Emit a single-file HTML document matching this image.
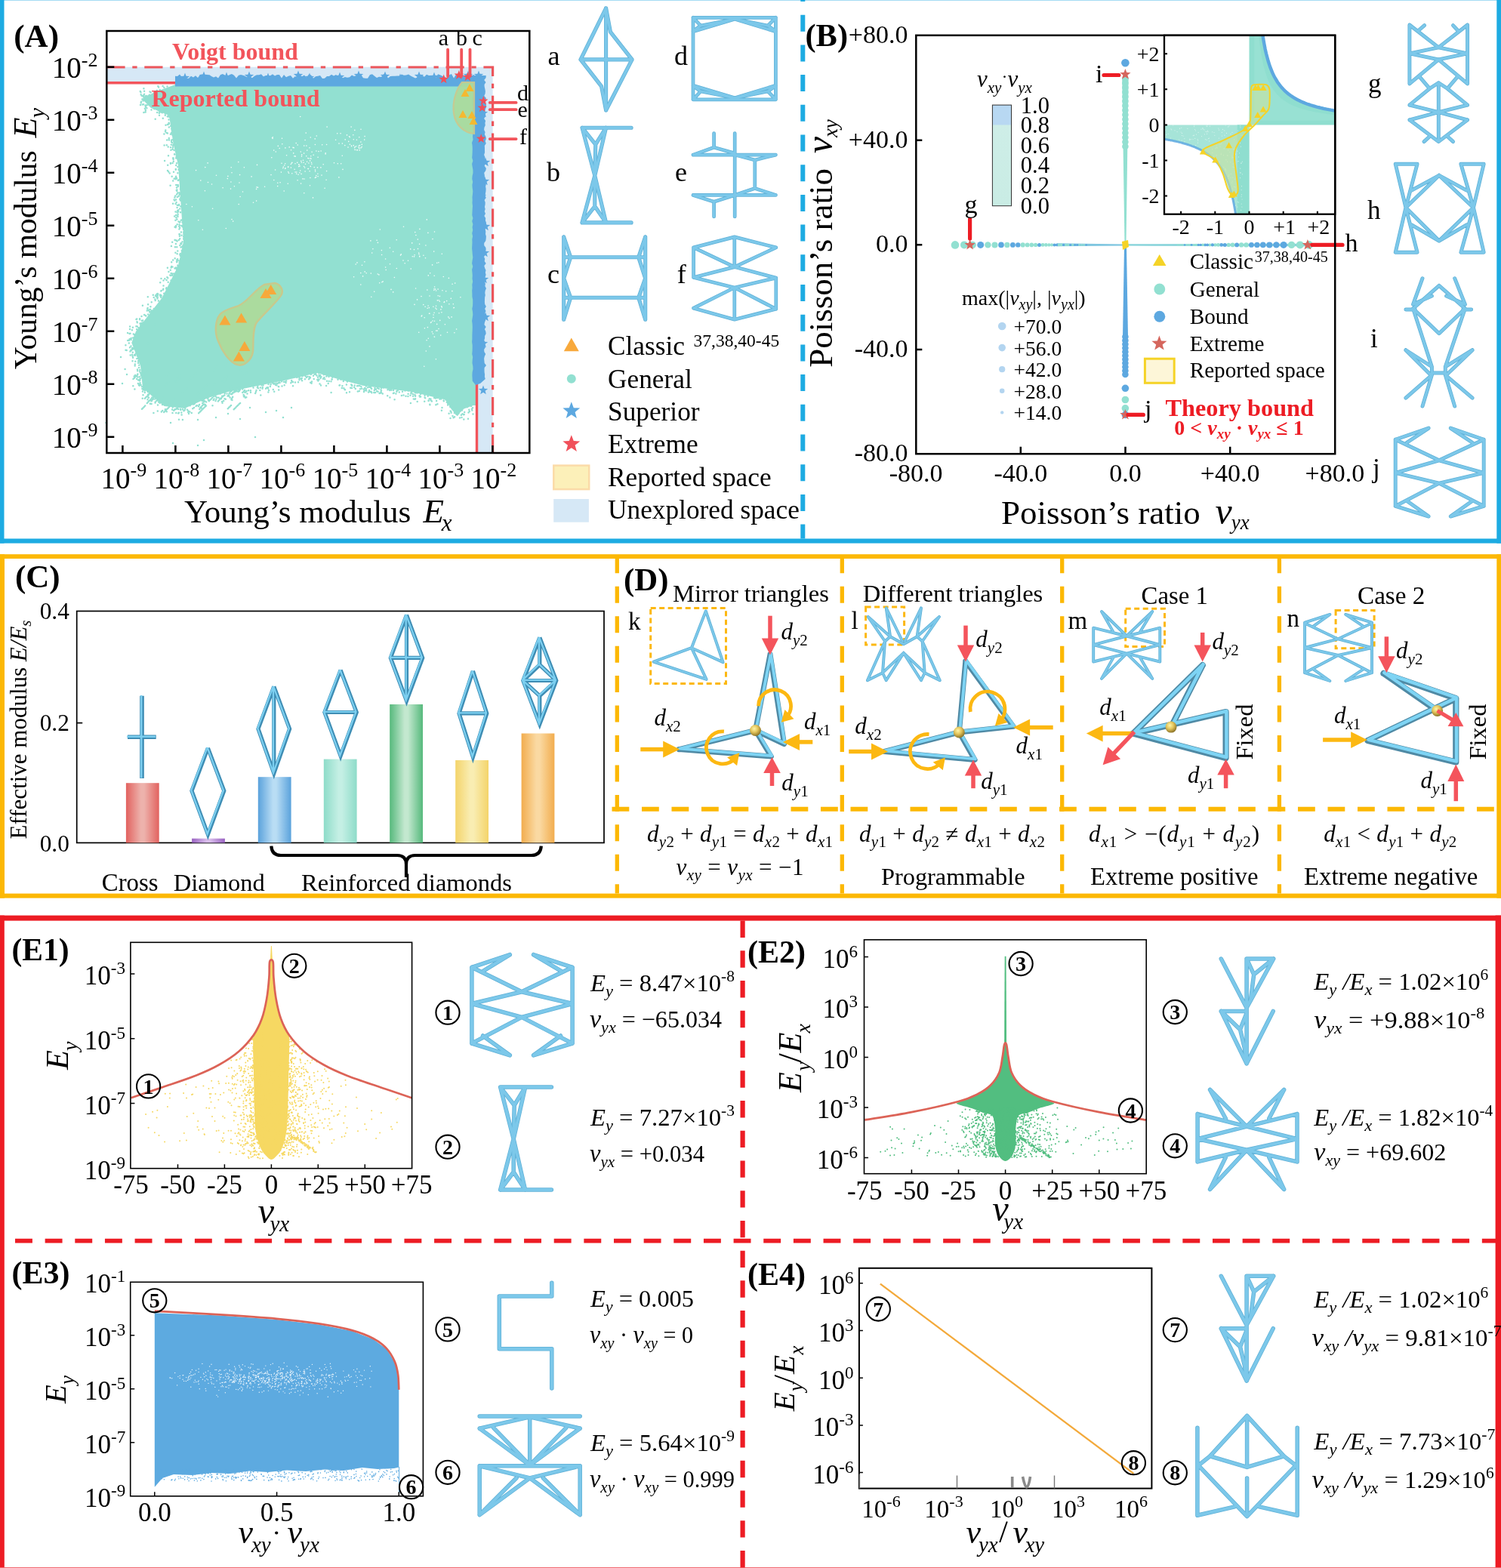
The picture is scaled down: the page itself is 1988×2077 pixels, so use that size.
<!DOCTYPE html>
<html><head><meta charset="utf-8"><title>Figure</title>
<style>html,body{margin:0;padding:0;background:#fff;} svg{display:block;} text{font-family:'Liberation Serif','DejaVu Serif',serif;}</style>
</head><body>
<svg xmlns="http://www.w3.org/2000/svg" width="1988" height="2077" viewBox="0 0 1988 2077">
<rect width="1988" height="2077" fill="#fff"/>
<rect x="0" y="0" width="1988" height="1" fill="#A5DCF3"/>
<rect x="0" y="0" width="5.5" height="719.6" fill="#1DABE2"/>
<rect x="1982.3" y="0" width="5.7" height="719.6" fill="#1DABE2"/>
<rect x="0" y="713.5" width="1988" height="6.1" fill="#1DABE2"/>
<line x1="1063.3" y1="0" x2="1063.3" y2="713.5" stroke="#1DABE2" stroke-width="6" stroke-dasharray="22 17.7" stroke-dashoffset="20"/>
<rect x="0" y="734.2" width="1988" height="5.8" fill="#FCB804"/>
<rect x="0" y="734.2" width="6" height="455.4" fill="#FCB804"/>
<rect x="1982.3" y="734.2" width="5.7" height="455.4" fill="#FCB804"/>
<rect x="0" y="1183.6" width="1988" height="6" fill="#FCB804"/>
<line x1="817.3" y1="737.3" x2="817.3" y2="1183.6" stroke="#FCB804" stroke-width="5.3" stroke-dasharray="22 17.45"/>
<line x1="1115.3" y1="737.3" x2="1115.3" y2="1183.6" stroke="#FCB804" stroke-width="5.3" stroke-dasharray="22 17.45"/>
<line x1="1406.7" y1="737.3" x2="1406.7" y2="1183.6" stroke="#FCB804" stroke-width="5.3" stroke-dasharray="22 17.45"/>
<line x1="1694.4" y1="737.3" x2="1694.4" y2="1183.6" stroke="#FCB804" stroke-width="5.3" stroke-dasharray="22 17.45"/>
<line x1="810.5" y1="1071.7" x2="1982" y2="1071.7" stroke="#FCB804" stroke-width="5.9" stroke-dasharray="22.8 16.7"/>
<rect x="0" y="1212.6" width="1988" height="7" fill="#ED1C24"/>
<rect x="0" y="1212.6" width="5.8" height="865" fill="#ED1C24"/>
<rect x="1980.6" y="1212.6" width="7.4" height="865" fill="#ED1C24"/>
<rect x="0" y="2076" width="1988" height="1" fill="#F26A70"/>
<line x1="983.6" y1="1219.6" x2="983.6" y2="2077" stroke="#ED1C24" stroke-width="6.2" stroke-dasharray="22.4 17.33"/>
<line x1="20" y1="1643.6" x2="1981" y2="1643.6" stroke="#ED1C24" stroke-width="5.8" stroke-dasharray="22.9 16.75"/>
<polygon points="141.3,88.8 652.6,88.8 652.6,600.0 631.5,600.0 631.5,109.8 141.3,109.8" fill="#D6E8F6"/>
<polygon points="232.0,112.0 630.0,112.0 630.0,537.0 627.0,537.0 613.0,542.0 605.5,551.0 597.8,542.0 590.0,529.5 543.7,518.7 481.8,511.0 451.0,503.0 420.0,494.0 378.8,503.6 334.0,512.5 304.0,518.5 274.3,527.5 244.5,541.0 217.6,538.0 189.0,514.0 186.0,484.0 174.3,454.0 180.0,439.0 214.6,394.6 236.0,352.0 243.0,320.0 236.0,219.0 229.5,190.0 224.0,153.0 200.0,143.0 188.0,131.0 205.0,122.0 229.5,113.0" fill="#92E0D1"/>
<path d="M624.9 541.7h0M621.3 542.7h0M626.1 540.2h0M626.5 548.5h0M620.1 538.1h0M624.0 538.1h0M621.8 544.9h0M625.3 543.5h0M618.7 539.2h0M612.8 541.4h0M620.5 546.5h0M614.8 539.9h0M615.2 545.9h0M618.9 538.4h0M614.7 548.9h0M614.1 549.2h0M612.0 543.6h0M609.7 544.6h0M614.3 555.5h0M609.0 553.6h0M620.0 554.8h0M607.5 547.4h0M611.5 552.9h0M605.3 549.1h0M612.5 548.3h0M610.9 549.7h0M606.8 548.0h0M596.6 544.6h0M599.5 551.1h0M606.1 549.3h0M602.1 552.2h0M601.9 547.1h0M597.6 546.7h0M602.8 547.1h0M600.6 553.2h0M594.6 547.8h0M604.3 548.6h0M596.5 554.0h0M597.2 544.9h0M595.4 534.6h0M603.1 540.3h0M591.8 532.8h0M594.5 533.9h0M598.1 539.2h0M599.1 534.5h0M593.1 536.4h0M596.3 538.9h0M593.2 534.4h0M599.7 534.8h0M596.4 538.3h0M597.4 538.9h0M605.3 531.0h0M596.4 534.3h0M598.0 538.9h0M597.1 527.6h0M577.0 527.6h0M545.2 519.6h0M590.5 529.6h0M552.3 520.5h0M570.5 530.3h0M588.8 525.9h0M567.6 530.4h0M550.1 528.3h0M549.9 520.3h0M544.3 520.4h0M557.1 525.4h0M569.4 536.3h0M568.7 528.2h0M584.9 543.7h0M567.6 531.1h0M543.9 534.0h0M562.6 523.8h0M557.1 522.0h0M579.5 527.1h0M543.5 523.7h0M569.3 535.7h0M571.9 531.4h0M562.6 526.4h0M578.1 531.1h0M587.8 531.3h0M575.1 527.1h0M566.7 524.7h0M547.1 524.7h0M576.4 526.5h0M549.4 523.1h0M585.5 540.0h0M549.7 528.7h0M579.4 535.3h0M555.9 525.4h0M550.1 524.8h0M550.0 524.0h0M587.6 530.6h0M563.2 527.3h0M578.4 526.5h0M570.4 528.4h0M566.3 521.9h0M557.6 519.8h0M578.6 526.6h0M546.9 522.1h0M584.2 528.5h0M580.2 526.8h0M547.8 528.5h0M552.7 532.0h0M562.2 531.7h0M577.3 536.3h0M555.6 524.3h0M582.3 528.6h0M504.5 516.3h0M485.3 517.4h0M497.1 520.1h0M484.2 517.0h0M525.4 518.0h0M484.9 515.2h0M525.4 518.6h0M544.5 521.2h0M506.7 512.9h0M525.4 518.8h0M501.8 512.2h0M482.4 517.6h0M506.8 521.5h0M536.5 517.4h0M483.4 514.0h0M534.5 523.4h0M520.9 521.0h0M516.2 516.9h0M499.1 518.2h0M520.6 514.2h0M489.0 517.1h0M482.0 518.9h0M481.8 515.6h0M504.6 519.1h0M515.5 515.4h0M505.0 514.0h0M495.8 517.1h0M505.0 517.5h0M495.3 519.9h0M492.2 515.1h0M488.0 519.6h0M491.6 518.8h0M496.5 514.0h0M502.5 520.9h0M518.0 515.6h0M533.0 518.8h0M491.0 513.0h0M511.5 512.5h0M492.3 520.3h0M528.8 519.4h0M522.6 529.3h0M499.8 513.9h0M521.8 520.5h0M496.4 515.9h0M516.4 526.6h0M507.8 513.5h0M498.0 515.7h0M526.9 517.0h0M518.4 516.8h0M531.9 524.0h0M540.8 517.5h0M483.0 514.2h0M501.7 515.1h0M513.4 516.3h0M513.2 524.2h0M500.6 518.8h0M540.4 524.9h0M524.4 521.6h0M489.1 512.7h0M487.0 513.3h0M521.1 517.0h0M491.5 514.2h0M540.6 521.7h0M537.5 524.8h0M489.8 518.7h0M503.5 520.7h0M484.8 511.5h0M505.0 520.3h0M469.7 510.6h0M466.2 510.9h0M456.6 516.1h0M473.8 518.5h0M479.5 509.1h0M470.3 507.0h0M476.4 510.9h0M453.4 511.3h0M479.2 514.7h0M459.9 505.5h0M452.8 514.0h0M473.0 511.3h0M450.0 510.2h0M459.0 520.3h0M455.3 514.2h0M457.0 502.8h0M477.0 515.2h0M478.4 512.2h0M469.2 513.0h0M465.8 509.7h0M474.4 511.0h0M463.0 519.2h0M455.1 503.1h0M475.8 518.1h0M460.4 503.3h0M451.2 502.4h0M465.2 509.5h0M457.0 516.2h0M458.9 509.4h0M465.9 505.3h0M464.2 513.7h0M454.8 505.1h0M471.7 506.0h0M470.8 515.0h0M466.0 514.0h0M419.5 497.5h0M438.6 520.0h0M425.5 499.2h0M424.5 501.0h0M424.2 496.9h0M449.5 510.6h0M420.6 492.4h0M432.3 498.4h0M424.0 499.1h0M439.4 502.4h0M433.3 497.5h0M423.5 508.5h0M434.7 508.0h0M420.3 503.1h0M435.5 499.0h0M438.5 505.3h0M440.3 499.8h0M422.8 497.3h0M421.8 492.8h0M435.7 505.1h0M425.0 510.4h0M447.5 502.7h0M451.9 502.6h0M428.8 496.3h0M430.3 502.2h0M422.3 494.1h0M433.0 504.8h0M439.8 502.4h0M422.5 496.8h0M429.4 499.9h0M422.5 502.8h0M422.8 498.3h0M432.1 511.1h0M421.0 499.8h0M428.0 501.8h0M395.6 498.4h0M409.7 501.3h0M412.6 507.8h0M403.9 497.6h0M379.2 504.4h0M415.0 497.7h0M410.9 499.9h0M405.9 500.0h0M400.1 504.2h0M391.0 506.5h0M399.8 501.0h0M414.4 492.2h0M396.6 499.4h0M413.0 505.4h0M418.3 494.5h0M418.3 495.9h0M394.8 498.8h0M407.4 498.8h0M421.7 502.6h0M416.7 495.7h0M411.8 496.0h0M395.3 498.9h0M409.1 502.2h0M386.4 505.5h0M403.9 502.2h0M398.9 502.2h0M395.0 506.2h0M399.9 497.9h0M409.8 499.3h0M401.0 498.1h0M396.4 503.2h0M389.7 499.4h0M415.7 502.0h0M386.2 504.0h0M385.3 507.3h0M404.8 498.2h0M393.3 500.1h0M421.4 504.4h0M398.5 501.5h0M388.0 506.1h0M396.5 501.2h0M418.1 493.5h0M413.0 494.6h0M411.2 506.7h0M388.0 511.3h0M410.5 501.1h0M338.2 521.1h0M361.8 515.9h0M358.7 508.7h0M344.3 516.9h0M375.9 505.7h0M370.6 506.9h0M338.9 518.9h0M361.1 507.3h0M365.7 507.4h0M345.0 513.5h0M346.6 510.2h0M355.4 519.4h0M362.4 508.5h0M377.8 505.8h0M369.2 516.5h0M341.6 509.2h0M347.8 513.0h0M363.2 518.8h0M348.6 510.2h0M345.3 523.5h0M355.0 514.6h0M335.0 511.3h0M356.1 517.0h0M373.0 505.2h0M358.5 509.4h0M378.6 506.9h0M354.9 513.3h0M365.2 510.0h0M370.1 504.4h0M368.9 507.1h0M342.2 514.2h0M346.7 510.3h0M366.4 510.2h0M373.5 503.8h0M368.8 511.9h0M353.3 513.4h0M376.7 510.2h0M347.6 514.8h0M355.5 509.0h0M363.5 508.6h0M341.3 511.9h0M363.3 508.1h0M357.9 511.9h0M352.1 514.8h0M340.9 513.6h0M335.6 513.6h0M369.2 512.3h0M373.5 511.4h0M339.5 517.0h0M367.7 508.0h0M322.6 523.0h0M325.4 519.5h0M310.7 519.0h0M321.7 514.2h0M317.1 517.2h0M326.6 517.9h0M331.9 517.2h0M324.9 526.7h0M318.1 516.1h0M322.9 525.2h0M304.8 519.2h0M332.0 519.7h0M321.3 515.6h0M323.8 524.8h0M324.4 519.7h0M307.3 527.6h0M315.9 516.1h0M315.8 518.8h0M308.2 525.7h0M310.2 518.2h0M306.1 517.9h0M317.0 517.7h0M307.1 517.4h0M310.1 519.0h0M307.9 520.5h0M326.3 526.2h0M315.9 515.1h0M314.3 518.3h0M316.4 515.6h0M329.1 517.2h0M312.3 518.6h0M327.5 521.5h0M306.9 527.8h0M296.2 530.9h0M294.1 524.7h0M291.7 521.5h0M285.3 524.1h0M275.5 527.8h0M301.5 524.5h0M303.2 524.5h0M297.8 521.0h0M275.9 530.0h0M282.8 525.3h0M303.6 520.9h0M293.1 528.0h0M300.5 521.6h0M294.5 533.7h0M305.9 522.1h0M294.1 532.1h0M304.6 526.5h0M281.5 537.3h0M291.5 528.1h0M289.5 526.7h0M285.5 531.0h0M297.5 528.3h0M306.4 529.3h0M286.3 528.7h0M287.2 526.6h0M283.5 528.4h0M281.8 523.2h0M282.7 530.1h0M307.4 530.0h0M285.4 525.3h0M298.8 528.7h0M290.3 530.0h0M297.4 523.5h0M303.1 523.2h0M257.0 540.1h0M272.0 537.4h0M251.6 536.1h0M260.7 537.1h0M266.6 540.6h0M255.0 534.2h0M257.6 533.5h0M257.6 534.9h0M247.8 536.2h0M270.3 535.4h0M264.3 542.0h0M275.5 527.2h0M248.6 537.3h0M274.5 527.6h0M270.1 530.8h0M269.9 532.4h0M259.6 538.1h0M267.1 527.6h0M271.9 536.1h0M251.4 545.4h0M271.4 531.6h0M263.7 536.4h0M273.2 532.6h0M253.8 547.0h0M268.2 534.1h0M267.5 530.7h0M248.1 542.8h0M262.9 538.2h0M249.5 544.6h0M251.7 537.3h0M249.2 546.0h0M264.1 536.1h0M274.7 526.5h0M255.3 541.3h0M256.0 535.4h0M228.1 542.5h0M236.2 547.4h0M220.8 545.3h0M237.0 555.7h0M236.1 542.0h0M218.9 542.2h0M236.9 546.8h0M245.3 541.3h0M238.5 538.8h0M234.0 541.2h0M244.6 543.2h0M234.0 541.1h0M231.6 542.2h0M219.3 544.0h0M230.1 543.7h0M233.0 541.9h0M239.3 543.0h0M244.0 543.5h0M240.6 549.4h0M233.3 546.9h0M241.9 555.9h0M243.5 544.2h0M241.9 542.3h0M228.5 547.1h0M230.8 543.2h0M240.3 546.5h0M234.9 541.1h0M238.9 542.1h0M228.7 539.5h0M192.4 514.6h0M196.6 526.8h0M208.0 530.3h0M191.8 517.5h0M191.8 520.1h0M195.9 522.8h0M197.0 526.8h0M201.1 530.7h0M201.6 523.2h0M197.7 519.1h0M196.3 524.1h0M205.6 533.5h0M189.5 523.3h0M205.0 525.7h0M188.9 518.5h0M190.1 514.5h0M189.7 515.9h0M205.7 532.4h0M203.0 526.3h0M195.5 529.3h0M203.4 547.0h0M197.1 522.5h0M203.1 528.5h0M197.8 521.5h0M205.3 528.5h0M213.5 533.0h0M200.6 535.0h0M209.0 536.5h0M188.7 527.7h0M198.9 534.8h0M208.8 544.6h0M211.7 533.8h0M191.6 516.2h0M188.4 515.1h0M195.8 518.9h0M215.0 536.1h0M207.4 530.9h0M205.4 525.6h0M201.3 526.5h0M200.4 531.3h0M202.4 528.9h0M186.1 494.0h0M182.4 495.6h0M185.3 508.6h0M190.5 497.7h0M184.9 504.2h0M181.2 502.0h0M182.0 489.6h0M184.8 502.7h0M184.1 486.9h0M185.2 492.2h0M185.8 501.7h0M187.7 500.3h0M186.6 494.5h0M185.3 490.0h0M189.0 492.6h0M183.9 510.1h0M176.3 511.3h0M186.6 510.1h0M184.6 510.8h0M182.9 508.0h0M187.1 497.7h0M183.2 503.6h0M184.8 499.3h0M187.3 494.5h0M190.4 511.9h0M182.2 491.3h0M185.6 507.3h0M182.4 499.4h0M185.0 502.6h0M185.3 504.0h0M188.0 512.2h0M186.7 496.4h0M178.4 515.5h0M175.6 471.7h0M167.7 463.9h0M178.2 469.9h0M175.0 461.0h0M181.8 471.3h0M179.0 470.7h0M172.0 460.3h0M183.1 480.7h0M170.8 454.6h0M172.7 470.6h0M176.1 473.7h0M184.3 483.7h0M184.3 478.0h0M183.1 478.3h0M175.1 469.8h0M181.3 475.0h0M179.3 478.7h0M179.9 468.6h0M172.4 465.6h0M173.7 464.3h0M178.1 470.5h0M183.3 475.0h0M166.4 457.3h0M166.5 463.7h0M165.6 489.0h0M175.2 462.7h0M178.8 482.6h0M178.7 484.6h0M175.5 478.2h0M176.9 462.3h0M173.3 463.8h0M175.8 466.8h0M185.8 481.3h0M177.0 461.1h0M173.5 458.6h0M171.6 449.2h0M173.7 450.0h0M178.4 446.5h0M176.2 447.5h0M178.4 443.3h0M178.2 443.7h0M171.5 442.1h0M173.7 448.0h0M176.8 442.4h0M169.2 451.1h0M177.5 447.9h0M172.0 436.1h0M171.0 450.8h0M174.9 437.2h0M169.1 441.1h0M177.5 453.4h0M172.5 441.7h0M191.1 417.1h0M207.7 393.3h0M185.1 423.3h0M198.0 412.9h0M183.6 434.3h0M206.0 391.6h0M196.1 403.3h0M189.2 424.4h0M208.9 393.4h0M206.6 392.4h0M181.2 422.6h0M203.8 408.9h0M201.8 412.5h0M190.6 427.2h0M195.3 408.9h0M205.7 398.1h0M209.1 390.8h0M195.8 393.2h0M172.1 432.4h0M187.4 427.9h0M186.4 430.6h0M196.9 411.0h0M185.5 428.5h0M185.1 422.3h0M196.2 416.5h0M186.4 428.7h0M188.9 404.7h0M186.3 431.0h0M198.5 410.0h0M181.1 436.3h0M213.3 394.1h0M189.1 427.5h0M181.5 426.3h0M175.9 433.7h0M180.5 423.0h0M186.4 433.7h0M208.5 395.4h0M190.2 428.6h0M205.4 396.5h0M192.8 418.0h0M186.9 429.1h0M193.3 418.6h0M194.8 411.5h0M181.8 432.5h0M187.8 424.7h0M202.8 390.8h0M181.8 427.2h0M198.3 418.0h0M203.7 394.0h0M199.6 413.1h0M200.7 400.3h0M199.4 406.3h0M187.5 419.1h0M195.6 408.0h0M207.5 389.8h0M202.2 412.0h0M200.9 411.4h0M180.4 432.3h0M198.9 410.0h0M209.9 398.4h0M198.3 413.5h0M227.9 362.9h0M218.3 369.3h0M213.5 392.9h0M230.3 366.7h0M225.3 364.6h0M225.8 357.7h0M222.3 368.2h0M212.1 390.6h0M231.2 365.6h0M216.0 383.8h0M208.2 390.7h0M237.8 352.7h0M226.5 371.6h0M234.4 357.0h0M213.5 368.9h0M226.6 361.9h0M232.9 354.5h0M230.1 362.6h0M220.6 370.9h0M236.1 352.0h0M226.7 354.4h0M212.2 374.3h0M212.2 391.8h0M228.5 353.4h0M212.6 392.1h0M217.2 388.8h0M226.2 365.1h0M208.7 389.1h0M213.3 385.6h0M234.6 355.1h0M216.5 378.6h0M228.0 362.5h0M235.5 353.5h0M221.4 367.2h0M231.1 363.9h0M216.3 382.7h0M223.4 360.0h0M231.5 355.5h0M217.1 394.1h0M213.7 385.1h0M233.6 356.0h0M209.2 389.6h0M222.7 373.7h0M216.8 392.3h0M220.5 381.3h0M220.1 382.4h0M228.4 364.8h0M212.8 392.6h0M227.1 353.0h0M216.5 371.6h0M221.9 354.7h0M213.6 391.3h0M232.4 334.7h0M231.8 317.9h0M234.3 327.2h0M227.2 347.3h0M243.2 327.1h0M226.9 326.1h0M231.9 327.3h0M238.8 335.9h0M234.6 319.6h0M234.7 336.3h0M238.3 337.3h0M239.6 327.6h0M235.2 343.2h0M240.8 331.9h0M241.3 326.9h0M242.0 325.8h0M239.1 338.2h0M228.2 320.7h0M229.2 344.6h0M240.3 322.3h0M238.3 325.0h0M232.9 323.0h0M241.6 334.1h0M239.3 322.5h0M231.6 317.9h0M234.0 346.4h0M235.3 332.4h0M238.9 338.8h0M234.3 344.2h0M235.8 345.2h0M231.7 342.3h0M234.2 347.2h0M235.4 351.6h0M238.2 345.4h0M240.2 323.2h0M237.7 348.1h0M237.8 298.4h0M234.3 253.0h0M239.8 291.7h0M235.9 245.2h0M224.7 229.6h0M233.7 318.6h0M235.4 229.2h0M233.8 252.0h0M223.2 227.6h0M235.9 238.9h0M225.6 245.8h0M237.9 312.8h0M235.3 285.7h0M236.6 260.1h0M231.2 265.5h0M237.3 255.4h0M236.5 271.9h0M236.2 280.1h0M237.3 300.0h0M243.1 316.5h0M234.4 290.6h0M242.4 288.9h0M237.1 270.9h0M237.8 237.9h0M232.8 224.1h0M241.8 300.2h0M233.3 288.3h0M236.2 278.2h0M241.5 320.2h0M238.3 276.4h0M242.2 277.0h0M234.9 245.3h0M232.4 291.7h0M232.5 280.4h0M240.2 273.8h0M235.5 287.0h0M237.4 310.2h0M238.2 257.2h0M236.9 272.0h0M239.7 251.3h0M237.9 310.2h0M238.9 250.6h0M241.6 294.6h0M234.7 281.2h0M244.7 311.7h0M240.5 311.7h0M234.0 248.6h0M238.2 316.2h0M230.7 236.8h0M239.1 281.2h0M238.2 263.7h0M232.7 301.2h0M238.4 294.1h0M235.3 255.6h0M238.2 233.0h0M241.3 298.9h0M232.2 259.5h0M234.2 257.5h0M230.0 227.8h0M235.2 279.1h0M233.1 233.7h0M239.4 261.3h0M232.9 299.3h0M233.1 284.9h0M232.9 237.3h0M235.7 283.7h0M236.2 280.4h0M233.2 245.0h0M240.0 307.5h0M237.5 258.3h0M234.4 251.5h0M231.1 286.4h0M232.8 224.7h0M234.8 271.7h0M230.6 264.4h0M234.1 235.9h0M235.9 247.1h0M235.7 238.4h0M233.1 300.0h0M237.4 303.4h0M234.7 297.3h0M222.0 226.0h0M239.6 262.3h0M238.9 265.4h0M234.8 261.0h0M233.1 264.5h0M234.6 275.0h0M237.8 255.6h0M227.7 233.8h0M239.3 273.3h0M236.5 293.4h0M240.8 291.6h0M237.5 297.5h0M243.2 313.5h0M240.3 299.1h0M242.7 285.1h0M237.7 224.2h0M233.6 267.9h0M231.4 261.5h0M232.6 269.9h0M241.4 299.6h0M232.7 235.2h0M237.9 294.6h0M229.1 269.7h0M236.8 318.1h0M236.6 224.8h0M240.9 248.7h0M229.2 239.5h0M231.6 300.7h0M235.4 221.0h0M238.2 301.8h0M226.0 216.7h0M229.3 191.8h0M230.1 191.1h0M233.6 207.8h0M229.6 211.0h0M226.4 198.7h0M228.6 197.7h0M226.8 191.7h0M222.2 218.8h0M234.0 202.0h0M235.4 201.4h0M233.2 209.4h0M231.1 204.3h0M231.1 204.5h0M233.2 219.1h0M225.9 216.1h0M218.1 213.0h0M226.0 195.3h0M228.6 216.0h0M229.2 193.2h0M237.4 218.6h0M233.1 195.0h0M230.7 199.0h0M229.6 209.6h0M233.6 205.3h0M223.0 206.2h0M220.8 192.3h0M222.7 194.4h0M229.8 213.7h0M234.0 216.3h0M229.1 209.6h0M228.9 195.4h0M222.5 165.0h0M229.2 184.9h0M205.7 157.7h0M226.4 166.5h0M226.9 176.3h0M223.6 158.5h0M225.9 177.7h0M222.0 165.1h0M224.0 163.7h0M226.2 167.1h0M222.3 154.6h0M227.8 173.2h0M215.8 156.7h0M227.3 185.5h0M220.6 176.1h0M223.8 183.1h0M230.0 176.1h0M224.0 185.4h0M219.3 172.5h0M228.0 188.9h0M228.3 178.4h0M223.9 168.6h0M219.5 165.7h0M221.8 154.3h0M228.6 177.3h0M223.8 164.1h0M229.8 169.5h0M223.8 184.9h0M219.0 174.2h0M227.2 188.2h0M223.6 162.7h0M211.0 152.8h0M221.9 176.5h0M217.6 192.6h0M224.6 155.0h0M221.2 185.5h0M217.4 177.6h0M227.1 176.1h0M227.1 187.1h0M227.3 170.7h0M225.5 155.4h0M208.6 141.4h0M219.8 147.7h0M205.8 136.4h0M211.8 148.4h0M213.8 142.3h0M210.8 142.0h0M218.8 152.8h0M204.3 144.2h0M223.2 153.4h0M214.0 148.7h0M218.9 150.5h0M216.7 145.9h0M209.9 146.0h0M210.9 149.8h0M218.2 148.4h0M215.5 146.6h0M225.6 136.3h0M215.0 149.3h0M214.4 149.1h0M225.9 140.1h0M208.2 148.9h0M207.3 139.4h0M222.0 148.8h0M215.8 144.8h0M213.6 144.1h0M225.1 149.8h0M211.3 147.8h0M222.8 153.3h0M187.0 134.8h0M192.9 139.5h0M190.4 149.0h0M191.9 143.7h0M192.8 145.7h0M192.5 140.0h0M197.2 138.6h0M200.5 145.5h0M192.7 148.4h0M194.4 143.2h0M186.7 136.2h0M190.1 138.2h0M193.0 141.6h0M189.6 133.5h0M188.7 138.4h0M192.8 146.5h0M194.7 139.2h0M186.0 139.1h0M187.6 126.8h0M186.5 122.2h0M203.7 123.5h0M198.5 121.5h0M192.1 129.1h0M197.0 126.8h0M199.7 122.4h0M188.4 131.6h0M194.4 127.0h0M197.9 125.7h0M204.9 122.4h0M190.1 126.2h0M190.4 117.2h0M186.7 125.2h0M185.8 121.0h0M188.5 127.0h0M191.1 124.8h0M192.5 127.2h0M205.5 123.2h0M191.1 120.8h0M190.1 128.4h0M211.8 120.3h0M204.6 123.4h0M209.3 114.2h0M210.1 115.6h0M221.5 114.6h0M211.7 119.1h0M215.6 114.0h0M217.4 116.0h0M207.8 119.7h0M287.4 486.0h0M286.0 487.4h0M284.6 488.8h0M283.2 490.2h0M324.1 517.1h0M322.7 518.5h0M321.3 519.9h0M302.3 481.1h0M300.9 482.5h0M299.5 483.9h0M298.1 485.3h0M196.5 506.7h0M195.1 508.1h0M193.7 509.5h0M192.3 510.9h0M190.9 512.3h0M317.0 512.2h0M315.6 513.6h0M314.2 515.0h0M312.8 516.4h0M311.4 517.8h0M310.0 519.2h0M308.6 520.6h0M307.2 522.0h0M323.5 482.9h0M322.1 484.3h0M320.7 485.7h0M300.6 499.1h0M299.2 500.5h0M297.8 501.9h0M296.4 503.3h0M295.0 504.7h0M276.5 507.8h0M275.1 509.2h0M273.7 510.6h0M272.3 512.0h0M270.9 513.4h0M269.5 514.8h0M268.1 516.2h0M266.7 517.6h0M179.1 497.1h0M177.7 498.5h0M215.2 544.1h0M213.8 545.5h0M259.3 494.2h0M257.9 495.6h0M256.5 497.0h0M255.1 498.4h0M253.7 499.8h0M252.3 501.2h0M250.9 502.6h0M200.4 528.3h0M199.0 529.7h0M197.6 531.1h0M196.2 532.5h0M194.8 533.9h0M324.2 485.2h0M322.8 486.6h0M321.4 488.0h0M320.0 489.4h0M318.6 490.8h0M316.1 513.9h0M314.7 515.3h0M313.3 516.7h0M311.9 518.1h0M310.5 519.5h0M318.1 533.9h0M316.7 535.3h0M315.3 536.7h0M313.9 538.1h0M312.5 539.5h0M311.1 540.9h0M309.7 542.3h0M238.0 501.3h0M236.6 502.7h0M235.2 504.1h0M233.8 505.5h0M325.9 485.0h0M324.5 486.4h0M323.1 487.8h0M273.0 537.4h0M271.6 538.8h0M270.2 540.2h0M268.8 541.6h0M267.4 543.0h0M266.0 544.4h0M264.6 545.8h0M263.2 547.2h0M269.4 535.9h0M268.0 537.3h0M266.6 538.7h0M265.2 540.1h0M254.9 530.0h0M253.5 531.4h0M252.1 532.8h0M283.9 507.6h0M282.5 509.0h0M230.2 528.2h0M228.8 529.6h0M227.4 531.0h0M226.0 532.4h0M224.6 533.8h0M223.2 535.2h0M221.8 536.6h0M281.1 527.0h0M279.7 528.4h0M278.3 529.8h0M276.9 531.2h0M223.1 505.9h0M221.7 507.3h0M220.3 508.7h0M218.9 510.1h0M217.5 511.5h0M225.6 537.6h0M224.2 539.0h0M222.8 540.4h0M221.4 541.8h0M220.0 543.2h0M218.6 544.6h0M217.2 546.0h0M198.5 488.6h0M197.1 490.0h0M195.7 491.4h0M194.3 492.8h0M192.9 494.2h0M273.7 525.1h0M272.3 526.5h0M270.9 527.9h0M269.5 529.3h0M268.1 530.7h0M264.5 519.3h0M263.1 520.7h0M261.7 522.1h0M260.3 523.5h0M299.8 502.4h0M298.4 503.8h0M297.0 505.2h0M197.5 522.1h0M196.1 523.5h0M194.7 524.9h0M193.3 526.3h0M191.9 527.7h0M306.0 537.0h0M304.6 538.4h0M303.2 539.8h0M301.8 541.2h0M295.9 524.4h0M294.5 525.8h0M293.1 527.2h0M291.7 528.6h0M290.3 530.0h0M288.9 531.4h0M329.3 491.0h0M327.9 492.4h0M326.5 493.8h0M325.1 495.2h0M323.7 496.6h0M238.5 497.5h0M237.1 498.9h0M235.7 500.3h0M234.3 501.7h0M232.9 503.1h0M231.5 504.5h0M307.6 511.2h0M306.2 512.6h0M304.8 514.0h0M215.7 526.8h0M214.3 528.2h0M212.9 529.6h0M211.5 531.0h0M210.1 532.4h0M182.1 496.5h0M180.7 497.9h0M179.3 499.3h0M177.9 500.7h0M176.5 502.1h0M224.9 493.4h0M223.5 494.8h0M222.1 496.2h0M220.7 497.6h0M192.2 537.6h0M190.8 539.0h0M189.4 540.4h0M188.0 541.8h0M247.7 513.9h0M246.3 515.3h0M244.9 516.7h0M243.5 518.1h0M242.1 519.5h0M168.0 496.0h0M162.0 508.0h0M196.0 455.0h0M205.0 430.0h0M197.0 481.0h0M226.0 560.0h0M250.0 548.0h0M262.0 556.0h0M286.0 553.0h0M302.0 548.0h0M318.0 555.0h0M331.0 540.0h0M352.0 546.0h0M366.0 544.0h0M375.0 553.0h0M386.0 540.0h0M270.0 583.0h0M229.0 587.0h0M262.0 590.0h0M140.5 560.0h0M141.0 490.0h0M160.0 473.0h0M338.0 579.0h0" stroke="#92E0D1" stroke-width="2.5" stroke-linecap="round" fill="none"/>
<path d="M411.5 209.5h0M386.9 215.4h0M432.6 226.6h0M381.3 243.3h0M393.8 215.4h0M404.6 217.3h0M379.6 205.7h0M395.1 231.3h0M359.0 231.6h0M432.6 191.5h0M399.7 204.9h0M371.1 241.8h0M410.5 245.8h0M432.1 238.2h0M399.1 230.4h0M410.6 212.9h0M415.2 205.2h0M397.7 226.0h0M420.5 221.9h0M381.7 220.9h0M447.3 216.8h0M417.4 191.5h0M408.4 223.6h0M386.2 216.1h0M396.9 228.8h0M404.1 185.5h0M414.5 261.9h0M368.3 193.4h0M388.1 195.4h0M376.7 219.0h0M448.9 234.9h0M395.7 220.6h0M417.6 227.0h0M394.2 192.0h0M376.2 253.0h0M416.2 221.6h0M418.9 200.0h0M391.0 216.8h0M370.2 196.5h0M405.8 206.7h0M362.7 199.1h0M407.8 209.5h0M430.1 249.3h0M382.5 229.2h0M398.3 201.0h0M417.4 235.4h0M361.1 183.5h0M426.0 232.1h0M421.1 233.6h0M385.5 198.7h0M381.7 227.7h0M419.3 180.0h0M364.6 225.0h0M377.7 223.5h0M377.9 195.9h0M375.3 221.1h0M413.1 201.3h0M391.3 207.1h0M406.6 214.2h0M402.6 203.1h0M398.8 213.4h0M397.0 220.1h0M372.4 228.1h0M428.2 217.7h0M362.8 238.5h0M395.8 217.9h0M402.8 255.7h0M377.7 216.7h0M392.7 230.2h0M418.6 234.8h0M407.9 223.5h0M410.1 226.7h0M411.8 206.8h0M454.0 224.4h0M340.5 218.4h0M405.9 193.1h0M399.4 215.3h0M385.4 222.1h0M367.8 242.2h0M360.6 182.5h0M405.2 176.1h0M420.9 230.2h0M417.2 183.9h0M410.0 195.8h0M418.8 232.6h0M365.3 201.0h0M367.7 246.6h0M426.7 191.8h0M397.7 154.5h0M417.5 225.1h0M378.0 222.5h0M389.2 195.8h0M396.2 218.3h0M424.9 221.9h0M392.8 228.0h0M408.9 216.0h0M410.9 235.5h0M403.0 237.0h0M399.5 207.1h0M373.8 190.7h0M459.5 178.9h0M402.6 220.5h0M383.2 194.9h0M425.1 200.0h0M401.5 212.3h0M385.3 217.5h0M403.6 222.0h0M421.1 208.3h0M411.3 182.0h0M406.8 199.1h0M402.8 193.1h0M431.2 202.9h0M444.6 185.3h0M386.8 229.7h0M442.5 215.7h0M390.0 206.9h0M361.3 181.7h0M461.7 187.4h0M391.1 228.0h0M412.5 215.2h0M398.6 243.1h0M451.7 216.8h0M373.5 183.3h0M394.1 238.8h0M409.3 210.0h0M411.3 220.4h0M404.1 227.0h0M412.9 217.3h0M381.6 221.5h0M374.9 222.8h0M392.2 189.6h0M453.3 206.2h0M422.0 200.6h0M401.0 236.9h0M373.0 216.3h0M431.1 204.0h0M411.8 210.5h0M388.7 202.9h0M402.1 215.2h0M390.1 224.3h0M468.3 192.6h0M479.3 191.4h0M467.8 178.7h0M465.1 168.1h0M453.4 190.1h0M473.6 198.8h0M469.8 172.4h0M475.1 195.2h0M456.8 192.6h0M451.1 176.8h0M470.1 194.5h0M479.2 194.6h0M465.6 193.7h0M475.8 181.8h0M470.0 198.2h0M483.1 180.6h0M472.4 185.2h0M476.3 198.9h0M463.4 191.2h0M471.7 193.8h0M476.5 192.6h0M470.4 198.5h0M433.1 168.1h0M457.2 184.9h0M465.5 193.1h0M462.6 180.7h0M463.2 181.6h0M472.6 198.8h0M475.8 196.4h0M477.9 188.1h0M446.7 176.8h0M461.0 195.1h0M475.2 193.3h0M482.7 185.1h0M468.3 192.7h0M468.3 184.8h0M449.0 190.1h0M478.0 171.3h0M469.7 195.8h0M478.0 195.9h0M575.5 425.3h0M589.4 429.7h0M574.1 417.0h0M582.3 399.3h0M570.6 427.5h0M566.4 433.6h0M563.1 406.2h0M579.4 397.9h0M594.9 402.8h0M580.2 391.7h0M558.8 418.0h0M573.4 442.0h0M590.7 385.8h0M560.8 403.6h0M588.6 399.9h0M600.3 402.8h0M574.0 420.5h0M579.2 438.1h0M576.6 383.1h0M584.9 413.8h0M584.7 405.8h0M602.7 375.1h0M565.9 384.1h0M594.4 368.4h0M575.2 365.2h0M588.2 400.4h0M562.4 434.7h0M574.9 384.5h0M583.9 409.9h0M582.7 424.4h0M564.3 465.0h0M601.4 407.5h0M554.7 440.3h0M572.3 439.6h0M577.6 385.0h0M572.6 350.9h0M567.3 448.3h0M604.6 436.0h0M568.5 415.2h0M585.3 406.9h0M549.0 403.4h0M573.0 425.0h0M562.2 420.7h0M577.4 475.8h0M598.9 385.6h0M567.1 405.0h0M581.0 435.5h0M569.0 415.3h0M578.1 409.5h0M587.3 366.5h0M581.3 397.8h0M578.7 429.4h0M550.6 382.0h0M565.1 450.7h0M598.1 419.9h0M571.1 426.5h0M567.3 364.9h0M591.7 398.6h0M566.2 408.3h0M595.1 421.5h0M578.7 348.3h0M583.7 444.1h0M582.4 392.4h0M577.7 438.1h0M569.7 361.7h0M575.5 446.2h0M609.9 393.8h0M585.9 384.7h0M575.6 380.0h0M568.3 407.6h0M600.8 407.8h0M577.0 408.1h0M569.0 458.9h0M601.9 440.8h0M575.1 414.2h0M558.2 418.9h0M593.9 419.9h0M575.0 382.7h0M575.3 446.1h0M573.9 406.2h0M599.1 376.3h0M552.6 396.9h0M577.6 405.2h0M597.3 395.4h0M581.5 414.7h0M580.1 383.1h0M592.5 440.3h0M558.0 392.6h0M569.0 392.0h0M561.8 485.2h0M310.4 246.7h0M350.6 247.3h0M299.3 302.5h0M275.1 215.9h0M317.6 231.6h0M315.8 214.6h0M242.2 305.7h0M335.5 268.3h0M305.9 241.0h0M323.4 221.7h0M275.5 241.5h0M301.9 233.4h0M271.4 252.7h0M280.5 244.0h0M295.1 248.7h0M271.8 221.6h0M316.2 270.6h0M246.9 270.5h0M340.1 247.9h0M306.2 221.8h0M359.8 208.7h0M341.6 248.2h0M318.1 260.5h0M307.0 290.6h0M281.6 276.2h0M301.3 236.6h0M321.5 254.0h0M286.5 232.3h0M333.1 233.9h0M265.8 239.1h0M339.6 266.1h0M259.6 225.6h0M268.4 304.3h0M254.4 273.7h0M339.6 250.4h0M317.0 242.0h0M305.5 250.1h0M262.8 291.7h0M308.7 293.1h0M307.0 228.7h0M520.7 333.3h0M483.2 359.9h0M518.0 383.4h0M505.6 337.5h0M510.6 354.0h0M485.2 361.8h0M531.3 336.9h0M520.7 386.9h0M549.1 337.7h0M471.2 350.0h0M510.6 343.0h0M516.5 349.7h0M491.3 362.1h0M490.9 318.9h0M501.9 363.9h0M536.2 348.8h0M495.7 386.3h0M493.9 329.7h0M530.5 338.1h0M491.8 393.3h0M477.8 377.0h0M479.5 351.3h0M507.1 372.9h0M482.9 346.8h0M502.7 374.8h0M477.8 361.6h0M503.3 304.0h0M473.0 347.9h0M511.2 357.5h0M480.6 365.9h0M505.9 373.7h0M499.1 318.3h0M516.4 328.3h0M500.4 321.4h0M522.4 367.5h0M492.7 335.0h0M505.4 331.6h0M525.2 317.7h0M468.6 366.8h0M500.3 363.0h0M563.9 325.0h0M549.8 307.6h0M548.5 330.6h0M574.7 333.1h0M546.3 339.7h0M563.5 341.8h0M560.9 338.3h0M544.2 356.1h0M573.0 316.6h0M550.9 311.5h0M545.7 321.9h0M553.3 317.1h0M555.8 339.9h0M540.5 345.3h0M585.3 336.2h0M566.9 308.4h0M555.6 323.2h0M555.0 336.7h0M543.7 329.9h0M525.3 355.5h0M534.0 345.0h0M555.7 339.3h0M548.5 339.9h0M553.5 329.6h0M534.5 300.2h0M580.9 347.8h0M554.7 335.0h0M565.3 290.9h0M555.9 303.4h0M575.5 307.0h0" stroke="#fff" stroke-width="1.6" stroke-linecap="round" fill="none" opacity="0.9"/>
<polyline points="141.3,109.8 631.5,109.8 631.5,600.0" fill="none" stroke="#F2545B" stroke-width="3.4"/>
<polyline points="141.4,89.0 652.6,89.0 652.6,600.0" fill="none" stroke="#EC555B" stroke-width="3.2" stroke-dasharray="24.2 9.7 6.3 9.7"/>
<polygon points="232.0,114.5 232.0,100.8 235.0,100.9 238.0,98.5 241.0,102.5 244.0,103.4 247.0,103.7 250.0,103.7 253.0,100.8 256.0,102.5 259.0,100.3 262.0,103.1 265.0,99.1 268.0,98.4 271.0,99.2 274.0,99.7 277.0,99.1 280.0,101.0 283.0,102.5 286.0,101.2 289.0,103.5 292.0,98.9 295.0,98.1 298.0,99.8 301.0,102.2 304.0,99.1 307.0,98.1 310.0,99.7 313.0,103.4 316.0,99.7 319.0,99.0 322.0,99.8 325.0,101.1 328.0,102.8 331.0,102.0 334.0,103.2 337.0,100.7 340.0,99.3 343.0,99.2 346.0,98.3 349.0,101.6 352.0,100.0 355.0,100.1 358.0,100.3 361.0,98.3 364.0,100.4 367.0,98.9 370.0,98.9 373.0,103.4 376.0,99.1 379.0,102.2 382.0,100.8 385.0,100.1 388.0,103.8 391.0,101.1 394.0,103.5 397.0,99.3 400.0,101.3 403.0,99.4 406.0,102.8 409.0,98.4 412.0,99.4 415.0,103.7 418.0,101.2 421.0,100.8 424.0,100.0 427.0,103.9 430.0,103.8 433.0,101.0 436.0,100.9 439.0,98.8 442.0,100.6 445.0,99.1 448.0,101.4 451.0,100.3 454.0,103.2 457.0,102.0 460.0,102.8 463.0,102.2 466.0,99.5 469.0,100.9 472.0,100.0 475.0,100.7 478.0,98.5 481.0,103.2 484.0,103.8 487.0,103.7 490.0,98.9 493.0,98.3 496.0,100.8 499.0,103.1 502.0,101.7 505.0,101.9 508.0,98.3 511.0,98.2 514.0,103.6 517.0,100.9 520.0,100.8 523.0,100.8 526.0,100.6 529.0,100.4 532.0,98.6 535.0,99.7 538.0,99.4 541.0,98.6 544.0,100.6 547.0,102.0 550.0,103.4 553.0,102.5 556.0,102.8 559.0,99.8 562.0,101.8 565.0,98.8 568.0,99.9 571.0,99.9 574.0,101.5 577.0,103.9 580.0,98.2 583.0,99.2 586.0,100.8 589.0,102.3 592.0,103.0 595.0,99.3 598.0,98.0 601.0,103.6 604.0,98.7 607.0,100.6 610.0,99.5 613.0,98.8 616.0,102.2 619.0,101.0 622.0,100.2 625.0,100.1 628.0,99.0 628.0,114.5" fill="#5DA8E0"/>
<polygon points="628.0,100.0 643.7,100.0 643.6,103.0 641.2,106.0 643.5,109.0 641.5,112.0 641.7,115.0 642.4,118.0 642.9,121.0 642.6,124.0 641.3,127.0 643.9,130.0 643.3,133.0 642.8,136.0 643.9,139.0 644.0,142.0 642.8,145.0 642.3,148.0 642.9,151.0 643.2,154.0 641.1,157.0 643.1,160.0 642.4,163.0 642.8,166.0 641.4,169.0 641.1,172.0 642.6,175.0 641.9,178.0 643.4,181.0 643.9,184.0 642.7,187.0 643.8,190.0 641.8,193.0 642.0,196.0 642.0,199.0 642.1,202.0 641.1,205.0 642.3,208.0 642.5,211.0 643.9,214.0 642.1,217.0 641.8,220.0 643.9,223.0 643.3,226.0 641.2,229.0 641.8,232.0 641.9,235.0 643.3,238.0 641.9,241.0 643.8,244.0 643.1,247.0 643.6,250.0 643.5,253.0 643.0,256.0 642.6,259.0 643.7,262.0 641.6,265.0 642.7,268.0 642.6,271.0 641.9,274.0 642.7,277.0 641.7,280.0 643.0,283.0 641.4,286.0 643.2,289.0 642.9,292.0 643.9,295.0 642.9,298.0 643.1,301.0 642.8,304.0 643.3,307.0 643.0,310.0 643.9,313.0 643.7,316.0 643.3,319.0 641.2,322.0 641.2,325.0 643.4,328.0 643.7,331.0 641.6,334.0 643.5,337.0 641.0,340.0 642.3,343.0 641.7,346.0 643.7,349.0 641.3,352.0 642.1,355.0 643.5,358.0 642.8,361.0 643.6,364.0 642.6,367.0 641.3,370.0 642.0,373.0 642.9,376.0 642.4,379.0 644.0,382.0 642.7,385.0 642.3,388.0 642.8,391.0 642.1,394.0 642.0,397.0 641.9,400.0 642.2,403.0 643.9,406.0 642.1,409.0 643.5,412.0 642.2,415.0 642.3,418.0 643.8,421.0 643.1,424.0 642.0,427.0 641.4,430.0 643.7,433.0 641.9,436.0 643.3,439.0 643.7,442.0 642.1,445.0 642.1,448.0 641.2,451.0 643.3,454.0 641.4,457.0 642.9,460.0 641.1,463.0 641.4,466.0 643.2,469.0 641.8,472.0 641.1,475.0 641.4,478.0 641.7,481.0 644.0,484.0 641.6,487.0 641.5,490.0 641.6,493.0 642.1,496.0 641.9,499.0 642.8,502.0 636.0,508.0 630.0,510.0 626.0,505.0 625.8,505.0 625.6,501.0 625.4,497.0 625.6,493.0 626.5,489.0 626.3,485.0 625.5,481.0 625.7,477.0 626.2,473.0 625.2,469.0 625.6,465.0 625.7,461.0 625.7,457.0 625.1,453.0 625.4,449.0 625.4,445.0 625.5,441.0 625.7,437.0 625.8,433.0 625.6,429.0 625.1,425.0 625.7,421.0 626.3,417.0 626.0,413.0 625.3,409.0 626.1,405.0 626.2,401.0 626.2,397.0 625.4,393.0 625.4,389.0 625.2,385.0 625.6,381.0 625.3,377.0 626.2,373.0 625.5,369.0 625.8,365.0 625.5,361.0 625.1,357.0 626.3,353.0 625.1,349.0 625.6,345.0 626.3,341.0 625.8,337.0 625.5,333.0 625.1,329.0 625.3,325.0 625.5,321.0 625.3,317.0 626.1,313.0 625.2,309.0 626.2,305.0 625.6,301.0 626.4,297.0 625.2,293.0 626.4,289.0 625.3,285.0 625.5,281.0 625.7,277.0 626.0,273.0 625.5,269.0 625.7,265.0 625.5,261.0 626.0,257.0 626.3,253.0 625.7,249.0 625.4,245.0 626.2,241.0 625.3,237.0 625.6,233.0 626.5,229.0 626.4,225.0 625.7,221.0 625.1,217.0 626.4,213.0 625.2,209.0 625.5,205.0 625.7,201.0 625.8,197.0 625.6,193.0 625.0,189.0 626.5,185.0 626.0,181.0 626.4,177.0 626.4,173.0 626.2,169.0 625.6,165.0 625.6,161.0 626.2,157.0 625.5,153.0 625.1,149.0 625.8,145.0 626.0,141.0 625.2,137.0 625.1,133.0 625.8,129.0 626.3,125.0 625.2,121.0 625.7,117.0" fill="#5DA8E0"/>
<polygon points="245.0,96.5 246.6,100.8 251.2,101.0 247.6,103.8 248.8,108.3 245.0,105.7 241.2,108.3 242.4,103.8 238.8,101.0 243.4,100.8" fill="#5DA8E0"/>
<polygon points="270.0,94.5 271.6,98.8 276.2,99.0 272.6,101.8 273.8,106.3 270.0,103.7 266.2,106.3 267.4,101.8 263.8,99.0 268.4,98.8" fill="#5DA8E0"/>
<polygon points="300.0,95.5 301.6,99.8 306.2,100.0 302.6,102.8 303.8,107.3 300.0,104.7 296.2,107.3 297.4,102.8 293.8,100.0 298.4,99.8" fill="#5DA8E0"/>
<polygon points="330.0,94.5 331.6,98.8 336.2,99.0 332.6,101.8 333.8,106.3 330.0,103.7 326.2,106.3 327.4,101.8 323.8,99.0 328.4,98.8" fill="#5DA8E0"/>
<polygon points="355.0,96.5 356.6,100.8 361.2,101.0 357.6,103.8 358.8,108.3 355.0,105.7 351.2,108.3 352.4,103.8 348.8,101.0 353.4,100.8" fill="#5DA8E0"/>
<polygon points="395.0,93.5 396.6,97.8 401.2,98.0 397.6,100.8 398.8,105.3 395.0,102.7 391.2,105.3 392.4,100.8 388.8,98.0 393.4,97.8" fill="#5DA8E0"/>
<polygon points="410.0,96.5 411.6,100.8 416.2,101.0 412.6,103.8 413.8,108.3 410.0,105.7 406.2,108.3 407.4,103.8 403.8,101.0 408.4,100.8" fill="#5DA8E0"/>
<polygon points="450.0,95.5 451.6,99.8 456.2,100.0 452.6,102.8 453.8,107.3 450.0,104.7 446.2,107.3 447.4,102.8 443.8,100.0 448.4,99.8" fill="#5DA8E0"/>
<polygon points="475.0,93.5 476.6,97.8 481.2,98.0 477.6,100.8 478.8,105.3 475.0,102.7 471.2,105.3 472.4,100.8 468.8,98.0 473.4,97.8" fill="#5DA8E0"/>
<polygon points="510.0,94.5 511.6,98.8 516.2,99.0 512.6,101.8 513.8,106.3 510.0,103.7 506.2,106.3 507.4,101.8 503.8,99.0 508.4,98.8" fill="#5DA8E0"/>
<polygon points="530.0,97.5 531.6,101.8 536.2,102.0 532.6,104.8 533.8,109.3 530.0,106.7 526.2,109.3 527.4,104.8 523.8,102.0 528.4,101.8" fill="#5DA8E0"/>
<polygon points="555.0,94.5 556.6,98.8 561.2,99.0 557.6,101.8 558.8,106.3 555.0,103.7 551.2,106.3 552.4,101.8 548.8,99.0 553.4,98.8" fill="#5DA8E0"/>
<polygon points="575.0,95.5 576.6,99.8 581.2,100.0 577.6,102.8 578.8,107.3 575.0,104.7 571.2,107.3 572.4,102.8 568.8,100.0 573.4,99.8" fill="#5DA8E0"/>
<polygon points="620.0,93.5 621.6,97.8 626.2,98.0 622.6,100.8 623.8,105.3 620.0,102.7 616.2,105.3 617.4,100.8 613.8,98.0 618.4,97.8" fill="#5DA8E0"/>
<polygon points="640.0,143.5 641.6,147.8 646.2,148.0 642.6,150.8 643.8,155.3 640.0,152.7 636.2,155.3 637.4,150.8 633.8,148.0 638.4,147.8" fill="#5DA8E0"/>
<polygon points="643.0,208.5 644.6,212.8 649.2,213.0 645.6,215.8 646.8,220.3 643.0,217.7 639.2,220.3 640.4,215.8 636.8,213.0 641.4,212.8" fill="#5DA8E0"/>
<polygon points="638.0,253.5 639.6,257.8 644.2,258.0 640.6,260.8 641.8,265.3 638.0,262.7 634.2,265.3 635.4,260.8 631.8,258.0 636.4,257.8" fill="#5DA8E0"/>
<polygon points="643.0,293.5 644.6,297.8 649.2,298.0 645.6,300.8 646.8,305.3 643.0,302.7 639.2,305.3 640.4,300.8 636.8,298.0 641.4,297.8" fill="#5DA8E0"/>
<polygon points="642.0,328.5 643.6,332.8 648.2,333.0 644.6,335.8 645.8,340.3 642.0,337.7 638.2,340.3 639.4,335.8 635.8,333.0 640.4,332.8" fill="#5DA8E0"/>
<polygon points="641.0,363.5 642.6,367.8 647.2,368.0 643.6,370.8 644.8,375.3 641.0,372.7 637.2,375.3 638.4,370.8 634.8,368.0 639.4,367.8" fill="#5DA8E0"/>
<polygon points="643.0,413.5 644.6,417.8 649.2,418.0 645.6,420.8 646.8,425.3 643.0,422.7 639.2,425.3 640.4,420.8 636.8,418.0 641.4,417.8" fill="#5DA8E0"/>
<polygon points="640.0,448.5 641.6,452.8 646.2,453.0 642.6,455.8 643.8,460.3 640.0,457.7 636.2,460.3 637.4,455.8 633.8,453.0 638.4,452.8" fill="#5DA8E0"/>
<polygon points="640.0,510.5 641.6,514.8 646.2,515.0 642.6,517.8 643.8,522.3 640.0,519.7 636.2,522.3 637.4,517.8 633.8,515.0 638.4,514.8" fill="#5DA8E0"/>
<polygon points="642.0,233.5 643.6,237.8 648.2,238.0 644.6,240.8 645.8,245.3 642.0,242.7 638.2,245.3 639.4,240.8 635.8,238.0 640.4,237.8" fill="#5DA8E0"/>
<polygon points="634.0,93.5 635.6,97.8 640.2,98.0 636.6,100.8 637.8,105.3 634.0,102.7 630.2,105.3 631.4,100.8 627.8,98.0 632.4,97.8" fill="#5DA8E0"/>
<path d="M628,109 L612,109 C604,118 599,135 601,150 C603,165 614,176 628,177 Z" fill="#ABDB9E" stroke="#C9C98F" stroke-width="2.2" opacity="0.95"/>
<polygon points="616.5,121.0 627.5,121.0 622.0,111.0" fill="#F4B931"/>
<polygon points="610.5,128.0 621.5,128.0 616.0,118.0" fill="#F4B931"/>
<polygon points="607.5,156.0 618.5,156.0 613.0,146.0" fill="#F4B931"/>
<polygon points="619.5,157.0 630.5,157.0 625.0,147.0" fill="#F4B931"/>
<polygon points="621.5,165.0 632.5,165.0 627.0,155.0" fill="#F4B931"/>
<path d="M364,375 C370,376 376,383 373,390 C368,399 350,415 340,427 C334,436 336,455 335,466 C333,478 322,486 314,483 C304,480 294,465 289,452 C284,441 285,425 291,417 C296,410 308,408 316,405 C330,398 338,383 350,377 Z" fill="#ABDB9E" stroke="#C8C98D" stroke-width="2.4"/>
<polygon points="290.4,430.5 305.4,430.5 297.9,417.5" fill="#F6A93B"/>
<polygon points="312.1,427.5 327.1,427.5 319.6,414.5" fill="#F6A93B"/>
<polygon points="316.4,465.0 331.4,465.0 323.9,452.0" fill="#F6A93B"/>
<polygon points="308.9,478.5 323.9,478.5 316.4,465.5" fill="#F6A93B"/>
<polygon points="344.5,395.0 359.5,395.0 352.0,382.0" fill="#F6A93B"/>
<polygon points="351.2,390.0 366.2,390.0 358.7,377.0" fill="#F6A93B"/>
<polygon points="587.7,98.5 589.3,102.8 593.9,103.0 590.3,105.8 591.5,110.3 587.7,107.7 583.9,110.3 585.1,105.8 581.5,103.0 586.1,102.8" fill="#F0505A"/>
<polygon points="607.8,93.1 609.4,97.4 614.0,97.6 610.4,100.4 611.6,104.9 607.8,102.3 604.0,104.9 605.2,100.4 601.6,97.6 606.2,97.4" fill="#F0505A"/>
<polygon points="619.4,95.4 621.0,99.7 625.6,99.9 622.0,102.7 623.2,107.2 619.4,104.6 615.6,107.2 616.8,102.7 613.2,99.9 617.8,99.7" fill="#F0505A"/>
<polygon points="640.3,127.1 641.9,131.4 646.5,131.6 642.9,134.4 644.1,138.9 640.3,136.3 636.5,138.9 637.7,134.4 634.1,131.6 638.7,131.4" fill="#F0505A"/>
<polygon points="638.7,136.3 640.3,140.6 644.9,140.8 641.3,143.6 642.5,148.1 638.7,145.5 634.9,148.1 636.1,143.6 632.5,140.8 637.1,140.6" fill="#F0505A"/>
<polygon points="637.2,177.3 638.8,181.6 643.4,181.8 639.8,184.6 641.0,189.1 637.2,186.5 633.4,189.1 634.6,184.6 631.0,181.8 635.6,181.6" fill="#F0505A"/>
<line x1="593.1" y1="65.6" x2="593.1" y2="101" stroke="#F2545B" stroke-width="3.8" stroke-linecap="round"/>
<line x1="611.2" y1="65.6" x2="611.2" y2="101" stroke="#F2545B" stroke-width="3.8" stroke-linecap="round"/>
<line x1="622.5" y1="65.6" x2="622.5" y2="101" stroke="#F2545B" stroke-width="3.8" stroke-linecap="round"/>
<line x1="648.8" y1="135.9" x2="683.6" y2="135.9" stroke="#F2545B" stroke-width="3.8" stroke-linecap="round"/>
<line x1="648.8" y1="145.2" x2="683.6" y2="145.2" stroke="#F2545B" stroke-width="3.8" stroke-linecap="round"/>
<line x1="648.8" y1="184.1" x2="683.6" y2="184.1" stroke="#F2545B" stroke-width="3.8" stroke-linecap="round"/>
<text x="580.8" y="60.1" font-size="30">a</text>
<text x="604" y="60.1" font-size="30">b</text>
<text x="625.6" y="60.1" font-size="30">c</text>
<text x="685" y="132.8" font-size="30">d</text>
<text x="685.5" y="155.2" font-size="30">e</text>
<text x="688" y="190.8" font-size="30">f</text>
<rect x="141.3" y="41" width="560.0" height="559" fill="none" stroke="#000" stroke-width="2.5"/>
<path d="M162.4,600 v-10 M232.4,600 v-10 M302.4,600 v-10 M372.4,600 v-10 M442.4,600 v-10 M512.4,600 v-10 M582.4,600 v-10 M652.4,600 v-10 M141.3,578.8 h10 M141.3,508.8 h10 M141.3,438.8 h10 M141.3,368.8 h10 M141.3,298.8 h10 M141.3,228.8 h10 M141.3,158.8 h10 M141.3,88.8 h10" stroke="#000" stroke-width="2.5" fill="none"/>
<text x="163.9" y="646.8" font-size="39" text-anchor="middle" fill="#000">10<tspan font-size="26" dy="-15.5">-9</tspan></text>
<text x="233.9" y="646.8" font-size="39" text-anchor="middle" fill="#000">10<tspan font-size="26" dy="-15.5">-8</tspan></text>
<text x="303.9" y="646.8" font-size="39" text-anchor="middle" fill="#000">10<tspan font-size="26" dy="-15.5">-7</tspan></text>
<text x="373.9" y="646.8" font-size="39" text-anchor="middle" fill="#000">10<tspan font-size="26" dy="-15.5">-6</tspan></text>
<text x="443.9" y="646.8" font-size="39" text-anchor="middle" fill="#000">10<tspan font-size="26" dy="-15.5">-5</tspan></text>
<text x="513.9" y="646.8" font-size="39" text-anchor="middle" fill="#000">10<tspan font-size="26" dy="-15.5">-4</tspan></text>
<text x="583.9" y="646.8" font-size="39" text-anchor="middle" fill="#000">10<tspan font-size="26" dy="-15.5">-3</tspan></text>
<text x="653.9" y="646.8" font-size="39" text-anchor="middle" fill="#000">10<tspan font-size="26" dy="-15.5">-2</tspan></text>
<text x="129.5" y="593.4" font-size="39" text-anchor="end" fill="#000">10<tspan font-size="26" dy="-15.5">-9</tspan></text>
<text x="129.5" y="523.4" font-size="39" text-anchor="end" fill="#000">10<tspan font-size="26" dy="-15.5">-8</tspan></text>
<text x="129.5" y="453.4" font-size="39" text-anchor="end" fill="#000">10<tspan font-size="26" dy="-15.5">-7</tspan></text>
<text x="129.5" y="383.4" font-size="39" text-anchor="end" fill="#000">10<tspan font-size="26" dy="-15.5">-6</tspan></text>
<text x="129.5" y="313.4" font-size="39" text-anchor="end" fill="#000">10<tspan font-size="26" dy="-15.5">-5</tspan></text>
<text x="129.5" y="243.4" font-size="39" text-anchor="end" fill="#000">10<tspan font-size="26" dy="-15.5">-4</tspan></text>
<text x="129.5" y="173.4" font-size="39" text-anchor="end" fill="#000">10<tspan font-size="26" dy="-15.5">-3</tspan></text>
<text x="129.5" y="103.4" font-size="39" text-anchor="end" fill="#000">10<tspan font-size="26" dy="-15.5">-2</tspan></text>
<text x="244" y="691.5" font-size="43">Young’s modulus<tspan x="560.5" font-style="italic" font-size="45">E</tspan><tspan x="584.7" font-style="italic" font-size="31" dy="11.6">x</tspan></text>
<text transform="translate(47.5,489.2) rotate(-90)" font-size="41.5">Young’s modulus<tspan x="306.8" font-style="italic" font-size="44">E</tspan><tspan x="333" font-style="italic" font-size="30" dy="11">y</tspan></text>
<text x="18.3" y="61.8" font-size="43" font-weight="bold">(A)</text>
<text x="228" y="79.1" font-size="32" font-weight="bold" fill="#F2545B">Voigt bound</text>
<text x="200.4" y="140.7" font-size="32" font-weight="bold" fill="#F2545B">Reported bound</text>
<g><path d="M769.0,78.9 L802.6,10.8 L808.5,42.4 L837.1,78.9 L802.6,146.0 L796.6,114.4 L769.0,78.9 L837.1,78.9 M802.6,10.8 L802.6,146.0 M802.6,10.8 L808.5,42.4 M796.6,114.4 L802.6,146.0" fill="none" stroke="#5FB0D6" stroke-width="5.1" stroke-linecap="round" stroke-linejoin="round"/><path d="M769.0,78.9 L802.6,10.8 L808.5,42.4 L837.1,78.9 L802.6,146.0 L796.6,114.4 L769.0,78.9 L837.1,78.9 M802.6,10.8 L802.6,146.0 M802.6,10.8 L808.5,42.4 M796.6,114.4 L802.6,146.0" fill="none" stroke="#7CC8EA" stroke-width="3.5999999999999996" stroke-linecap="round" stroke-linejoin="round"/></g>
<g><path d="M836.1,169.2 L771.0,169.2 L787.8,232.7 L802.6,294.9 L836.1,294.9 M771.0,294.9 L802.6,294.9 M802.6,169.2 L787.8,232.7 L771.0,294.9 M771.0,169.2 L788.8,191.3 L802.6,169.2 M788.8,191.3 L787.8,232.7 M771.0,294.9 L787.8,273.2 L802.6,294.9 M787.8,273.2 L787.8,232.7" fill="none" stroke="#5FB0D6" stroke-width="5.1" stroke-linecap="round" stroke-linejoin="round"/><path d="M836.1,169.2 L771.0,169.2 L787.8,232.7 L802.6,294.9 L836.1,294.9 M771.0,294.9 L802.6,294.9 M802.6,169.2 L787.8,232.7 L771.0,294.9 M771.0,169.2 L788.8,191.3 L802.6,169.2 M788.8,191.3 L787.8,232.7 M771.0,294.9 L787.8,273.2 L802.6,294.9 M787.8,273.2 L787.8,232.7" fill="none" stroke="#7CC8EA" stroke-width="3.5999999999999996" stroke-linecap="round" stroke-linejoin="round"/></g>
<g><path d="M746.7,313.9 L746.7,423.2 M854.7,313.9 L854.7,423.2 M746.7,313.9 L755.7,340.7 L746.7,368.6 L755.7,394.3 L746.7,423.2 M854.7,313.9 L845.7,340.7 L854.7,368.6 L845.7,394.3 L854.7,423.2 M746.7,340.7 L854.7,340.7 M746.7,394.3 L854.7,394.3" fill="none" stroke="#5FB0D6" stroke-width="5.1" stroke-linecap="round" stroke-linejoin="round"/><path d="M746.7,313.9 L746.7,423.2 M854.7,313.9 L854.7,423.2 M746.7,313.9 L755.7,340.7 L746.7,368.6 L755.7,394.3 L746.7,423.2 M854.7,313.9 L845.7,340.7 L854.7,368.6 L845.7,394.3 L854.7,423.2 M746.7,340.7 L854.7,340.7 M746.7,394.3 L854.7,394.3" fill="none" stroke="#7CC8EA" stroke-width="3.5999999999999996" stroke-linecap="round" stroke-linejoin="round"/></g>
<g><path d="M918.0,23.3 L1027.4,23.3 L1027.4,131.8 L918.0,131.8 L918.0,23.3 M918.9,41.4 L973.2,25.2 L1026.4,41.4 M918.9,113.6 L973.2,129.8 L1026.4,113.6 M918.0,23.3 L928.0,34.0 L918.0,41.4 M928.0,34.0 L973.2,25.2 M1027.4,23.3 L1017.0,34.0 L1027.4,41.4 M1017.0,34.0 L973.2,25.2 M918.0,131.8 L928.0,121.0 L918.0,113.6 M928.0,121.0 L973.2,129.8 M1027.4,131.8 L1017.0,121.0 L1027.4,113.6 M1017.0,121.0 L973.2,129.8" fill="none" stroke="#5FB0D6" stroke-width="4.7" stroke-linecap="round" stroke-linejoin="round"/><path d="M918.0,23.3 L1027.4,23.3 L1027.4,131.8 L918.0,131.8 L918.0,23.3 M918.9,41.4 L973.2,25.2 L1026.4,41.4 M918.9,113.6 L973.2,129.8 L1026.4,113.6 M918.0,23.3 L928.0,34.0 L918.0,41.4 M928.0,34.0 L973.2,25.2 M1027.4,23.3 L1017.0,34.0 L1027.4,41.4 M1017.0,34.0 L973.2,25.2 M918.0,131.8 L928.0,121.0 L918.0,113.6 M928.0,121.0 L973.2,129.8 M1027.4,131.8 L1017.0,121.0 L1027.4,113.6 M1017.0,121.0 L973.2,129.8" fill="none" stroke="#7CC8EA" stroke-width="3.1999999999999997" stroke-linecap="round" stroke-linejoin="round"/></g>
<g><path d="M973.2,176.5 L973.2,287.0 M945.6,176.5 L945.6,195.3 M945.6,267.3 L945.6,287.0 M918.0,205.1 L1027.4,205.1 M918.0,258.4 L1027.4,258.4 M999.8,212.0 L999.8,249.5 M918.0,205.1 L945.6,195.3 L973.2,203.0 M973.2,205.1 L999.8,212.0 L1027.4,205.1 M918.0,258.4 L945.6,267.3 L973.2,258.4 M973.2,258.4 L999.8,249.5 L1027.4,258.4" fill="none" stroke="#5FB0D6" stroke-width="4.7" stroke-linecap="round" stroke-linejoin="round"/><path d="M973.2,176.5 L973.2,287.0 M945.6,176.5 L945.6,195.3 M945.6,267.3 L945.6,287.0 M918.0,205.1 L1027.4,205.1 M918.0,258.4 L1027.4,258.4 M999.8,212.0 L999.8,249.5 M918.0,205.1 L945.6,195.3 L973.2,203.0 M973.2,205.1 L999.8,212.0 L1027.4,205.1 M918.0,258.4 L945.6,267.3 L973.2,258.4 M973.2,258.4 L999.8,249.5 L1027.4,258.4" fill="none" stroke="#7CC8EA" stroke-width="3.1999999999999997" stroke-linecap="round" stroke-linejoin="round"/></g>
<g><path d="M918.6,327.9 L972.8,313.9 L1027.8,327.9 M918.6,327.9 L918.6,367.5 M972.8,313.9 L972.8,353.6 M918.6,327.9 L972.8,353.6 L1027.8,368.1 M1027.8,327.9 L972.8,353.6 L918.6,367.5 M918.6,367.5 L972.8,381.0 L1027.8,368.1 M1027.8,368.1 L1027.8,409.3 M918.6,408.2 L972.8,381.0 L1027.8,409.3 M918.6,408.2 L972.8,423.2 L1027.8,409.3 M972.8,381.0 L972.8,423.2" fill="none" stroke="#5FB0D6" stroke-width="4.7" stroke-linecap="round" stroke-linejoin="round"/><path d="M918.6,327.9 L972.8,313.9 L1027.8,327.9 M918.6,327.9 L918.6,367.5 M972.8,313.9 L972.8,353.6 M918.6,327.9 L972.8,353.6 L1027.8,368.1 M1027.8,327.9 L972.8,353.6 L918.6,367.5 M918.6,367.5 L972.8,381.0 L1027.8,368.1 M1027.8,368.1 L1027.8,409.3 M918.6,408.2 L972.8,381.0 L1027.8,409.3 M918.6,408.2 L972.8,423.2 L1027.8,409.3 M972.8,381.0 L972.8,423.2" fill="none" stroke="#7CC8EA" stroke-width="3.1999999999999997" stroke-linecap="round" stroke-linejoin="round"/></g>
<text x="725.6" y="85.8" font-size="36">a</text>
<text x="724" y="239.6" font-size="36">b</text>
<text x="725" y="375" font-size="36">c</text>
<text x="893" y="85.8" font-size="36">d</text>
<text x="894" y="239.6" font-size="36">e</text>
<text x="896.7" y="375" font-size="36">f</text>
<polygon points="746.8,465.2 766.8,465.2 756.8,447.6" fill="#F8A93C"/>
<circle cx="756.8" cy="501.8" r="6" fill="#92E0D1"/>
<polygon points="756.8,532.3 759.8,540.2 768.2,540.6 761.6,545.9 763.9,554.0 756.8,549.3 749.7,554.0 752.0,545.9 745.4,540.6 753.8,540.2" fill="#5DA8E0"/>
<polygon points="756.8,576.2 759.8,584.1 768.2,584.5 761.6,589.8 763.9,597.9 756.8,593.2 749.7,597.9 752.0,589.8 745.4,584.5 753.8,584.1" fill="#F0505A"/>
<rect x="733.3" y="616.6" width="46.9" height="31.5" fill="#FCF0B9" stroke="#FBDBA8" stroke-width="2.5"/>
<rect x="733.2" y="661" width="46.7" height="30.7" fill="#D6E8F6"/>
<text x="805" y="470.3" font-size="35.3">Classic</text>
<text x="805" y="513.6" font-size="35.3">General</text>
<text x="805" y="556.5" font-size="35.3">Superior</text>
<text x="805" y="599.5" font-size="35.3">Extreme</text>
<text x="805" y="643.9" font-size="35.3">Reported space</text>
<text x="805" y="687.4" font-size="35.3">Unexplored space</text>
<text x="918.6" y="458.6" font-size="23.5">37,38,40-45</text>
<defs><clipPath id="insclip"><rect x="1542" y="46.8" width="226.2" height="236.9"/></clipPath><linearGradient id="tq1" x1="0" y1="1" x2="1" y2="0"><stop offset="0" stop-color="#8EDFD0"/><stop offset="0.55" stop-color="#A2E2D4"/><stop offset="1" stop-color="#8FDCD0"/></linearGradient></defs>
<g clip-path="url(#insclip)"><polygon points="1654.5,165.4 1654.5,42.9 1671.9,42.9 1674.1,57.0 1676.4,68.2 1678.7,77.3 1680.9,84.8 1683.2,91.2 1685.4,96.6 1687.7,101.3 1690.0,105.4 1692.2,109.0 1694.5,112.2 1696.7,115.0 1699.0,117.6 1701.3,119.9 1703.5,122.0 1705.8,123.9 1708.0,125.6 1710.3,127.3 1712.6,128.7 1714.8,130.1 1717.1,131.4 1719.3,132.6 1721.6,133.7 1723.9,134.7 1726.1,135.7 1728.4,136.6 1730.6,137.4 1732.9,138.2 1735.2,139.0 1737.4,139.7 1739.7,140.4 1741.9,141.1 1744.2,141.7 1746.5,142.3 1748.7,142.8 1751.0,143.3 1753.2,143.8 1755.5,144.3 1757.8,144.8 1760.0,145.2 1762.3,145.6 1764.5,146.1 1766.8,146.4 1769.1,146.8 1771.3,147.2 1772.0,147.3 1772.0,165.4" fill="#8FDECF"/>
<polygon points="1661.3,159.7 1661.3,42.9 1666.7,42.9 1668.9,62.1 1671.2,76.1 1673.4,86.8 1675.7,95.1 1678.0,101.9 1680.2,107.5 1682.5,112.2 1684.7,116.1 1687.0,119.6 1689.3,122.5 1691.5,125.2 1693.8,127.5 1696.0,129.5 1698.3,131.4 1700.6,133.1 1702.8,134.6 1705.1,135.9 1707.3,137.2 1709.6,138.4 1711.9,139.4 1714.1,140.4 1716.4,141.3 1718.6,142.2 1720.9,143.0 1723.2,143.7 1725.4,144.4 1727.7,145.0 1729.9,145.6 1732.2,146.2 1734.5,146.8 1736.7,147.3 1739.0,147.8 1741.2,148.2 1743.5,148.7 1745.8,149.1 1748.0,149.5 1750.3,149.8 1752.5,150.2 1754.8,150.5 1757.1,150.9 1759.3,151.2 1761.6,151.5 1763.8,151.8 1766.1,152.0 1768.4,152.3 1770.6,152.6 1772.0,159.7" fill="#9FE3D6" opacity="0.6"/>
<polygon points="1654.5,165.4 1654.5,287.9 1637.1,287.9 1634.9,273.8 1632.6,262.6 1630.3,253.5 1628.1,246.0 1625.8,239.6 1623.6,234.2 1621.3,229.5 1619.0,225.4 1616.8,221.8 1614.5,218.6 1612.3,215.8 1610.0,213.2 1607.7,210.9 1605.5,208.8 1603.2,206.9 1601.0,205.2 1598.7,203.5 1596.4,202.1 1594.2,200.7 1591.9,199.4 1589.7,198.2 1587.4,197.1 1585.1,196.1 1582.9,195.1 1580.6,194.2 1578.4,193.4 1576.1,192.6 1573.8,191.8 1571.6,191.1 1569.3,190.4 1567.1,189.7 1564.8,189.1 1562.5,188.5 1560.3,188.0 1558.0,187.5 1555.8,187.0 1553.5,186.5 1551.2,186.0 1549.0,185.6 1546.7,185.2 1544.5,184.7 1542.2,184.4 1539.9,184.0 1537.7,183.6 1537.0,183.5 1537.0,165.4" fill="#A6E4D8"/>
<rect x="1638.7" y="165.4" width="15.8" height="122.5" fill="#8FDECF"/>
<path d="M1635.9 196.5h0M1610.0 211.7h0M1623.2 166.0h0M1584.4 178.1h0M1599.2 165.6h0M1642.5 189.3h0M1624.5 176.4h0M1627.7 190.2h0M1581.5 167.6h0M1626.7 198.9h0M1596.9 174.3h0M1598.1 185.2h0M1581.5 179.2h0M1643.2 228.9h0M1605.7 174.8h0M1623.3 225.9h0M1644.1 251.6h0M1644.5 246.7h0M1615.1 213.9h0M1599.3 173.2h0M1634.2 197.7h0M1644.1 260.6h0M1567.1 180.1h0M1638.0 254.3h0M1565.3 179.5h0M1550.9 170.8h0M1633.4 264.6h0M1611.0 195.7h0M1628.1 196.0h0M1643.4 194.2h0M1639.0 200.1h0M1640.3 268.1h0M1598.9 167.3h0M1612.0 188.9h0M1565.5 176.4h0M1632.2 240.0h0M1600.2 174.6h0M1636.5 204.0h0M1583.6 173.0h0M1626.7 236.6h0M1550.6 183.1h0M1613.9 170.1h0M1616.0 191.6h0M1623.3 224.5h0M1631.8 251.5h0M1645.3 214.2h0M1581.7 165.7h0M1642.7 166.7h0M1617.3 203.0h0M1642.6 228.9h0M1608.8 179.3h0M1621.8 172.9h0M1621.2 227.5h0M1625.8 205.6h0M1627.6 182.8h0M1621.9 179.2h0M1615.0 187.1h0M1543.4 172.1h0M1623.9 211.7h0M1643.8 179.0h0M1625.6 214.1h0M1563.1 188.5h0M1564.7 169.3h0M1596.4 184.6h0M1615.9 194.3h0M1630.1 235.5h0M1617.8 190.4h0M1639.1 267.3h0M1591.5 180.6h0M1644.9 274.1h0M1634.7 247.3h0M1614.5 189.4h0M1636.5 272.2h0M1601.4 183.0h0M1631.7 209.1h0M1572.9 170.4h0M1642.6 174.6h0M1631.3 255.7h0M1632.9 208.6h0M1586.7 186.2h0M1580.2 179.7h0M1619.5 171.4h0M1625.4 194.7h0M1639.7 173.0h0M1626.6 167.9h0M1595.4 177.9h0M1562.6 170.0h0M1645.2 179.2h0M1627.6 231.8h0M1635.7 237.2h0M1583.6 192.7h0M1637.6 232.5h0M1600.6 183.6h0M1579.7 192.7h0M1577.3 184.5h0M1602.4 167.2h0M1553.7 166.0h0M1556.0 172.8h0M1618.3 175.4h0M1547.1 177.3h0M1564.1 175.0h0M1634.4 221.6h0M1618.5 180.1h0M1638.5 176.7h0M1622.6 223.4h0M1645.1 264.0h0M1586.5 189.2h0M1633.2 216.9h0M1628.0 166.9h0M1620.5 205.6h0M1607.0 207.2h0M1612.2 195.8h0M1620.9 227.2h0M1634.5 184.8h0M1562.6 170.6h0M1565.1 186.1h0M1643.5 216.2h0M1622.9 229.5h0M1644.4 257.9h0M1628.8 201.5h0M1630.3 230.4h0M1638.7 257.0h0M1611.1 205.6h0M1641.5 202.8h0M1636.1 247.9h0M1542.9 180.7h0M1608.0 175.5h0M1632.0 175.3h0M1640.3 213.5h0M1620.9 221.5h0M1601.7 186.9h0M1551.7 171.8h0M1629.9 214.8h0M1621.1 196.7h0M1614.5 172.2h0M1595.0 171.9h0M1582.6 171.6h0M1613.4 188.4h0M1642.7 223.2h0M1580.0 184.5h0M1638.9 274.1h0M1643.7 278.4h0M1569.4 190.4h0M1642.6 235.7h0M1644.2 270.1h0M1587.1 175.4h0M1590.9 171.2h0M1631.8 206.9h0M1575.7 184.2h0M1605.8 202.3h0M1582.7 183.4h0M1593.6 171.0h0M1626.8 233.7h0M1598.6 177.4h0M1625.9 206.3h0M1609.1 209.6h0M1592.9 169.7h0M1611.1 193.0h0M1631.7 242.1h0M1597.9 166.8h0M1632.8 235.2h0M1644.5 216.0h0M1630.0 177.6h0M1617.2 204.6h0M1609.9 196.8h0M1561.7 185.0h0M1645.4 230.8h0M1642.9 168.9h0M1640.4 207.9h0M1575.8 185.4h0M1605.7 197.6h0M1568.8 183.6h0M1568.9 187.6h0M1639.0 214.0h0M1611.0 190.0h0M1586.2 184.6h0M1542.7 179.8h0M1632.5 179.7h0M1592.8 170.1h0M1632.8 221.1h0M1631.8 249.4h0M1544.6 178.3h0M1613.3 188.4h0M1614.4 183.1h0M1559.1 174.6h0M1598.5 174.7h0" stroke="#fff" stroke-width="1.2" stroke-linecap="round" fill="none" opacity="0.55"/>
<polyline points="1671.7,41.5 1673.0,50.5 1674.4,58.4 1675.7,65.2 1677.1,71.2 1678.5,76.5 1679.8,81.3 1681.2,85.6 1682.5,89.4 1683.9,92.9 1685.2,96.1 1686.6,99.1 1687.9,101.8 1689.3,104.2 1690.7,106.5 1692.0,108.7 1693.4,110.6 1694.7,112.5 1696.1,114.2 1697.4,115.8 1698.8,117.3 1700.2,118.8 1701.5,120.1 1702.9,121.4 1704.2,122.6 1705.6,123.7 1706.9,124.8 1708.3,125.8 1709.6,126.8 1711.0,127.7 1712.4,128.6 1713.7,129.4 1715.1,130.3 1716.4,131.0 1717.8,131.8 1719.1,132.5 1720.5,133.1 1721.8,133.8 1723.2,134.4 1724.6,135.0 1725.9,135.6 1727.3,136.1 1728.6,136.7 1730.0,137.2 1731.3,137.7 1732.7,138.2 1734.1,138.6 1735.4,139.1 1736.8,139.5 1738.1,139.9 1739.5,140.3 1740.8,140.7 1742.2,141.1 1743.5,141.5 1744.9,141.9 1746.3,142.2 1747.6,142.5 1749.0,142.9 1750.3,143.2 1751.7,143.5 1753.0,143.8 1754.4,144.1 1755.7,144.4 1757.1,144.7 1758.5,144.9 1759.8,145.2 1761.2,145.4 1762.5,145.7 1763.9,145.9 1765.2,146.2 1766.6,146.4 1768.0,146.6 1769.3,146.9 1770.7,147.1 1772.0,147.3" fill="none" stroke="#5DA8E0" stroke-width="4.4"/>
<polyline points="1637.3,289.3 1636.0,280.3 1634.6,272.4 1633.3,265.6 1631.9,259.6 1630.5,254.3 1629.2,249.5 1627.8,245.2 1626.5,241.4 1625.1,237.9 1623.8,234.7 1622.4,231.7 1621.1,229.0 1619.7,226.6 1618.3,224.3 1617.0,222.1 1615.6,220.2 1614.3,218.3 1612.9,216.6 1611.6,215.0 1610.2,213.5 1608.8,212.0 1607.5,210.7 1606.1,209.4 1604.8,208.2 1603.4,207.1 1602.1,206.0 1600.7,205.0 1599.4,204.0 1598.0,203.1 1596.6,202.2 1595.3,201.4 1593.9,200.5 1592.6,199.8 1591.2,199.0 1589.9,198.3 1588.5,197.7 1587.2,197.0 1585.8,196.4 1584.4,195.8 1583.1,195.2 1581.7,194.7 1580.4,194.1 1579.0,193.6 1577.7,193.1 1576.3,192.6 1574.9,192.2 1573.6,191.7 1572.2,191.3 1570.9,190.9 1569.5,190.5 1568.2,190.1 1566.8,189.7 1565.5,189.3 1564.1,188.9 1562.7,188.6 1561.4,188.3 1560.0,187.9 1558.7,187.6 1557.3,187.3 1556.0,187.0 1554.6,186.7 1553.3,186.4 1551.9,186.1 1550.5,185.9 1549.2,185.6 1547.8,185.4 1546.5,185.1 1545.1,184.9 1543.8,184.6 1542.4,184.4 1541.0,184.2 1539.7,183.9 1538.3,183.7 1537.0,183.5" fill="none" stroke="#5DA8E0" stroke-width="3" opacity="0.85"/>
<path d="M1660.0,112.5 C1661.8,112.0 1665.2,111.8 1668.0,111.8 C1670.8,111.8 1674.8,111.2 1677.0,112.2 C1679.2,113.2 1680.5,114.2 1681.3,118.0 C1682.0,121.8 1681.7,130.5 1681.5,135.0 C1681.3,139.5 1681.6,141.8 1680.0,145.0 C1678.4,148.2 1675.1,150.5 1672.0,154.0 C1668.9,157.5 1665.2,161.9 1661.2,166.1 C1657.2,170.3 1652.1,173.9 1648.0,179.0 C1643.9,184.1 1638.8,191.5 1636.6,196.7 C1634.4,201.9 1634.8,203.6 1635.0,210.0 C1635.2,216.4 1637.2,227.7 1638.0,235.0 C1638.8,242.3 1640.3,249.9 1639.5,254.0 C1638.7,258.1 1635.2,260.2 1633.0,259.5 C1630.8,258.8 1628.3,255.0 1626.0,250.0 C1623.7,245.0 1622.1,236.0 1619.4,229.6 C1616.7,223.2 1614.2,216.6 1609.7,211.6 C1605.2,206.6 1590.8,203.8 1592.5,199.5 C1594.2,195.2 1611.1,190.4 1620.0,186.0 C1628.9,181.6 1640.2,176.8 1646.0,173.0 C1651.8,169.2 1653.2,166.8 1655.0,163.0 C1656.8,159.2 1656.2,156.3 1656.5,150.0 C1656.8,143.7 1656.6,130.8 1656.8,125.0 C1657.0,119.2 1657.0,117.1 1657.5,115.0 C1658.0,112.9 1658.2,113.0 1660.0,112.5 Z" fill="#C8E3A0" fill-opacity="0.6" stroke="#F5D327" stroke-width="2" stroke-linejoin="round"/>
<polygon points="1658.2,120.1 1667.2,120.1 1662.7,112.1" fill="#F5D327"/>
<polygon points="1661.9,120.1 1670.9,120.1 1666.4,112.1" fill="#F5D327"/>
<polygon points="1668.6,120.1 1677.6,120.1 1673.1,112.1" fill="#F5D327"/>
<polygon points="1668.6,148.5 1677.6,148.5 1673.1,140.5" fill="#F5D327"/>
<polygon points="1661.2,156.0 1670.2,156.0 1665.7,148.0" fill="#F5D327"/>
<polygon points="1650.0,167.9 1659.0,167.9 1654.5,159.9" fill="#F5D327"/>
<polygon points="1644.8,173.9 1653.8,173.9 1649.3,165.9" fill="#F5D327"/>
<polygon points="1623.1,196.2 1632.1,196.2 1627.6,188.2" fill="#F5D327"/>
<polygon points="1588.8,204.4 1597.8,204.4 1593.3,196.4" fill="#F5D327"/>
<polygon points="1605.2,215.6 1614.2,215.6 1609.7,207.6" fill="#F5D327"/>
<polygon points="1629.8,260.4 1638.8,260.4 1634.3,252.4" fill="#F5D327"/>
<polygon points="1626.8,261.9 1635.8,261.9 1631.3,253.9" fill="#F5D327"/>
</g>
<rect x="1542" y="46.8" width="226.20000000000005" height="236.89999999999998" fill="none" stroke="#000" stroke-width="2.3"/>
<path d="M1564.1,283.7 v-4 M1542,259.6 h4 M1609.3,283.7 v-4 M1542,212.5 h4 M1654.5,283.7 v-4 M1542,165.4 h4 M1699.7,283.7 v-4 M1542,118.3 h4 M1744.9,283.7 v-4 M1542,71.2 h4" stroke="#000" stroke-width="2" fill="none"/>
<text x="1535.5" y="80.8" font-size="28" text-anchor="end">+2</text>
<text x="1746.4" y="310" font-size="28" text-anchor="middle">+2</text>
<text x="1535.5" y="127.9" font-size="28" text-anchor="end">+1</text>
<text x="1701.2" y="310" font-size="28" text-anchor="middle">+1</text>
<text x="1535.5" y="175.0" font-size="28" text-anchor="end">0</text>
<text x="1654.5" y="310" font-size="28" text-anchor="middle">0</text>
<text x="1535.5" y="222.1" font-size="28" text-anchor="end">-1</text>
<text x="1609.3" y="310" font-size="28" text-anchor="middle">-1</text>
<text x="1535.5" y="269.2" font-size="28" text-anchor="end">-2</text>
<text x="1564.1" y="310" font-size="28" text-anchor="middle">-2</text>
<polygon points="1400.0,322.3 1490.0,323.5 1490.0,325.5 1400.0,326.3" fill="#7FC6E0"/>
<polygon points="1490.0,323.3 1740.0,322.8 1740.0,326.3 1490.0,325.6" fill="#86D3DA"/>
<polygon points="1486.2,103.0 1494.6,103.0 1491.5,322.0 1489.5,322.0" fill="#92E0D1"/>
<polygon points="1489.0,327.0 1492.0,327.0 1494.0,446.0 1487.0,446.0" fill="#5DA8E0"/>
<circle cx="1265.0" cy="324.4" r="5.3" fill="#92E0D1"/><circle cx="1277.0" cy="324.4" r="5.0" fill="#92E0D1"/><circle cx="1288.2" cy="324.4" r="4.7" fill="#92E0D1"/><circle cx="1298.7" cy="324.4" r="4.5" fill="#5DA8E0"/><circle cx="1308.4" cy="324.4" r="4.2" fill="#92E0D1"/><circle cx="1317.5" cy="324.4" r="4.0" fill="#92E0D1"/><circle cx="1326.0" cy="324.4" r="3.8" fill="#5DA8E0"/><circle cx="1333.9" cy="324.4" r="3.6" fill="#92E0D1"/><circle cx="1341.4" cy="324.4" r="3.4" fill="#5DA8E0"/><circle cx="1348.3" cy="324.4" r="3.2" fill="#5DA8E0"/><circle cx="1354.7" cy="324.4" r="3.1" fill="#92E0D1"/><circle cx="1360.7" cy="324.4" r="2.9" fill="#92E0D1"/><circle cx="1366.3" cy="324.4" r="2.8" fill="#92E0D1"/><circle cx="1371.6" cy="324.4" r="2.6" fill="#92E0D1"/><circle cx="1376.5" cy="324.4" r="2.5" fill="#5DA8E0"/><circle cx="1381.1" cy="324.4" r="2.4" fill="#92E0D1"/><circle cx="1385.3" cy="324.4" r="2.3" fill="#92E0D1"/><circle cx="1389.3" cy="324.4" r="2.2" fill="#92E0D1"/><circle cx="1393.0" cy="324.4" r="2.1" fill="#92E0D1"/><circle cx="1396.5" cy="324.4" r="2.0" fill="#5DA8E0"/><circle cx="1399.7" cy="324.4" r="1.9" fill="#5DA8E0"/><circle cx="1402.7" cy="324.4" r="1.9" fill="#92E0D1"/><circle cx="1405.7" cy="324.4" r="1.8" fill="#92E0D1"/><circle cx="1408.7" cy="324.4" r="1.7" fill="#5DA8E0"/><circle cx="1411.7" cy="324.4" r="1.6" fill="#92E0D1"/><circle cx="1414.7" cy="324.4" r="1.6" fill="#92E0D1"/><circle cx="1417.7" cy="324.4" r="1.5" fill="#5DA8E0"/><circle cx="1420.7" cy="324.4" r="1.4" fill="#92E0D1"/><circle cx="1423.7" cy="324.4" r="1.3" fill="#5DA8E0"/><circle cx="1426.7" cy="324.4" r="1.3" fill="#5DA8E0"/><circle cx="1429.7" cy="324.4" r="1.2" fill="#92E0D1"/><circle cx="1432.7" cy="324.4" r="1.2" fill="#92E0D1"/><circle cx="1435.7" cy="324.4" r="1.2" fill="#92E0D1"/><circle cx="1438.7" cy="324.4" r="1.2" fill="#5DA8E0"/><circle cx="1733.8" cy="324.4" r="5.3" fill="#92E0D1"/><circle cx="1721.8" cy="324.4" r="5.0" fill="#92E0D1"/><circle cx="1710.6" cy="324.4" r="4.7" fill="#92E0D1"/><circle cx="1700.1" cy="324.4" r="4.5" fill="#5DA8E0"/><circle cx="1690.4" cy="324.4" r="4.2" fill="#5DA8E0"/><circle cx="1681.3" cy="324.4" r="4.0" fill="#5DA8E0"/><circle cx="1672.8" cy="324.4" r="3.8" fill="#5DA8E0"/><circle cx="1664.9" cy="324.4" r="3.6" fill="#5DA8E0"/><circle cx="1657.4" cy="324.4" r="3.4" fill="#5DA8E0"/><circle cx="1650.5" cy="324.4" r="3.2" fill="#92E0D1"/><circle cx="1644.1" cy="324.4" r="3.1" fill="#92E0D1"/><circle cx="1638.1" cy="324.4" r="2.9" fill="#5DA8E0"/><circle cx="1632.5" cy="324.4" r="2.8" fill="#92E0D1"/><circle cx="1627.2" cy="324.4" r="2.6" fill="#92E0D1"/><circle cx="1622.3" cy="324.4" r="2.5" fill="#5DA8E0"/><circle cx="1617.7" cy="324.4" r="2.4" fill="#5DA8E0"/><circle cx="1613.5" cy="324.4" r="2.3" fill="#92E0D1"/><circle cx="1609.5" cy="324.4" r="2.2" fill="#92E0D1"/><circle cx="1605.8" cy="324.4" r="2.1" fill="#5DA8E0"/><circle cx="1602.3" cy="324.4" r="2.0" fill="#92E0D1"/><circle cx="1599.1" cy="324.4" r="1.9" fill="#5DA8E0"/><circle cx="1596.1" cy="324.4" r="1.9" fill="#5DA8E0"/><circle cx="1593.1" cy="324.4" r="1.8" fill="#92E0D1"/><circle cx="1590.1" cy="324.4" r="1.7" fill="#5DA8E0"/><circle cx="1587.1" cy="324.4" r="1.6" fill="#5DA8E0"/><circle cx="1584.1" cy="324.4" r="1.6" fill="#92E0D1"/><circle cx="1581.1" cy="324.4" r="1.5" fill="#92E0D1"/><circle cx="1578.1" cy="324.4" r="1.4" fill="#5DA8E0"/><circle cx="1575.1" cy="324.4" r="1.3" fill="#92E0D1"/><circle cx="1572.1" cy="324.4" r="1.3" fill="#92E0D1"/><circle cx="1569.1" cy="324.4" r="1.2" fill="#5DA8E0"/><circle cx="1566.1" cy="324.4" r="1.2" fill="#92E0D1"/><circle cx="1563.1" cy="324.4" r="1.2" fill="#92E0D1"/><circle cx="1560.1" cy="324.4" r="1.2" fill="#92E0D1"/><circle cx="1490.4" cy="104.0" r="4.3" fill="#92E0D1"/><circle cx="1490.4" cy="110.0" r="4.3" fill="#92E0D1"/><circle cx="1490.4" cy="116.0" r="4.3" fill="#92E0D1"/><circle cx="1490.4" cy="122.0" r="4.3" fill="#92E0D1"/><circle cx="1490.4" cy="128.0" r="4.3" fill="#92E0D1"/><circle cx="1490.4" cy="134.0" r="4.3" fill="#92E0D1"/><circle cx="1490.4" cy="140.0" r="4.3" fill="#92E0D1"/><circle cx="1490.4" cy="146.0" r="4.3" fill="#92E0D1"/><circle cx="1490.4" cy="152.0" r="4.3" fill="#92E0D1"/><circle cx="1490.4" cy="158.0" r="4.3" fill="#92E0D1"/><circle cx="1490.4" cy="164.0" r="4.3" fill="#92E0D1"/><circle cx="1490.4" cy="170.0" r="4.3" fill="#92E0D1"/><circle cx="1490.4" cy="176.0" r="4.3" fill="#92E0D1"/><circle cx="1490.4" cy="182.0" r="4.3" fill="#92E0D1"/><circle cx="1490.4" cy="188.0" r="4.3" fill="#92E0D1"/><circle cx="1490.4" cy="194.0" r="4.3" fill="#92E0D1"/><circle cx="1490.4" cy="83.2" r="5.3" fill="#5DA8E0"/><circle cx="1490.4" cy="446.0" r="4.3" fill="#5DA8E0"/><circle cx="1490.4" cy="451.0" r="4.3" fill="#5DA8E0"/><circle cx="1490.4" cy="456.0" r="4.3" fill="#5DA8E0"/><circle cx="1490.4" cy="461.0" r="4.3" fill="#5DA8E0"/><circle cx="1490.4" cy="466.0" r="4.3" fill="#5DA8E0"/><circle cx="1490.4" cy="471.0" r="4.3" fill="#5DA8E0"/><circle cx="1490.4" cy="476.0" r="4.3" fill="#5DA8E0"/><circle cx="1490.4" cy="481.0" r="4.3" fill="#5DA8E0"/><circle cx="1490.4" cy="486.0" r="4.3" fill="#5DA8E0"/><circle cx="1490.4" cy="491.0" r="4.3" fill="#5DA8E0"/><circle cx="1490.4" cy="496.0" r="4.3" fill="#5DA8E0"/><circle cx="1490.4" cy="514.3" r="4.8" fill="#5DA8E0"/><circle cx="1490.4" cy="529.5" r="4.8" fill="#92E0D1"/><circle cx="1490.4" cy="540.8" r="4.8" fill="#92E0D1"/><circle cx="1490.4" cy="549.4" r="4.8" fill="#5DA8E0"/>
<polygon points="1486.0,320.0 1494.0,318.0 1495.0,327.0 1487.0,331.0" fill="#F5D327"/>
<polygon points="1284.6,316.9 1286.5,321.9 1291.7,322.1 1287.6,325.4 1289.0,330.5 1284.6,327.5 1280.2,330.5 1281.6,325.4 1277.5,322.1 1282.7,321.9" fill="#D5665D"/>
<polygon points="1490.4,91.0 1492.3,96.0 1497.5,96.2 1493.4,99.5 1494.8,104.6 1490.4,101.7 1486.0,104.6 1487.4,99.5 1483.3,96.2 1488.5,96.0" fill="#D5665D"/>
<polygon points="1490.4,541.9 1492.3,546.9 1497.5,547.1 1493.4,550.4 1494.8,555.5 1490.4,552.5 1486.0,555.5 1487.4,550.4 1483.3,547.1 1488.5,546.9" fill="#D5665D"/>
<polygon points="1731.9,316.9 1733.8,321.9 1739.0,322.1 1734.9,325.4 1736.3,330.5 1731.9,327.5 1727.5,330.5 1728.9,325.4 1724.8,322.1 1730.0,321.9" fill="#D5665D"/>
<line x1="1284.6" y1="290.3" x2="1284.6" y2="315.9" stroke="#ED1C24" stroke-width="5.2" stroke-linecap="round"/>
<line x1="1462" y1="99.5" x2="1481.8" y2="99.5" stroke="#ED1C24" stroke-width="5.2" stroke-linecap="round"/>
<line x1="1494" y1="549.4" x2="1514.3" y2="549.4" stroke="#ED1C24" stroke-width="5.2" stroke-linecap="round"/>
<line x1="1738" y1="324.4" x2="1778" y2="324.4" stroke="#ED1C24" stroke-width="5.2" stroke-linecap="round"/>
<text x="1277.5" y="282" font-size="34">g</text>
<text x="1451" y="109" font-size="34">i</text>
<text x="1516" y="553.4" font-size="34">j</text>
<text x="1781.5" y="332.9" font-size="34">h</text>
<rect x="1213.3" y="46.8" width="554.9000000000001" height="554.4000000000001" fill="none" stroke="#000" stroke-width="2.5"/>
<path d="M1351.8,601.2 v-9.5 M1213.3,462.9 h8 M1490.5,601.2 v-9.5 M1213.3,324.3 h8 M1629.2,601.2 v-9.5 M1213.3,185.7 h8" stroke="#000" stroke-width="2.5" fill="none"/>
<text x="1202.5" y="56.9" font-size="34" text-anchor="end">+80.0</text>
<text x="1767.9" y="637.5" font-size="34" text-anchor="middle">+80.0</text>
<text x="1202.5" y="195.5" font-size="34" text-anchor="end">+40.0</text>
<text x="1629.2" y="637.5" font-size="34" text-anchor="middle">+40.0</text>
<text x="1202.5" y="334.1" font-size="34" text-anchor="end">0.0</text>
<text x="1490.5" y="637.5" font-size="34" text-anchor="middle">0.0</text>
<text x="1202.5" y="472.7" font-size="34" text-anchor="end">-40.0</text>
<text x="1351.8" y="637.5" font-size="34" text-anchor="middle">-40.0</text>
<text x="1202.5" y="611.3" font-size="34" text-anchor="end">-80.0</text>
<text x="1213.1" y="637.5" font-size="34" text-anchor="middle">-80.0</text>
<text x="1326" y="694.3" font-size="45">Poisson’s ratio<tspan x="1609.6" font-style="italic" font-size="50">ν</tspan><tspan x="1630.7" font-style="italic" font-size="27" dy="7">yx</tspan></text>
<text transform="translate(1101.5,486.8) rotate(-90)" font-size="45">Poisson’s ratio<tspan x="283.6" font-style="italic" font-size="50">ν</tspan><tspan x="304.7" font-style="italic" font-size="27" dy="7">xy</tspan></text>
<text x="1066.5" y="60.5" font-size="42.4" font-weight="bold">(B)</text>
<defs><linearGradient id="cbg" x1="0" y1="0" x2="0" y2="1"><stop offset="0" stop-color="#CFEEE8"/><stop offset="1" stop-color="#C9ECE4"/></linearGradient></defs>
<rect x="1314.4" y="139.1" width="25.1" height="133.6" fill="url(#cbg)"/>
<rect x="1314.4" y="139.1" width="25.1" height="26.4" fill="#B8D8F2"/>
<rect x="1314.4" y="139.1" width="25.1" height="133.6" fill="none" stroke="#333" stroke-width="1"/>
<text x="1351.8" y="149.7" font-size="30.5">1.0</text>
<text x="1351.8" y="176.3" font-size="30.5">0.8</text>
<text x="1351.8" y="202.8" font-size="30.5">0.6</text>
<text x="1351.8" y="229.4" font-size="30.5">0.4</text>
<text x="1351.8" y="255.9" font-size="30.5">0.2</text>
<text x="1351.8" y="282.5" font-size="30.5">0.0</text>
<text x="1294" y="114.5" font-size="31" font-style="italic">ν<tspan font-size="21" dy="8">xy</tspan><tspan font-size="24" dy="-14" font-style="normal">·</tspan><tspan dy="6">ν</tspan><tspan font-size="21" dy="8">yx</tspan></text>
<text x="1274" y="404" font-size="28">max(|<tspan font-style="italic">ν</tspan><tspan font-style="italic" font-size="20" dy="6">xy</tspan><tspan dy="-6">|, |</tspan><tspan font-style="italic">ν</tspan><tspan font-style="italic" font-size="20" dy="6">yx</tspan><tspan dy="-6">|)</tspan></text>
<circle cx="1327.2" cy="432.0" r="5.3" fill="#B3D5F0"/>
<text x="1342.5" y="442.0" font-size="27.5">+70.0</text>
<circle cx="1327.2" cy="460.6" r="4.8" fill="#B3D5F0"/>
<text x="1342.5" y="470.6" font-size="27.5">+56.0</text>
<circle cx="1327.2" cy="489.2" r="4.1" fill="#B3D5F0"/>
<text x="1342.5" y="499.2" font-size="27.5">+42.0</text>
<circle cx="1327.2" cy="517.8" r="3.3" fill="#B3D5F0"/>
<text x="1342.5" y="527.8" font-size="27.5">+28.0</text>
<circle cx="1327.2" cy="546.4" r="2.2" fill="#B3D5F0"/>
<text x="1342.5" y="556.4" font-size="27.5">+14.0</text>
<polygon points="1526.9,352.1 1544.5,352.1 1535.7,337.1" fill="#F5D327"/>
<circle cx="1535.8" cy="383" r="7.45" fill="#92E0D1"/>
<circle cx="1535.8" cy="419.2" r="7.45" fill="#5DA8E0"/>
<polygon points="1535.4,444.5 1538.0,451.4 1545.4,451.8 1539.6,456.4 1541.6,463.5 1535.4,459.4 1529.2,463.5 1531.2,456.4 1525.4,451.8 1532.8,451.4" fill="#D5665D"/>
<rect x="1516.4" y="475.2" width="38.8" height="32.1" fill="#FDF6D8" stroke="#F5D327" stroke-width="3"/>
<text x="1575.7" y="356.3" font-size="29.2">Classic</text>
<text x="1575.7" y="392.8" font-size="29.2">General</text>
<text x="1575.7" y="428.7" font-size="29.2">Bound</text>
<text x="1575.7" y="464.5" font-size="29.2">Extreme</text>
<text x="1575.7" y="500.3" font-size="29.2">Reported space</text>
<text x="1661.7" y="347.3" font-size="20.1">37,38,40-45</text>
<text x="1543.5" y="551.3" font-size="32.3" font-weight="bold" fill="#ED1C24">Theory bound</text>
<text x="1555.3" y="575.7" font-size="28" font-weight="bold" fill="#ED1C24">0 &lt; <tspan font-style="italic">ν</tspan><tspan font-style="italic" font-size="19" dy="5">xy</tspan><tspan dy="-5"> · </tspan><tspan font-style="italic">ν</tspan><tspan font-style="italic" font-size="19" dy="5">yx</tspan><tspan dy="-5"> ≤ 1</tspan></text>
<g><path d="M1866.9,33.0 L1866.9,110.9 M1943.6,33.0 L1943.6,110.9 M1866.9,33.0 L1905.3,62.9 L1943.6,33.0 M1878.6,40.5 L1886.6,33.6 M1930.9,40.5 L1924.5,33.6 M1866.9,70.9 L1905.3,62.9 L1943.6,70.9 L1905.3,78.9 L1866.9,70.9 M1866.9,110.9 L1905.3,78.9 L1943.6,110.9 M1880.7,102.3 L1893.5,117.3 M1929.8,102.3 L1917.0,117.3 M1866.9,139.1 L1893.5,117.3 L1905.3,109.8 L1917.0,117.3 L1943.6,139.1 M1905.3,109.8 L1905.3,187.6 M1866.9,139.1 L1905.3,148.7 L1943.6,139.1 M1866.9,158.8 L1905.3,148.7 L1943.6,158.8 M1866.9,158.8 L1905.3,187.6 L1943.6,158.8 M1893.0,181.2 L1886.0,187.6 M1917.6,181.2 L1924.6,187.6" fill="none" stroke="#5FB0D6" stroke-width="4.9" stroke-linecap="round" stroke-linejoin="round"/><path d="M1866.9,33.0 L1866.9,110.9 M1943.6,33.0 L1943.6,110.9 M1866.9,33.0 L1905.3,62.9 L1943.6,33.0 M1878.6,40.5 L1886.6,33.6 M1930.9,40.5 L1924.5,33.6 M1866.9,70.9 L1905.3,62.9 L1943.6,70.9 L1905.3,78.9 L1866.9,70.9 M1866.9,110.9 L1905.3,78.9 L1943.6,110.9 M1880.7,102.3 L1893.5,117.3 M1929.8,102.3 L1917.0,117.3 M1866.9,139.1 L1893.5,117.3 L1905.3,109.8 L1917.0,117.3 L1943.6,139.1 M1905.3,109.8 L1905.3,187.6 M1866.9,139.1 L1905.3,148.7 L1943.6,139.1 M1866.9,158.8 L1905.3,148.7 L1943.6,158.8 M1866.9,158.8 L1905.3,187.6 L1943.6,158.8 M1893.0,181.2 L1886.0,187.6 M1917.6,181.2 L1924.6,187.6" fill="none" stroke="#7CC8EA" stroke-width="3.4" stroke-linecap="round" stroke-linejoin="round"/></g>
<g><path d="M1848.2,217.2 L1877.1,217.2 L1861.9,275.0 L1848.2,217.2 M1861.9,275.0 L1848.2,334.3 L1877.1,334.3 L1861.9,275.0 M1934.9,217.2 L1965.2,217.2 L1951.5,275.0 L1934.9,217.2 M1951.5,275.0 L1934.9,334.3 L1965.2,334.3 L1951.5,275.0 M1906.0,232.3 L1861.9,275.0 L1906.0,319.1 L1951.5,275.0 L1906.0,232.3 M1906.0,232.3 L1869.6,252.2 M1906.0,232.3 L1942.4,252.2 M1906.0,319.1 L1869.6,297.9 M1906.0,319.1 L1942.4,297.9" fill="none" stroke="#5FB0D6" stroke-width="4.9" stroke-linecap="round" stroke-linejoin="round"/><path d="M1848.2,217.2 L1877.1,217.2 L1861.9,275.0 L1848.2,217.2 M1861.9,275.0 L1848.2,334.3 L1877.1,334.3 L1861.9,275.0 M1934.9,217.2 L1965.2,217.2 L1951.5,275.0 L1934.9,217.2 M1951.5,275.0 L1934.9,334.3 L1965.2,334.3 L1951.5,275.0 M1906.0,232.3 L1861.9,275.0 L1906.0,319.1 L1951.5,275.0 L1906.0,232.3 M1906.0,232.3 L1869.6,252.2 M1906.0,232.3 L1942.4,252.2 M1906.0,319.1 L1869.6,297.9 M1906.0,319.1 L1942.4,297.9" fill="none" stroke="#7CC8EA" stroke-width="3.4" stroke-linecap="round" stroke-linejoin="round"/></g>
<g><path d="M1906.0,378.3 L1871.6,408.7 L1906.0,441.7 L1940.4,408.7 L1906.0,378.3 M1861.9,410.0 L1874.3,410.0 M1937.7,410.0 L1948.7,410.0 M1884.0,368.7 L1871.6,403.1 L1896.4,392.1 M1926.7,368.7 L1940.4,403.1 L1915.6,392.1 M1871.6,408.7 L1896.4,485.8 M1940.4,408.7 L1914.3,485.8 M1896.4,494.0 L1914.3,494.0 M1861.9,463.7 L1896.4,485.8 L1896.4,496.8 L1861.9,527.1 M1950.1,463.7 L1914.3,485.8 L1914.3,496.8 L1950.1,527.1 M1861.9,463.7 L1895.0,496.8 M1950.1,463.7 L1915.6,496.8 M1896.4,496.8 L1884.0,538.1 M1914.3,496.8 L1926.7,538.1" fill="none" stroke="#5FB0D6" stroke-width="4.9" stroke-linecap="round" stroke-linejoin="round"/><path d="M1906.0,378.3 L1871.6,408.7 L1906.0,441.7 L1940.4,408.7 L1906.0,378.3 M1861.9,410.0 L1874.3,410.0 M1937.7,410.0 L1948.7,410.0 M1884.0,368.7 L1871.6,403.1 L1896.4,392.1 M1926.7,368.7 L1940.4,403.1 L1915.6,392.1 M1871.6,408.7 L1896.4,485.8 M1940.4,408.7 L1914.3,485.8 M1896.4,494.0 L1914.3,494.0 M1861.9,463.7 L1896.4,485.8 L1896.4,496.8 L1861.9,527.1 M1950.1,463.7 L1914.3,485.8 L1914.3,496.8 L1950.1,527.1 M1861.9,463.7 L1895.0,496.8 M1950.1,463.7 L1915.6,496.8 M1896.4,496.8 L1884.0,538.1 M1914.3,496.8 L1926.7,538.1" fill="none" stroke="#7CC8EA" stroke-width="3.4" stroke-linecap="round" stroke-linejoin="round"/></g>
<g><path d="M1848.2,582.2 L1848.2,670.4 M1965.2,582.2 L1965.2,670.4 M1848.2,582.2 L1906.0,609.8 L1965.2,626.3 M1965.2,582.2 L1906.0,609.8 L1848.2,626.3 M1848.2,626.3 L1906.0,640.1 L1965.2,670.4 M1965.2,626.3 L1906.0,640.1 L1848.2,670.4 M1848.2,582.2 L1892.2,567.1 L1863.3,586.3 M1965.2,582.2 L1921.2,567.1 L1950.1,586.3 M1848.2,670.4 L1892.2,684.1 L1863.3,663.5 M1965.2,670.4 L1921.2,684.1 L1950.1,663.5" fill="none" stroke="#5FB0D6" stroke-width="4.9" stroke-linecap="round" stroke-linejoin="round"/><path d="M1848.2,582.2 L1848.2,670.4 M1965.2,582.2 L1965.2,670.4 M1848.2,582.2 L1906.0,609.8 L1965.2,626.3 M1965.2,582.2 L1906.0,609.8 L1848.2,626.3 M1848.2,626.3 L1906.0,640.1 L1965.2,670.4 M1965.2,626.3 L1906.0,640.1 L1848.2,670.4 M1848.2,582.2 L1892.2,567.1 L1863.3,586.3 M1965.2,582.2 L1921.2,567.1 L1950.1,586.3 M1848.2,670.4 L1892.2,684.1 L1863.3,663.5 M1965.2,670.4 L1921.2,684.1 L1950.1,663.5" fill="none" stroke="#7CC8EA" stroke-width="3.4" stroke-linecap="round" stroke-linejoin="round"/></g>
<text x="1812" y="121.5" font-size="35">g</text>
<text x="1811" y="289.6" font-size="35">h</text>
<text x="1815" y="460.4" font-size="35">i</text>
<text x="1818" y="631.8" font-size="35">j</text>
<text x="20" y="777.9" font-size="43" font-weight="bold">(C)</text>
<rect x="101.7" y="809.5" width="698.3" height="306.9" fill="none" stroke="#000" stroke-width="1.7"/>
<path d="M101.7,957.6 h7.5" stroke="#000" stroke-width="1.7"/>
<text x="91.8" y="820.1" font-size="31.3" text-anchor="end">0.4</text>
<text x="91.8" y="968.2" font-size="31.3" text-anchor="end">0.2</text>
<text x="91.8" y="1127.7" font-size="31.3" text-anchor="end">0.0</text>
<text transform="translate(35,1111.5) rotate(-90)" font-size="31">Effective modulus <tspan font-style="italic">E</tspan><tspan font-style="italic">/</tspan><tspan font-style="italic">E</tspan><tspan font-style="italic" font-size="21" dy="6">s</tspan></text>
<defs><linearGradient id="bg0" x1="0" y1="0" x2="1" y2="0"><stop offset="0" stop-color="#E2625F"/><stop offset="0.45" stop-color="#EDB2AC"/><stop offset="0.55" stop-color="#EDB2AC"/><stop offset="1" stop-color="#E2625F"/></linearGradient><linearGradient id="bg1" x1="0" y1="0" x2="1" y2="0"><stop offset="0" stop-color="#9A63C2"/><stop offset="0.45" stop-color="#D9BDEB"/><stop offset="0.55" stop-color="#D9BDEB"/><stop offset="1" stop-color="#9A63C2"/></linearGradient><linearGradient id="bg2" x1="0" y1="0" x2="1" y2="0"><stop offset="0" stop-color="#5AA2DC"/><stop offset="0.45" stop-color="#B9DDF4"/><stop offset="0.55" stop-color="#B9DDF4"/><stop offset="1" stop-color="#5AA2DC"/></linearGradient><linearGradient id="bg3" x1="0" y1="0" x2="1" y2="0"><stop offset="0" stop-color="#8EDCC9"/><stop offset="0.45" stop-color="#C4EFE4"/><stop offset="0.55" stop-color="#C4EFE4"/><stop offset="1" stop-color="#8EDCC9"/></linearGradient><linearGradient id="bg4" x1="0" y1="0" x2="1" y2="0"><stop offset="0" stop-color="#56B97C"/><stop offset="0.45" stop-color="#C3E8CF"/><stop offset="0.55" stop-color="#C3E8CF"/><stop offset="1" stop-color="#56B97C"/></linearGradient><linearGradient id="bg5" x1="0" y1="0" x2="1" y2="0"><stop offset="0" stop-color="#F4D46A"/><stop offset="0.45" stop-color="#F9EDB2"/><stop offset="0.55" stop-color="#F9EDB2"/><stop offset="1" stop-color="#F4D46A"/></linearGradient><linearGradient id="bg6" x1="0" y1="0" x2="1" y2="0"><stop offset="0" stop-color="#F2AD4E"/><stop offset="0.45" stop-color="#FAD9A2"/><stop offset="0.55" stop-color="#FAD9A2"/><stop offset="1" stop-color="#F2AD4E"/></linearGradient></defs>
<rect x="166.9" y="1037.2" width="43.8" height="79.2" fill="url(#bg0)"/>
<rect x="254.1" y="1110.7" width="43.8" height="5.7" fill="url(#bg1)"/>
<rect x="341.8" y="1029.2" width="43.8" height="87.2" fill="url(#bg2)"/>
<rect x="428.8" y="1005.6" width="43.8" height="110.8" fill="url(#bg3)"/>
<rect x="516.2" y="933" width="43.8" height="183.4" fill="url(#bg4)"/>
<rect x="603.2" y="1007" width="43.8" height="109.4" fill="url(#bg5)"/>
<rect x="690.6" y="971.5" width="43.8" height="144.9" fill="url(#bg6)"/>
<path d="M188.0,921.7 L188.0,1031.0 M169.0,976.3 L206.7,976.3" fill="none" stroke="#3E8DB4" stroke-width="5.6" stroke-linejoin="miter" stroke-linecap="butt"/>
<path d="M188.0,921.7 L188.0,1031.0 M169.0,976.3 L206.7,976.3" fill="none" stroke="#7CCFF0" stroke-width="2.5" stroke-linejoin="miter" transform="translate(-0.8,-0.6)"/>
<path d="M275.4,990.8 L296.8,1047.6 L275.4,1105.3 L254.0,1047.6 L275.4,990.8" fill="none" stroke="#3E8DB4" stroke-width="5.2" stroke-linejoin="miter" stroke-linecap="butt"/>
<path d="M275.4,990.8 L296.8,1047.6 L275.4,1105.3 L254.0,1047.6 L275.4,990.8" fill="none" stroke="#7CCFF0" stroke-width="2.3" stroke-linejoin="miter" transform="translate(-0.8,-0.6)"/>
<path d="M362.8,909.5 L383.6,965.4 L362.8,1024.4 L342.0,965.4 L362.8,909.5 M362.8,909.5 L362.8,1024.4" fill="none" stroke="#3E8DB4" stroke-width="5.2" stroke-linejoin="miter" stroke-linecap="butt"/>
<path d="M362.8,909.5 L383.6,965.4 L362.8,1024.4 L342.0,965.4 L362.8,909.5 M362.8,909.5 L362.8,1024.4" fill="none" stroke="#7CCFF0" stroke-width="2.3" stroke-linejoin="miter" transform="translate(-0.8,-0.6)"/>
<path d="M451.1,887.6 L472.3,943.5 L451.1,1001.2 L429.9,943.5 L451.1,887.6 M429.9,943.5 L472.3,943.5" fill="none" stroke="#3E8DB4" stroke-width="5.2" stroke-linejoin="miter" stroke-linecap="butt"/>
<path d="M451.1,887.6 L472.3,943.5 L451.1,1001.2 L429.9,943.5 L451.1,887.6 M429.9,943.5 L472.3,943.5" fill="none" stroke="#7CCFF0" stroke-width="2.3" stroke-linejoin="miter" transform="translate(-0.8,-0.6)"/>
<path d="M538.5,814.6 L559.7,871.4 L538.5,928.3 L517.3,871.4 L538.5,814.6 M538.5,814.6 L538.5,928.3 M517.3,871.4 L559.7,871.4" fill="none" stroke="#3E8DB4" stroke-width="5.2" stroke-linejoin="miter" stroke-linecap="butt"/>
<path d="M538.5,814.6 L559.7,871.4 L538.5,928.3 L517.3,871.4 L538.5,814.6 M538.5,814.6 L538.5,928.3 M517.3,871.4 L559.7,871.4" fill="none" stroke="#7CCFF0" stroke-width="2.3" stroke-linejoin="miter" transform="translate(-0.8,-0.6)"/>
<path d="M626.4,888.9 L644.8,944.9 L626.4,1002.6 L608.0,944.9 L626.4,888.9 M608.0,944.9 L644.8,944.9" fill="none" stroke="#3E8DB4" stroke-width="5.2" stroke-linejoin="miter" stroke-linecap="butt"/>
<path d="M626.4,888.9 L644.8,944.9 L626.4,1002.6 L608.0,944.9 L626.4,888.9 M608.0,944.9 L644.8,944.9" fill="none" stroke="#7CCFF0" stroke-width="2.3" stroke-linejoin="miter" transform="translate(-0.8,-0.6)"/>
<path d="M714.8,844.5 L736.8,901.5 L714.8,959.3 L692.8,901.5 L714.8,844.5 M692.8,901.5 L736.8,901.5 M714.8,844.5 L714.8,880.5 M692.8,901.5 L714.8,880.5 L736.8,901.5 M692.8,901.5 L714.8,921.8 L736.8,901.5 M714.8,921.8 L714.8,959.3" fill="none" stroke="#3E8DB4" stroke-width="5.2" stroke-linejoin="miter" stroke-linecap="butt"/>
<path d="M714.8,844.5 L736.8,901.5 L714.8,959.3 L692.8,901.5 L714.8,844.5 M692.8,901.5 L736.8,901.5 M714.8,844.5 L714.8,880.5 M692.8,901.5 L714.8,880.5 L736.8,901.5 M692.8,901.5 L714.8,921.8 L736.8,901.5 M714.8,921.8 L714.8,959.3" fill="none" stroke="#7CCFF0" stroke-width="2.3" stroke-linejoin="miter" transform="translate(-0.8,-0.6)"/>
<path d="M359.3,1120.6 Q360,1133 372,1133 L526,1133 Q538,1133 538,1145 L538,1162 M716.8,1120.6 Q716,1133 704,1133 L550,1133 Q538,1133 538,1145" fill="none" stroke="#000" stroke-width="4.2"/>
<text x="134.8" y="1180.4" font-size="32.8">Cross</text>
<text x="229.8" y="1180.4" font-size="32.5">Diamond</text>
<text x="399.1" y="1180.4" font-size="32.5">Reinforced diamonds</text>
<defs><radialGradient id="gold" cx="0.4" cy="0.35" r="0.65"><stop offset="0" stop-color="#FFF6A8"/><stop offset="0.5" stop-color="#E2C35A"/><stop offset="1" stop-color="#8C7428"/></radialGradient></defs>
<text x="826" y="781.9" font-size="42.8" font-weight="bold">(D)</text>
<text x="891.1" y="796.7" font-size="32.5">Mirror triangles</text>
<text x="1142.7" y="796.7" font-size="32.5">Different triangles</text>
<text x="1511.5" y="799.8" font-size="32.8">Case 1</text>
<text x="1798" y="799.8" font-size="33.2">Case 2</text>
<text x="832" y="833.8" font-size="33">k</text>
<text x="1127.5" y="832.5" font-size="33">l</text>
<text x="1414.5" y="832.5" font-size="33">m</text>
<text x="1704.5" y="830.1" font-size="33">n</text>
<rect x="861.7" y="805.5" width="99.79999999999995" height="99.89999999999998" fill="none" stroke="#FCB812" stroke-width="3" stroke-dasharray="7 4.5"/>
<g><path d="M934.8,809.4 L915.9,858.2 L865.6,876.7 L935.6,899.9 L915.9,858.2 L957.6,877.1 L934.8,809.4" fill="none" stroke="#5FB0D6" stroke-width="3.9000000000000004" stroke-linecap="round" stroke-linejoin="round"/><path d="M934.8,809.4 L915.9,858.2 L865.6,876.7 L935.6,899.9 L915.9,858.2 L957.6,877.1 L934.8,809.4" fill="none" stroke="#7CC8EA" stroke-width="2.4" stroke-linecap="round" stroke-linejoin="round"/></g>
<path d="M1020.0,866.8 L1000.5,967.5 L1038.6,985.6 L1020.0,866.8 M899.4,992.6 L1000.5,967.5 L1021.3,1002.0 L899.4,992.6" fill="none" stroke="#4F8AA5" stroke-width="7" stroke-linejoin="round" stroke-linecap="round"/>
<path d="M1020.0,866.8 L1000.5,967.5 L1038.6,985.6 L1020.0,866.8 M899.4,992.6 L1000.5,967.5 L1021.3,1002.0 L899.4,992.6" fill="none" stroke="#7ED4F4" stroke-width="3.9" stroke-linejoin="round" stroke-linecap="round" transform="translate(0.8,-1.0)"/>
<path d="M1004.5,935.2 A21.5,21.5 0 1 1 1041.2,950.4" fill="none" stroke="#FCB812" stroke-width="4.8"/>
<polygon points="1034.8,956.8 1039.4,940.1 1051.5,952.2" fill="#FCB812"/>
<path d="M958.9,968.9 A21.5,21.5 0 1 0 973.5,1004.1" fill="none" stroke="#FCB812" stroke-width="4.8"/>
<polygon points="979.3,997.2 976.1,1014.2 963.1,1003.3" fill="#FCB812"/>
<circle cx="1000.5" cy="967.5" r="7.5" fill="url(#gold)"/>
<line x1="1020.0" y1="815.7" x2="1020.0" y2="846.6" stroke="#F4545C" stroke-width="5.5"/>
<polygon points="1020.0,867.6 1008.8,845.6 1031.2,845.6" fill="#F4545C"/>
<line x1="1022.5" y1="1041.0" x2="1022.5" y2="1022.9" stroke="#F4545C" stroke-width="5.5"/>
<polygon points="1022.5,1002.9 1033.8,1023.9 1011.2,1023.9" fill="#F4545C"/>
<line x1="848.3" y1="992.6" x2="879.2" y2="992.6" stroke="#FCB812" stroke-width="5.5"/>
<polygon points="900.2,992.6 878.2,1003.6 878.2,981.6" fill="#FCB812"/>
<line x1="1076.3" y1="982.9" x2="1058.0" y2="982.9" stroke="#FCB812" stroke-width="5.5"/>
<polygon points="1037.0,982.9 1059.0,971.9 1059.0,993.9" fill="#FCB812"/>
<text x="1034.5" y="847.2" font-size="31" font-style="italic">d<tspan font-size="21" dy="8">y</tspan><tspan font-size="21" font-style="normal">2</tspan></text>
<text x="866.5" y="961.2" font-size="31" font-style="italic">d<tspan font-size="21" dy="8">x</tspan><tspan font-size="21" font-style="normal">2</tspan></text>
<text x="1065" y="965.9" font-size="31" font-style="italic">d<tspan font-size="21" dy="8">x</tspan><tspan font-size="21" font-style="normal">1</tspan></text>
<text x="1035.3" y="1046.9" font-size="31" font-style="italic">d<tspan font-size="21" dy="8">y</tspan><tspan font-size="21" font-style="normal">1</tspan></text>
<rect x="1146.6" y="803.9" width="51.0" height="50.200000000000045" fill="none" stroke="#FCB812" stroke-width="3" stroke-dasharray="7 4.5"/>
<g><path d="M1149.7,817.0 L1172.1,849.5 L1148.9,901.3 M1149.7,817.0 L1179.1,843.3 L1196.8,853.3 M1173.7,805.4 L1179.1,843.3 M1173.7,805.4 L1195.3,849.5 M1172.1,849.5 L1179.1,843.3 M1196.8,864.9 L1169.0,891.2 L1148.9,901.3 M1196.8,864.9 L1173.7,901.3 L1169.0,891.2 M1172.1,849.5 L1169.0,891.2 M1244.0,817.0 L1221.6,849.5 L1244.8,901.3 M1244.0,817.0 L1214.6,843.3 L1196.8,853.3 M1220.0,805.4 L1214.6,843.3 M1220.0,805.4 L1198.4,849.5 M1221.6,849.5 L1214.6,843.3 M1196.8,864.9 L1224.7,891.2 L1244.8,901.3 M1196.8,864.9 L1220.0,901.3 L1224.7,891.2 M1221.6,849.5 L1224.7,891.2" fill="none" stroke="#5FB0D6" stroke-width="3.9000000000000004" stroke-linecap="round" stroke-linejoin="round"/><path d="M1149.7,817.0 L1172.1,849.5 L1148.9,901.3 M1149.7,817.0 L1179.1,843.3 L1196.8,853.3 M1173.7,805.4 L1179.1,843.3 M1173.7,805.4 L1195.3,849.5 M1172.1,849.5 L1179.1,843.3 M1196.8,864.9 L1169.0,891.2 L1148.9,901.3 M1196.8,864.9 L1173.7,901.3 L1169.0,891.2 M1172.1,849.5 L1169.0,891.2 M1244.0,817.0 L1221.6,849.5 L1244.8,901.3 M1244.0,817.0 L1214.6,843.3 L1196.8,853.3 M1220.0,805.4 L1214.6,843.3 M1220.0,805.4 L1198.4,849.5 M1221.6,849.5 L1214.6,843.3 M1196.8,864.9 L1224.7,891.2 L1244.8,901.3 M1196.8,864.9 L1220.0,901.3 L1224.7,891.2 M1221.6,849.5 L1224.7,891.2" fill="none" stroke="#7CC8EA" stroke-width="2.4" stroke-linecap="round" stroke-linejoin="round"/></g>
<path d="M1278.8,875.7 L1270.3,970.0 L1342.1,962.3 L1278.8,875.7 M1171.3,995.5 L1270.3,970.0 L1291.1,1006.4 L1171.3,995.5" fill="none" stroke="#4F8AA5" stroke-width="7" stroke-linejoin="round" stroke-linecap="round"/>
<path d="M1278.8,875.7 L1270.3,970.0 L1342.1,962.3 L1278.8,875.7 M1171.3,995.5 L1270.3,970.0 L1291.1,1006.4 L1171.3,995.5" fill="none" stroke="#7ED4F4" stroke-width="3.9" stroke-linejoin="round" stroke-linecap="round" transform="translate(0.8,-1.0)"/>
<path d="M1285.3,943.0 A23,23 0 1 1 1324.3,955.3" fill="none" stroke="#FCB812" stroke-width="4.8"/>
<polygon points="1317.9,961.6 1322.5,945.0 1334.5,957.0" fill="#FCB812"/>
<path d="M1230.5,972.6 A23,23 0 1 0 1246.1,1010.3" fill="none" stroke="#FCB812" stroke-width="4.8"/>
<polygon points="1251.9,1003.4 1248.8,1020.3 1235.8,1009.4" fill="#FCB812"/>
<circle cx="1270.3" cy="970" r="7.5" fill="url(#gold)"/>
<line x1="1279.0" y1="828.6" x2="1279.0" y2="855.5" stroke="#F4545C" stroke-width="5.5"/>
<polygon points="1279.0,876.5 1267.8,854.5 1290.2,854.5" fill="#F4545C"/>
<line x1="1289.0" y1="1044.2" x2="1289.0" y2="1026.4" stroke="#F4545C" stroke-width="5.5"/>
<polygon points="1289.0,1006.4 1300.2,1027.4 1277.8,1027.4" fill="#F4545C"/>
<line x1="1124.2" y1="995.5" x2="1155.0" y2="995.5" stroke="#FCB812" stroke-width="5.5"/>
<polygon points="1176.0,995.5 1154.0,1006.5 1154.0,984.5" fill="#FCB812"/>
<line x1="1394.7" y1="963.6" x2="1363.1" y2="963.6" stroke="#FCB812" stroke-width="5.5"/>
<polygon points="1342.1,963.6 1364.1,952.6 1364.1,974.6" fill="#FCB812"/>
<text x="1292.3" y="857.2" font-size="31" font-style="italic">d<tspan font-size="21" dy="8">y</tspan><tspan font-size="21" font-style="normal">2</tspan></text>
<text x="1132.3" y="971.6" font-size="31" font-style="italic">d<tspan font-size="21" dy="8">x</tspan><tspan font-size="21" font-style="normal">2</tspan></text>
<text x="1345.6" y="997.9" font-size="31" font-style="italic">d<tspan font-size="21" dy="8">x</tspan><tspan font-size="21" font-style="normal">1</tspan></text>
<text x="1299.2" y="1045" font-size="31" font-style="italic">d<tspan font-size="21" dy="8">y</tspan><tspan font-size="21" font-style="normal">1</tspan></text>
<rect x="1490.7" y="806.2" width="51.799999999999955" height="50.19999999999993" fill="none" stroke="#FCB812" stroke-width="3" stroke-dasharray="7 4.5"/>
<g><path d="M1448.2,831.7 L1448.2,876.5 M1536.3,831.7 L1536.3,876.5 M1448.2,831.7 L1492.2,842.5 L1536.3,831.7 M1448.2,854.1 L1492.2,842.5 L1536.3,854.1 M1448.2,854.1 L1492.2,865.7 L1536.3,854.1 M1448.2,876.5 L1492.2,865.7 L1536.3,876.5 M1492.2,842.5 L1459.0,810.0 L1474.5,837.1 M1492.2,842.5 L1526.3,810.0 L1510.0,837.1 M1492.2,865.7 L1459.0,898.9 L1474.5,871.1 M1492.2,865.7 L1526.3,898.9 L1510.0,871.1" fill="none" stroke="#5FB0D6" stroke-width="3.9000000000000004" stroke-linecap="round" stroke-linejoin="round"/><path d="M1448.2,831.7 L1448.2,876.5 M1536.3,831.7 L1536.3,876.5 M1448.2,831.7 L1492.2,842.5 L1536.3,831.7 M1448.2,854.1 L1492.2,842.5 L1536.3,854.1 M1448.2,854.1 L1492.2,865.7 L1536.3,854.1 M1448.2,876.5 L1492.2,865.7 L1536.3,876.5 M1492.2,842.5 L1459.0,810.0 L1474.5,837.1 M1492.2,842.5 L1526.3,810.0 L1510.0,837.1 M1492.2,865.7 L1459.0,898.9 L1474.5,871.1 M1492.2,865.7 L1526.3,898.9 L1510.0,871.1" fill="none" stroke="#7CC8EA" stroke-width="2.4" stroke-linecap="round" stroke-linejoin="round"/></g>
<path d="M1592.7,881.2 L1500.8,971.6 L1623.6,1004.0 L1623.6,943.0 L1500.8,971.6 M1592.7,881.2 L1551.0,963.1" fill="none" stroke="#4F8AA5" stroke-width="8.2" stroke-linejoin="round" stroke-linecap="round"/>
<path d="M1592.7,881.2 L1500.8,971.6 L1623.6,1004.0 L1623.6,943.0 L1500.8,971.6 M1592.7,881.2 L1551.0,963.1" fill="none" stroke="#7ED4F4" stroke-width="4.5" stroke-linejoin="round" stroke-linecap="round" transform="translate(0.8,-1.0)"/>
<circle cx="1551" cy="963.1" r="7.5" fill="url(#gold)"/>
<line x1="1592.7" y1="837.9" x2="1592.7" y2="855.5" stroke="#F4545C" stroke-width="5.5"/>
<polygon points="1592.7,876.5 1581.5,854.5 1604.0,854.5" fill="#F4545C"/>
<line x1="1623.6" y1="1044.2" x2="1623.6" y2="1025.6" stroke="#F4545C" stroke-width="5.5"/>
<polygon points="1623.6,1005.6 1634.8,1026.6 1612.3,1026.6" fill="#F4545C"/>
<line x1="1500.8" y1="971.6" x2="1459.6" y2="971.6" stroke="#FCB812" stroke-width="5.5"/>
<polygon points="1438.9,971.6 1460.6,960.8 1460.6,982.4" fill="#FCB812"/>
<line x1="1502.3" y1="969.3" x2="1475.0" y2="998.1" stroke="#F4545C" stroke-width="5.5"/>
<polygon points="1460.6,1013.3 1467.4,989.4 1484.1,1005.2" fill="#F4545C"/>
<text x="1605.4" y="859.5" font-size="31" font-style="italic">d<tspan font-size="21" dy="8">y</tspan><tspan font-size="21" font-style="normal">2</tspan></text>
<text x="1456.3" y="946.9" font-size="31" font-style="italic">d<tspan font-size="21" dy="8">x</tspan><tspan font-size="21" font-style="normal">1</tspan></text>
<text x="1573" y="1037.3" font-size="31" font-style="italic">d<tspan font-size="21" dy="8">y</tspan><tspan font-size="21" font-style="normal">1</tspan></text>
<text transform="translate(1659.2,1006.5) rotate(-90)" font-size="32.5">Fixed</text>
<rect x="1769.1" y="808.5" width="51.0" height="50.200000000000045" fill="none" stroke="#FCB812" stroke-width="3" stroke-dasharray="7 4.5"/>
<g><path d="M1728.1,824.7 L1728.1,891.2 M1817.0,824.7 L1817.0,891.2 M1728.1,825.5 L1772.2,846.4 L1817.0,858.0 M1817.0,825.5 L1772.2,846.4 L1728.1,858.0 M1728.1,858.0 L1772.2,868.0 L1817.0,891.2 M1817.0,858.0 L1772.2,868.0 L1728.1,891.2 M1728.1,824.7 L1761.4,813.9 L1739.7,829.4 M1817.0,824.7 L1782.2,813.9 L1805.4,829.4 M1728.1,891.2 L1761.4,902.0 L1739.7,886.6 M1817.0,891.2 L1782.2,902.0 L1805.4,886.6" fill="none" stroke="#5FB0D6" stroke-width="3.9000000000000004" stroke-linecap="round" stroke-linejoin="round"/><path d="M1728.1,824.7 L1728.1,891.2 M1817.0,824.7 L1817.0,891.2 M1728.1,825.5 L1772.2,846.4 L1817.0,858.0 M1817.0,825.5 L1772.2,846.4 L1728.1,858.0 M1728.1,858.0 L1772.2,868.0 L1817.0,891.2 M1817.0,858.0 L1772.2,868.0 L1728.1,891.2 M1728.1,824.7 L1761.4,813.9 L1739.7,829.4 M1817.0,824.7 L1782.2,813.9 L1805.4,829.4 M1728.1,891.2 L1761.4,902.0 L1739.7,886.6 M1817.0,891.2 L1782.2,902.0 L1805.4,886.6" fill="none" stroke="#7CC8EA" stroke-width="2.4" stroke-linecap="round" stroke-linejoin="round"/></g>
<path d="M1832.5,892.0 L1928.3,925.2 L1928.3,1009.5 L1811.6,980.9 L1928.3,925.2 M1832.5,892.0 L1903.6,941.4" fill="none" stroke="#4F8AA5" stroke-width="8.2" stroke-linejoin="round" stroke-linecap="round"/>
<path d="M1832.5,892.0 L1928.3,925.2 L1928.3,1009.5 L1811.6,980.9 L1928.3,925.2 M1832.5,892.0 L1903.6,941.4" fill="none" stroke="#7ED4F4" stroke-width="4.5" stroke-linejoin="round" stroke-linecap="round" transform="translate(0.8,-1.0)"/>
<circle cx="1903.6" cy="941.4" r="7.5" fill="url(#gold)"/>
<line x1="1836.4" y1="843.3" x2="1836.4" y2="870.2" stroke="#F4545C" stroke-width="5.5"/>
<polygon points="1836.4,891.2 1825.2,869.2 1847.7,869.2" fill="#F4545C"/>
<line x1="1928.3" y1="1061.2" x2="1928.3" y2="1034.0" stroke="#F4545C" stroke-width="5.5"/>
<polygon points="1928.3,1012.5 1939.3,1035.0 1917.3,1035.0" fill="#F4545C"/>
<line x1="1752.1" y1="980.1" x2="1790.2" y2="980.1" stroke="#FCB812" stroke-width="5.5"/>
<polygon points="1810.8,980.1 1789.2,990.9 1789.2,969.3" fill="#FCB812"/>
<line x1="1903.6" y1="941.4" x2="1923.8" y2="953.5" stroke="#F4545C" stroke-width="5"/>
<polygon points="1938.4,962.3 1917.6,962.0 1928.4,944.0" fill="#F4545C"/>
<text x="1849.1" y="871.9" font-size="31" font-style="italic">d<tspan font-size="21" dy="8">y</tspan><tspan font-size="21" font-style="normal">2</tspan></text>
<text x="1767" y="958.4" font-size="31" font-style="italic">d<tspan font-size="21" dy="8">x</tspan><tspan font-size="21" font-style="normal">1</tspan></text>
<text x="1881.5" y="1043.5" font-size="31" font-style="italic">d<tspan font-size="21" dy="8">y</tspan><tspan font-size="21" font-style="normal">1</tspan></text>
<text transform="translate(1967.7,1006.5) rotate(-90)" font-size="32.5">Fixed</text>
<text x="857" y="1115.2" font-size="31" textLength="246" lengthAdjust="spacing"><tspan font-style="italic">d</tspan><tspan font-size="21" dy="7"><tspan font-style="italic">y</tspan>2</tspan><tspan dy="-7"> </tspan>+ <tspan font-style="italic">d</tspan><tspan font-size="21" dy="7"><tspan font-style="italic">y</tspan>1</tspan><tspan dy="-7"> </tspan>= <tspan font-style="italic">d</tspan><tspan font-size="21" dy="7"><tspan font-style="italic">x</tspan>2</tspan><tspan dy="-7"> </tspan>+ <tspan font-style="italic">d</tspan><tspan font-size="21" dy="7"><tspan font-style="italic">x</tspan>1</tspan><tspan dy="-7"> </tspan></text>
<text x="1138" y="1115.2" font-size="31" textLength="246" lengthAdjust="spacing"><tspan font-style="italic">d</tspan><tspan font-size="21" dy="7"><tspan font-style="italic">y</tspan>1</tspan><tspan dy="-7"> </tspan>+ <tspan font-style="italic">d</tspan><tspan font-size="21" dy="7"><tspan font-style="italic">y</tspan>2</tspan><tspan dy="-7"> </tspan>≠ <tspan font-style="italic">d</tspan><tspan font-size="21" dy="7"><tspan font-style="italic">x</tspan>1</tspan><tspan dy="-7"> </tspan>+ <tspan font-style="italic">d</tspan><tspan font-size="21" dy="7"><tspan font-style="italic">x</tspan>2</tspan><tspan dy="-7"> </tspan></text>
<text x="895.5" y="1158.5" font-size="31" textLength="169" lengthAdjust="spacing"><tspan font-style="italic">ν</tspan><tspan font-size="21" dy="7" font-style="italic">xy</tspan><tspan dy="-7"> = </tspan><tspan font-style="italic">ν</tspan><tspan font-size="21" dy="7" font-style="italic">yx</tspan><tspan dy="-7"> = −1</tspan></text>
<text x="1442" y="1115.2" font-size="31" textLength="226" lengthAdjust="spacing"><tspan font-style="italic">d</tspan><tspan font-size="21" dy="7"><tspan font-style="italic">x</tspan>1</tspan><tspan dy="-7"> </tspan>&gt; −(<tspan font-style="italic">d</tspan><tspan font-size="21" dy="7"><tspan font-style="italic">y</tspan>1</tspan><tspan dy="-7"> + </tspan><tspan font-style="italic">d</tspan><tspan font-size="21" dy="7"><tspan font-style="italic">y</tspan>2</tspan><tspan dy="-7">)</tspan></text>
<text x="1753.3" y="1115.2" font-size="31" textLength="176" lengthAdjust="spacing"><tspan font-style="italic">d</tspan><tspan font-size="21" dy="7"><tspan font-style="italic">x</tspan>1</tspan><tspan dy="-7"> </tspan>&lt; <tspan font-style="italic">d</tspan><tspan font-size="21" dy="7"><tspan font-style="italic">y</tspan>1</tspan><tspan dy="-7"> </tspan>+ <tspan font-style="italic">d</tspan><tspan font-size="21" dy="7"><tspan font-style="italic">y</tspan>2</tspan></text>
<text x="1166.9" y="1172.4" font-size="32.4">Programmable</text>
<text x="1444" y="1171.8" font-size="32.7">Extreme positive</text>
<text x="1727" y="1171.8" font-size="32.8">Extreme negative</text>
<text x="15.5" y="1272" font-size="41.5" font-weight="bold">(E1)</text>
<text x="990" y="1275" font-size="42" font-weight="bold">(E2)</text>
<text x="15.5" y="1699.7" font-size="42" font-weight="bold">(E3)</text>
<text x="990" y="1702" font-size="42" font-weight="bold">(E4)</text>
<path d="M357.2,1275.0 C358.0,1271.8 360.8,1271.8 361.6,1275.0 C362.5,1278.2 361.7,1286.2 362.4,1294.0 C363.0,1301.8 364.0,1313.0 365.6,1322.0 C367.2,1331.0 369.4,1340.2 372.0,1348.0 C374.7,1355.8 379.8,1362.8 381.7,1369.0 C383.6,1375.2 383.1,1375.7 383.2,1385.0 C383.3,1394.3 382.5,1410.8 382.2,1425.0 C381.9,1439.2 381.7,1457.5 381.2,1470.0 C380.7,1482.5 380.6,1491.3 379.2,1500.0 C377.9,1508.7 375.5,1516.5 373.0,1522.0 C370.6,1527.5 366.6,1530.7 364.4,1533.0 C362.1,1535.3 361.1,1536.0 359.4,1536.0 C357.7,1536.0 356.7,1535.3 354.4,1533.0 C352.2,1530.7 348.4,1527.5 345.8,1522.0 C343.2,1516.5 340.3,1508.7 338.8,1500.0 C337.4,1491.3 337.6,1482.5 337.1,1470.0 C336.6,1457.5 336.4,1439.2 336.1,1425.0 C335.8,1410.8 335.0,1394.3 335.1,1385.0 C335.2,1375.7 334.7,1375.2 336.6,1369.0 C338.5,1362.8 344.0,1355.8 346.8,1348.0 C349.5,1340.2 351.6,1331.0 353.2,1322.0 C354.8,1313.0 355.8,1301.8 356.4,1294.0 C357.1,1286.2 356.3,1278.2 357.2,1275.0 Z" fill="#F6D862"/>
<path d="M357.7,1276 L358.9,1253 L359.9,1253 L361.1,1276 Z" fill="#F6D862"/>
<path d="M334.3 1401.4h0M335.0 1376.7h0M310.3 1456.5h0M390.9 1383.7h0M349.4 1515.5h0M344.2 1443.5h0M376.2 1487.7h0M347.6 1511.2h0M375.7 1388.5h0M346.7 1444.2h0M415.8 1421.0h0M375.5 1418.9h0M375.4 1474.0h0M349.0 1506.7h0M394.2 1477.9h0M371.3 1481.6h0M337.4 1453.9h0M317.6 1402.6h0M341.1 1532.9h0M382.5 1526.6h0M384.0 1501.5h0M411.1 1408.0h0M408.8 1476.8h0M337.9 1475.1h0M322.5 1516.4h0M373.6 1528.3h0M377.7 1432.2h0M371.7 1380.8h0M333.5 1443.2h0M403.4 1482.2h0M373.4 1509.5h0M332.5 1507.4h0M290.6 1526.3h0M388.1 1466.5h0M326.0 1458.2h0M337.4 1463.9h0M407.3 1529.0h0M377.7 1451.9h0M333.8 1516.6h0M331.9 1461.7h0M386.1 1485.1h0M395.3 1458.6h0M324.7 1454.3h0M391.0 1450.9h0M375.7 1403.6h0M370.1 1389.3h0M335.4 1404.8h0M390.6 1418.2h0M341.3 1473.6h0M328.3 1416.6h0M385.9 1418.8h0M346.0 1425.7h0M412.4 1437.3h0M388.6 1492.5h0M320.7 1426.1h0M370.1 1401.0h0M342.1 1411.0h0M386.8 1395.9h0M335.4 1388.9h0M395.3 1419.3h0M415.9 1447.7h0M382.0 1377.6h0M397.3 1454.6h0M347.8 1412.2h0M327.5 1505.7h0M331.8 1464.0h0M333.2 1427.9h0M333.6 1413.9h0M373.6 1460.6h0M393.9 1527.4h0M344.9 1525.4h0M373.5 1528.5h0M339.3 1432.1h0M408.7 1466.6h0M383.2 1395.3h0M341.1 1437.2h0M370.3 1398.4h0M339.5 1427.0h0M369.7 1440.1h0M417.1 1432.6h0M345.1 1475.7h0M343.8 1496.6h0M377.3 1485.7h0M382.1 1373.6h0M346.4 1370.3h0M343.8 1369.8h0M370.5 1452.2h0M385.4 1430.4h0M343.2 1403.6h0M388.0 1488.6h0M344.2 1508.5h0M379.2 1432.7h0M342.0 1410.0h0M336.7 1514.7h0M341.8 1478.2h0M386.9 1474.0h0M330.8 1492.2h0M374.3 1443.1h0M399.2 1462.9h0M330.2 1381.9h0M343.9 1391.9h0M375.3 1501.6h0M348.6 1523.4h0M400.8 1394.5h0M338.3 1403.8h0M371.1 1454.4h0M340.7 1508.7h0M328.8 1413.5h0M347.5 1375.1h0M349.0 1380.8h0M378.7 1465.2h0M385.4 1507.5h0M339.7 1377.4h0M345.4 1471.8h0M393.0 1509.1h0M372.5 1428.8h0M311.7 1441.6h0M388.8 1408.9h0M348.8 1495.2h0M346.7 1424.8h0M389.1 1519.2h0M377.5 1513.6h0M347.0 1387.7h0M343.0 1529.5h0M396.3 1413.1h0M372.7 1375.1h0M371.6 1423.2h0M380.6 1476.1h0M338.2 1447.8h0M336.3 1410.6h0M344.6 1468.3h0M380.2 1407.2h0M344.3 1534.4h0M314.6 1430.8h0M369.4 1462.7h0M345.1 1387.1h0M376.2 1509.0h0M378.6 1486.4h0M386.1 1379.7h0M324.9 1419.4h0M399.2 1421.7h0M307.7 1514.7h0M370.1 1422.6h0M392.9 1507.1h0M311.8 1473.5h0M395.7 1482.3h0M342.8 1411.9h0M374.8 1377.1h0M346.2 1371.2h0M341.9 1533.4h0M396.6 1465.8h0M375.1 1526.9h0M296.3 1447.6h0M340.5 1475.9h0M372.1 1467.1h0M384.7 1445.5h0M377.3 1516.4h0M370.4 1443.8h0M387.2 1391.1h0M346.3 1498.6h0M388.3 1453.0h0M338.3 1413.0h0M382.5 1381.7h0M383.4 1497.0h0M375.0 1519.8h0M373.4 1405.2h0M343.1 1520.7h0M370.0 1437.9h0M378.0 1517.9h0M343.6 1408.6h0M369.9 1441.4h0M386.5 1407.3h0M340.9 1438.3h0M322.2 1424.8h0M375.2 1374.7h0M326.3 1398.6h0M394.0 1523.8h0M332.3 1526.0h0M375.0 1390.6h0M375.9 1375.6h0M348.3 1462.7h0M337.2 1401.5h0M375.0 1381.3h0M373.8 1457.3h0M338.6 1406.0h0M370.3 1377.8h0M302.9 1434.7h0M348.6 1517.1h0M369.8 1525.7h0M339.3 1370.8h0M389.3 1453.8h0M348.5 1488.1h0M370.3 1500.8h0M341.3 1408.8h0M374.2 1393.9h0M378.8 1467.4h0M335.6 1510.5h0M373.3 1528.1h0M338.1 1506.1h0M389.5 1383.8h0M381.3 1501.1h0M341.8 1390.0h0M332.0 1471.4h0M332.7 1532.7h0M331.1 1503.5h0M326.3 1467.7h0M380.9 1418.5h0M314.3 1422.3h0M321.8 1473.7h0M349.0 1486.9h0M336.2 1521.4h0M378.5 1437.3h0M371.5 1407.3h0M342.0 1488.5h0M406.5 1419.4h0M347.9 1394.2h0M330.1 1448.0h0M373.7 1371.4h0M333.3 1382.1h0M321.4 1431.8h0M339.6 1498.8h0M377.2 1384.3h0M376.3 1406.2h0M388.1 1496.8h0M387.2 1395.5h0M371.7 1387.4h0M337.7 1446.0h0M376.3 1487.5h0M374.7 1529.3h0M332.6 1503.7h0M349.0 1502.6h0M334.0 1418.9h0M342.6 1412.5h0M384.4 1394.8h0M370.3 1374.3h0M342.5 1426.5h0M394.8 1454.7h0M372.4 1508.2h0M378.5 1516.9h0M385.8 1407.6h0M319.7 1415.1h0M410.3 1429.8h0M343.2 1420.6h0M378.2 1410.1h0M380.2 1443.5h0M372.0 1471.7h0M382.9 1471.8h0M380.9 1420.0h0M325.1 1514.9h0M340.0 1411.1h0M347.0 1451.0h0M373.1 1417.8h0M332.3 1478.1h0M376.2 1526.0h0M338.6 1464.0h0M393.6 1489.1h0M375.1 1443.9h0M321.4 1519.1h0M394.7 1474.9h0M377.5 1457.8h0M337.1 1520.2h0M369.5 1487.7h0M393.3 1449.5h0M330.4 1461.7h0M384.8 1435.1h0M386.9 1428.0h0M342.2 1528.4h0M398.4 1465.3h0M383.3 1471.1h0M313.6 1403.8h0M388.7 1498.2h0M345.0 1455.8h0M380.2 1384.3h0M370.4 1386.3h0M397.8 1404.7h0M376.2 1371.3h0M382.6 1417.0h0M369.8 1426.8h0M343.4 1437.1h0M379.3 1372.8h0M389.5 1443.2h0M348.8 1416.3h0M398.9 1464.4h0M330.2 1525.1h0M335.3 1450.7h0M382.0 1476.6h0M383.9 1379.7h0M341.8 1415.1h0M380.6 1377.6h0M423.7 1483.9h0M340.0 1506.5h0M338.9 1379.7h0M320.9 1511.3h0M347.2 1475.7h0M331.8 1499.7h0M369.5 1477.2h0M377.7 1488.3h0M343.3 1429.7h0M336.6 1493.3h0M380.9 1490.4h0M377.7 1384.3h0M343.9 1504.8h0M330.5 1497.4h0M370.9 1523.7h0M388.4 1522.8h0M338.3 1426.8h0M381.0 1508.4h0M346.2 1498.2h0M414.5 1519.7h0M349.4 1452.2h0M338.2 1381.8h0M371.4 1451.8h0M374.6 1444.7h0M383.6 1423.6h0M344.0 1464.2h0M369.7 1485.3h0M319.2 1516.4h0M381.6 1490.2h0M338.7 1374.4h0M337.5 1514.9h0M340.6 1428.7h0M377.1 1526.1h0M337.0 1413.3h0M381.7 1490.8h0M343.9 1518.4h0M371.5 1523.7h0M338.2 1523.9h0M374.0 1402.2h0M381.7 1517.0h0M344.6 1464.8h0M381.4 1378.3h0M377.4 1376.2h0M344.2 1442.3h0M346.9 1448.3h0M337.4 1380.7h0M382.0 1479.9h0M370.9 1511.1h0M335.3 1525.5h0M383.8 1460.3h0M337.2 1486.9h0M348.9 1409.9h0M385.8 1433.2h0M370.6 1418.2h0M371.8 1412.5h0M422.4 1512.1h0M407.1 1506.4h0M381.1 1430.8h0M373.6 1391.0h0M378.6 1516.8h0M390.2 1437.3h0M381.6 1413.9h0M387.9 1478.1h0M387.0 1435.4h0M344.1 1388.3h0M340.8 1380.6h0M380.3 1512.2h0M340.4 1371.1h0M371.8 1513.0h0M339.6 1412.6h0M329.6 1534.3h0M378.7 1391.7h0M323.3 1421.4h0M380.9 1477.6h0M334.4 1431.6h0M348.0 1534.2h0M370.4 1394.4h0M323.6 1527.2h0M335.8 1514.4h0M403.7 1494.6h0M347.8 1426.6h0M342.8 1496.1h0M334.3 1483.2h0M339.2 1407.7h0M328.7 1524.1h0M372.2 1490.8h0M336.7 1530.3h0M371.3 1430.1h0M324.1 1394.8h0M334.0 1392.1h0M337.4 1431.1h0M379.2 1517.7h0M374.0 1533.9h0M394.9 1506.7h0M405.9 1419.1h0M347.0 1498.1h0M340.6 1466.0h0M374.7 1530.0h0M324.0 1418.4h0M371.1 1390.5h0M345.2 1388.7h0M338.3 1424.3h0M386.8 1460.2h0M336.9 1502.5h0M375.6 1405.7h0M370.4 1393.8h0M386.4 1473.3h0M385.8 1473.8h0M377.7 1510.4h0M370.6 1379.8h0M343.5 1521.1h0M335.2 1458.9h0M387.3 1444.6h0M345.7 1505.9h0M339.1 1396.8h0M371.3 1496.0h0M349.3 1522.6h0M400.1 1444.6h0M393.0 1518.7h0M338.0 1391.1h0M341.8 1513.8h0M348.7 1487.9h0M390.8 1493.7h0M375.1 1485.9h0M376.6 1378.6h0M370.9 1485.6h0M377.6 1376.3h0M372.3 1519.7h0M373.4 1457.2h0M396.8 1479.5h0M386.4 1419.6h0M317.4 1524.7h0M373.8 1496.3h0M377.7 1450.4h0M345.5 1392.9h0M382.4 1439.1h0M329.5 1431.5h0M370.4 1466.6h0M380.6 1435.6h0M371.6 1411.6h0M382.3 1527.5h0M389.7 1383.0h0M384.3 1523.1h0M387.9 1486.8h0M376.0 1424.6h0M384.7 1507.4h0M335.7 1393.6h0M329.0 1504.8h0M331.1 1455.0h0M347.4 1515.8h0M388.9 1386.3h0M333.8 1376.7h0M388.6 1512.7h0M324.7 1487.9h0M371.3 1378.5h0M381.0 1467.2h0M391.6 1431.8h0M343.1 1528.5h0M346.6 1437.2h0M312.7 1404.2h0M344.4 1507.3h0M386.7 1378.1h0M385.8 1488.7h0M375.9 1369.0h0M384.8 1514.0h0M383.6 1482.3h0M420.7 1493.0h0M370.5 1367.9h0M397.8 1403.5h0M340.3 1491.8h0M376.1 1505.1h0M335.2 1483.4h0M386.1 1412.4h0M325.4 1412.1h0M384.8 1470.3h0M345.7 1438.5h0M385.5 1394.4h0M344.2 1468.7h0M331.5 1402.2h0M327.9 1485.0h0M379.5 1496.2h0M345.5 1487.3h0M335.3 1412.2h0M374.2 1514.5h0M409.0 1435.4h0M325.9 1388.6h0M337.1 1521.2h0M335.9 1503.2h0M333.3 1518.5h0M346.2 1447.1h0M381.4 1394.1h0M387.7 1424.8h0M377.3 1433.9h0M370.4 1530.9h0M342.0 1529.2h0M372.5 1382.2h0M379.8 1521.1h0M340.1 1429.9h0M388.2 1530.9h0M378.6 1460.5h0M386.1 1509.4h0M342.9 1454.6h0M329.7 1444.5h0M305.3 1527.0h0M327.8 1479.1h0M339.8 1431.7h0M383.4 1422.3h0M391.9 1415.7h0M344.8 1416.6h0M391.2 1524.2h0M344.6 1446.8h0M370.7 1480.3h0M348.1 1520.3h0M306.2 1404.4h0M344.6 1402.3h0M338.0 1390.5h0M376.2 1431.5h0M381.1 1417.5h0M399.5 1395.8h0M382.7 1407.9h0M341.5 1445.5h0M393.7 1422.8h0M331.6 1414.9h0M334.6 1424.4h0M414.4 1481.1h0M377.8 1450.8h0M374.6 1379.0h0M348.4 1494.0h0M399.5 1422.8h0M317.5 1454.7h0M340.9 1479.4h0M381.8 1514.4h0M372.2 1405.9h0M376.2 1376.8h0M374.0 1429.2h0M384.8 1516.8h0M391.4 1460.9h0M332.9 1481.4h0M377.9 1369.0h0M320.1 1483.1h0M371.1 1509.4h0M388.9 1483.5h0M336.4 1458.6h0M372.7 1482.5h0M384.6 1483.0h0M384.0 1494.6h0M391.7 1446.8h0M347.9 1473.1h0M336.7 1509.8h0M371.8 1466.6h0M342.6 1482.0h0M345.4 1391.8h0M391.0 1526.0h0M347.8 1463.2h0M376.2 1499.5h0M335.1 1495.2h0M385.6 1504.1h0M371.2 1459.9h0M398.6 1452.1h0M331.4 1403.3h0M396.7 1389.6h0M401.1 1453.7h0M374.8 1370.4h0M348.3 1480.4h0M341.2 1412.8h0M376.8 1424.7h0M374.7 1472.1h0M383.5 1434.6h0M372.8 1410.7h0M341.6 1413.6h0M343.9 1462.8h0M375.4 1528.3h0M412.8 1476.1h0M344.4 1465.4h0M398.9 1505.9h0M398.9 1526.7h0M326.5 1457.6h0M392.0 1484.6h0M389.5 1452.8h0M337.8 1461.0h0M374.0 1430.4h0M310.9 1435.8h0M369.3 1502.1h0M326.5 1464.7h0M345.7 1421.3h0M379.2 1382.6h0M345.7 1503.7h0M332.6 1486.3h0M345.1 1385.7h0M333.6 1511.2h0M338.3 1395.2h0M390.7 1480.5h0M380.5 1424.4h0M332.5 1424.7h0M370.2 1437.0h0M391.4 1391.7h0M337.3 1455.6h0M324.1 1442.8h0M370.1 1409.3h0M338.7 1407.3h0M393.0 1488.7h0M390.4 1402.2h0M376.6 1412.1h0M344.1 1495.9h0M322.5 1433.4h0M330.1 1450.8h0M342.4 1466.2h0M335.2 1489.8h0M340.5 1506.0h0M339.2 1424.6h0M387.0 1452.4h0M342.5 1408.7h0M339.4 1530.0h0M370.3 1378.0h0M334.9 1479.5h0M344.3 1368.7h0M333.2 1477.7h0M323.2 1476.6h0M317.6 1502.3h0M385.6 1490.0h0M338.0 1412.2h0M385.4 1497.6h0M343.8 1432.4h0M389.3 1509.4h0M386.6 1440.8h0M343.3 1446.2h0M332.3 1440.1h0M382.1 1471.5h0M333.4 1515.4h0M325.7 1489.1h0M326.3 1456.9h0M400.0 1499.3h0M422.1 1504.9h0M338.8 1420.0h0M390.3 1497.4h0M338.0 1384.8h0M375.7 1477.1h0M335.3 1473.9h0M394.7 1503.6h0M375.3 1506.7h0M349.1 1485.8h0M336.1 1491.8h0M343.7 1405.2h0M318.4 1496.4h0M383.4 1386.4h0M344.0 1407.7h0M386.7 1462.7h0M337.3 1529.2h0M383.7 1436.9h0M385.7 1385.1h0M347.9 1433.6h0M336.7 1377.2h0M332.1 1483.0h0M373.9 1491.5h0M335.4 1517.6h0M372.3 1409.8h0M373.3 1512.6h0M376.8 1387.6h0M332.6 1413.0h0M343.2 1470.9h0M322.3 1461.5h0M391.5 1400.7h0M344.9 1471.3h0M338.1 1379.7h0M380.8 1507.6h0M384.8 1470.1h0M342.8 1440.7h0M347.6 1444.0h0M383.5 1427.1h0M375.1 1441.9h0M384.7 1429.5h0M376.2 1444.4h0M345.7 1440.4h0M346.2 1380.1h0M381.2 1490.9h0M387.3 1452.3h0M344.9 1505.0h0M372.6 1410.8h0M373.7 1370.2h0M397.0 1499.7h0M339.0 1434.6h0M386.6 1512.4h0M340.5 1460.5h0M348.3 1368.6h0M389.3 1523.8h0M345.7 1417.1h0M399.5 1414.7h0M326.3 1450.9h0M323.0 1522.0h0M394.3 1415.7h0M344.8 1406.7h0M337.3 1468.3h0M341.3 1456.0h0M349.2 1397.3h0M334.4 1377.1h0M399.3 1522.6h0M345.2 1456.4h0M345.2 1442.7h0M380.6 1385.8h0M336.3 1492.8h0M339.4 1400.1h0M346.5 1384.9h0M330.8 1479.8h0M303.1 1443.4h0M343.1 1445.1h0M344.1 1431.5h0M338.1 1471.5h0M385.1 1403.7h0M329.0 1484.7h0M387.6 1505.7h0M370.8 1367.8h0M346.4 1386.9h0M379.7 1512.3h0M382.4 1510.3h0M345.7 1381.3h0M349.1 1373.6h0M345.0 1477.8h0M376.7 1418.7h0M343.6 1408.8h0M325.0 1509.0h0M322.5 1528.3h0M402.0 1487.2h0M383.0 1505.7h0M329.9 1448.6h0M370.0 1474.1h0M372.9 1403.4h0M323.4 1396.8h0M372.2 1398.0h0M381.4 1485.2h0M295.3 1512.7h0M384.3 1376.6h0M418.0 1493.4h0M311.5 1501.3h0M348.0 1379.7h0M374.8 1451.0h0M338.9 1374.5h0M371.9 1391.1h0M371.9 1435.9h0M375.2 1405.3h0M289.4 1432.4h0M333.2 1480.0h0M384.9 1529.1h0M348.2 1427.1h0M391.9 1452.1h0M339.6 1452.7h0M338.1 1383.3h0M390.1 1413.1h0M335.2 1414.2h0M385.1 1500.2h0M376.0 1398.1h0M340.4 1507.2h0M339.3 1403.5h0M328.1 1440.3h0M329.1 1389.1h0M347.6 1428.2h0M340.7 1372.1h0M370.5 1374.8h0M384.5 1426.9h0M394.2 1476.9h0M343.8 1440.9h0M342.1 1515.0h0M341.0 1455.6h0M382.2 1494.7h0M370.9 1505.1h0M370.7 1371.5h0M405.0 1464.2h0M376.7 1514.3h0M336.7 1525.1h0M372.1 1443.6h0M379.4 1415.5h0M370.6 1375.9h0M381.1 1481.7h0M373.0 1389.6h0M372.0 1476.8h0M334.0 1430.4h0M315.3 1501.4h0M341.0 1454.2h0M394.3 1449.3h0M346.0 1422.3h0M382.2 1529.0h0M324.2 1449.1h0M404.2 1472.9h0M327.4 1450.3h0M369.9 1466.7h0M345.0 1420.2h0M340.8 1501.6h0M334.8 1531.9h0M323.8 1398.7h0M370.0 1393.2h0M380.7 1501.7h0M306.0 1509.2h0M386.1 1502.7h0M390.9 1481.4h0M392.1 1499.4h0M397.9 1495.0h0M331.8 1528.0h0M341.2 1437.4h0M332.8 1448.2h0M380.1 1479.1h0M320.9 1527.4h0M318.4 1418.4h0M342.8 1427.5h0M391.8 1497.8h0M377.8 1445.6h0M342.1 1501.4h0M373.0 1410.2h0M338.6 1393.5h0M331.3 1456.9h0M375.9 1528.6h0M312.8 1528.9h0M381.1 1405.1h0M347.8 1469.9h0M392.3 1393.1h0M336.8 1395.0h0M372.1 1413.4h0M349.0 1412.0h0M377.5 1426.3h0M388.1 1453.5h0M349.2 1386.5h0M379.8 1369.2h0M383.4 1478.7h0M369.6 1411.9h0M325.4 1394.7h0M382.2 1530.1h0M377.0 1529.6h0M381.0 1445.6h0M371.3 1512.0h0M387.6 1384.6h0M387.2 1518.7h0M349.0 1472.3h0M333.0 1468.0h0M381.6 1396.5h0M347.4 1415.2h0M331.8 1484.8h0M386.0 1521.4h0M337.7 1525.6h0M332.2 1476.7h0M380.7 1466.3h0M343.2 1512.7h0M389.4 1423.6h0M383.0 1522.9h0M370.1 1520.7h0M370.1 1496.6h0M377.0 1499.6h0M385.0 1404.7h0M348.8 1402.6h0M380.1 1510.7h0M341.2 1414.4h0M395.5 1484.3h0M377.0 1385.1h0M396.4 1494.4h0M337.0 1508.4h0M326.7 1477.6h0M386.3 1403.0h0M377.9 1484.4h0M345.1 1514.2h0M375.1 1393.7h0M312.5 1478.4h0M396.9 1426.2h0M339.4 1399.9h0M346.8 1369.8h0M370.7 1429.7h0M402.6 1430.3h0M374.6 1488.0h0M347.1 1439.0h0M370.6 1454.6h0M393.7 1500.9h0M370.0 1438.1h0M370.0 1381.4h0M373.2 1439.6h0M319.2 1400.4h0M379.3 1491.2h0M340.0 1525.7h0M340.4 1439.7h0M374.3 1464.4h0M407.8 1420.5h0M372.1 1398.8h0M332.5 1396.3h0M370.2 1497.0h0M375.8 1387.9h0M394.7 1496.3h0M335.2 1482.4h0M398.6 1509.9h0M372.9 1517.4h0M396.0 1532.2h0M372.0 1374.9h0M370.8 1415.4h0M382.3 1477.3h0M347.3 1440.9h0M405.9 1438.1h0M336.7 1455.2h0M331.0 1437.6h0M383.0 1415.7h0M339.5 1413.5h0M374.5 1390.0h0M346.8 1526.3h0M324.5 1516.7h0M343.6 1470.4h0M323.1 1480.2h0M376.5 1520.0h0M370.9 1417.8h0M338.7 1408.8h0M348.3 1379.9h0M400.9 1449.7h0M379.3 1512.3h0M341.9 1432.0h0M374.0 1439.3h0M375.7 1450.5h0M335.1 1375.7h0M328.1 1482.5h0M379.5 1476.1h0M386.9 1401.3h0M348.4 1377.4h0M389.0 1531.0h0M392.8 1439.7h0M392.5 1464.2h0M337.4 1475.9h0M328.8 1532.6h0M369.7 1487.9h0M392.1 1470.5h0M347.7 1409.5h0M346.2 1403.0h0M335.1 1441.9h0M343.9 1404.3h0M386.6 1526.7h0M378.3 1388.1h0M369.4 1490.9h0M384.1 1453.8h0M369.9 1501.8h0M373.3 1516.6h0M375.3 1499.7h0M335.2 1386.8h0M384.4 1421.9h0M381.9 1417.5h0M373.3 1485.3h0M331.8 1529.0h0M338.1 1413.0h0M383.1 1438.3h0M372.2 1517.7h0M333.4 1500.3h0M370.6 1379.1h0M322.2 1430.7h0M352.2 1512.8h0M426.8 1487.5h0M324.9 1464.8h0M377.7 1448.2h0M405.1 1416.7h0M354.6 1419.5h0M399.9 1458.4h0M340.8 1513.2h0M376.9 1450.0h0M355.5 1447.5h0M377.5 1482.5h0M393.4 1516.2h0M329.2 1434.1h0M383.5 1436.2h0M436.6 1487.6h0M334.9 1446.5h0M336.0 1501.0h0M295.2 1478.8h0M334.6 1411.2h0M338.0 1469.3h0M356.7 1413.3h0M346.2 1404.6h0M396.0 1420.7h0M352.7 1403.4h0M372.8 1440.3h0M370.3 1402.8h0M434.9 1440.8h0M375.1 1462.2h0M390.1 1459.5h0M397.5 1493.9h0M413.3 1498.1h0M322.4 1445.3h0M306.6 1414.2h0M399.7 1499.5h0M374.5 1430.3h0M425.3 1445.9h0M397.5 1442.9h0M435.8 1432.5h0M333.5 1444.5h0M314.8 1513.9h0M346.8 1494.6h0M345.2 1465.0h0M322.6 1419.3h0M312.3 1424.1h0M402.6 1420.9h0M365.8 1463.2h0M414.6 1449.3h0M382.7 1488.8h0M373.9 1426.4h0M368.7 1447.1h0M322.5 1466.2h0M330.3 1477.4h0M353.4 1406.3h0M375.7 1503.5h0M347.3 1417.1h0M307.5 1447.4h0M380.3 1447.3h0M379.7 1417.6h0M347.9 1487.2h0M390.2 1457.6h0M375.9 1424.3h0M268.7 1495.4h0M309.9 1473.3h0M313.2 1436.6h0M336.9 1458.6h0M416.4 1425.3h0M401.6 1509.0h0M362.3 1438.0h0M356.7 1445.2h0M355.6 1487.4h0M377.1 1444.9h0M289.6 1497.4h0M345.3 1445.4h0M356.8 1495.6h0M371.7 1504.4h0M366.6 1404.2h0M369.9 1475.6h0M362.6 1458.1h0M319.2 1488.1h0M386.3 1406.1h0M351.3 1427.0h0M372.4 1403.0h0M347.1 1441.6h0M315.6 1465.7h0M336.1 1406.8h0M457.8 1500.9h0M349.0 1455.9h0M352.9 1414.1h0M336.6 1430.1h0M384.8 1438.4h0M383.5 1415.2h0M392.5 1420.4h0M360.3 1449.4h0M341.6 1505.0h0M383.0 1513.3h0M342.4 1493.7h0M369.2 1480.0h0M378.1 1487.6h0M380.7 1404.3h0M311.8 1454.6h0M385.9 1406.1h0M402.3 1416.3h0M280.2 1431.8h0M386.0 1446.9h0M335.6 1478.9h0M388.6 1401.5h0M346.5 1489.9h0M325.7 1451.0h0M415.8 1492.4h0M417.1 1493.3h0M418.7 1458.2h0M384.5 1462.0h0M321.6 1498.3h0M410.1 1439.9h0M339.6 1471.7h0M351.4 1496.6h0M323.1 1476.0h0M366.5 1457.7h0M281.7 1440.9h0M413.3 1404.2h0M337.6 1488.0h0M406.6 1451.2h0M313.1 1448.6h0M364.2 1513.7h0M367.0 1414.1h0M317.5 1466.0h0M392.8 1415.5h0M357.5 1443.3h0M322.4 1492.4h0M382.6 1411.7h0M352.4 1455.2h0M429.0 1494.2h0M451.7 1438.7h0M359.3 1425.6h0M381.9 1414.1h0M406.8 1442.9h0M323.4 1499.1h0M396.0 1443.3h0M360.2 1514.3h0M341.1 1462.4h0M404.7 1469.4h0M354.9 1442.4h0M365.9 1476.2h0M389.5 1439.7h0M385.4 1431.1h0M343.6 1444.8h0M370.6 1447.8h0M256.3 1474.8h0M371.5 1456.7h0M381.4 1494.8h0M364.6 1495.6h0M369.3 1410.8h0M377.5 1449.2h0M309.8 1484.5h0M363.9 1416.9h0M356.9 1514.7h0M319.0 1517.2h0M422.9 1513.7h0M374.7 1465.2h0M322.7 1482.8h0M356.2 1408.4h0M424.4 1455.0h0M341.8 1407.0h0M352.1 1501.0h0M333.2 1500.4h0M392.0 1446.9h0M384.6 1493.1h0M392.0 1464.3h0M378.2 1415.4h0M417.7 1487.1h0M314.1 1421.9h0M350.5 1455.4h0M412.3 1490.3h0M330.7 1425.0h0M352.8 1490.0h0M365.7 1516.3h0M335.5 1466.4h0M402.1 1488.0h0M322.5 1458.7h0M332.1 1483.9h0M411.6 1497.8h0M371.8 1501.5h0M360.6 1480.3h0M335.7 1459.9h0M404.4 1499.3h0M390.6 1496.1h0M306.0 1497.7h0M396.8 1443.6h0M391.3 1433.9h0M366.4 1412.8h0M439.9 1462.5h0M378.5 1433.9h0M377.4 1509.6h0M316.0 1514.9h0M316.3 1500.2h0M363.1 1418.8h0M403.1 1424.8h0M355.9 1454.6h0M364.6 1494.7h0M338.2 1483.9h0M449.8 1471.6h0M317.4 1510.2h0M279.4 1449.0h0M349.8 1505.5h0M343.1 1478.7h0M328.1 1405.1h0M412.7 1440.5h0M418.2 1466.3h0M313.6 1505.1h0M369.5 1442.7h0M350.1 1449.6h0M316.8 1412.0h0M317.0 1415.0h0M318.6 1432.2h0M386.7 1508.0h0M384.6 1415.4h0M360.6 1442.9h0M367.7 1484.1h0M324.8 1496.8h0M374.7 1497.6h0M374.1 1422.3h0M342.1 1466.3h0M398.2 1504.2h0M436.3 1457.7h0M372.1 1486.2h0M343.7 1441.8h0M425.6 1430.7h0M406.2 1453.0h0M364.4 1419.2h0M339.2 1454.9h0M306.5 1464.3h0M409.2 1512.3h0M357.2 1452.1h0M350.4 1492.1h0M325.6 1436.4h0M382.5 1443.4h0M343.6 1427.1h0M383.6 1509.7h0M305.4 1444.5h0M328.6 1514.2h0M410.0 1426.2h0M388.8 1443.9h0M421.9 1467.9h0M354.8 1406.4h0M362.1 1472.1h0M379.8 1514.0h0M316.0 1495.4h0M340.4 1446.5h0M300.3 1425.7h0M372.4 1424.7h0M353.3 1450.8h0M344.0 1440.0h0M373.5 1456.9h0M396.6 1485.8h0M388.9 1469.3h0M376.7 1427.7h0M353.8 1403.4h0M305.7 1513.9h0M356.5 1433.8h0M379.5 1446.6h0M329.3 1506.1h0M399.4 1464.2h0M344.6 1491.6h0M428.0 1469.5h0M289.3 1456.7h0M346.5 1445.5h0M420.8 1419.2h0M407.3 1405.0h0M365.8 1514.4h0M333.4 1503.9h0M333.4 1482.5h0M387.4 1462.3h0M354.3 1416.9h0M367.1 1447.4h0M366.0 1445.0h0M434.2 1428.4h0M378.4 1448.3h0M364.6 1491.7h0M278.3 1454.1h0M333.2 1447.1h0M400.3 1481.0h0M345.4 1405.2h0M381.4 1417.8h0M359.9 1429.1h0M367.8 1510.6h0M388.6 1420.3h0M426.5 1425.1h0M397.4 1403.0h0M415.7 1507.6h0M407.5 1504.4h0M373.0 1431.9h0M342.7 1403.0h0M319.3 1413.6h0M365.2 1443.5h0M421.1 1465.6h0M354.7 1512.0h0M412.5 1501.2h0M319.1 1437.3h0M355.3 1498.9h0M403.0 1507.7h0M299.2 1434.9h0M373.4 1418.7h0M416.5 1488.4h0M326.3 1427.5h0M358.7 1515.6h0M341.1 1411.7h0M398.4 1407.6h0M431.4 1468.7h0M345.5 1508.4h0M357.9 1418.7h0M338.7 1495.1h0M339.2 1508.4h0M363.7 1511.0h0M329.2 1421.9h0M351.2 1451.8h0M382.8 1474.8h0M317.3 1454.6h0M353.6 1486.4h0M261.5 1492.8h0M359.6 1468.8h0M318.5 1477.6h0M370.9 1444.5h0M381.3 1465.5h0M351.4 1403.8h0M421.6 1474.7h0M361.0 1458.7h0M356.2 1509.6h0M330.5 1443.2h0M404.2 1408.9h0M357.2 1457.8h0M335.5 1428.4h0M308.0 1441.9h0M336.1 1488.1h0M303.1 1415.0h0M324.5 1444.1h0M330.9 1477.4h0M366.1 1492.7h0M448.4 1475.8h0M321.7 1506.6h0M335.4 1485.7h0M362.8 1461.5h0M339.2 1504.5h0M458.0 1466.3h0M411.3 1463.1h0M381.7 1457.5h0M371.1 1409.5h0M397.7 1458.0h0M345.5 1491.7h0M371.5 1481.8h0M342.0 1495.1h0M355.2 1466.2h0M281.0 1479.0h0M376.3 1428.7h0M351.6 1480.4h0M386.2 1416.3h0M343.9 1418.7h0M350.3 1444.0h0M385.3 1508.5h0M330.4 1440.0h0M344.9 1505.1h0M348.9 1450.6h0M331.6 1433.6h0M378.2 1434.5h0M391.2 1437.5h0M368.2 1472.1h0M354.5 1476.8h0M395.5 1479.3h0M329.6 1498.8h0M326.8 1514.8h0M373.1 1444.3h0M391.7 1465.1h0M334.6 1415.5h0M457.5 1430.8h0M332.4 1496.0h0M337.3 1424.4h0M388.2 1426.2h0M370.2 1491.0h0M339.8 1402.2h0M332.1 1467.8h0M405.6 1434.2h0M362.9 1436.8h0M324.2 1492.8h0M409.5 1428.1h0M376.8 1430.2h0M309.9 1437.0h0M371.0 1429.3h0M356.7 1494.1h0M344.5 1411.8h0M428.4 1434.1h0M402.8 1501.1h0M408.2 1492.2h0M319.4 1477.5h0M337.0 1449.8h0M310.4 1418.4h0M328.2 1405.5h0M431.7 1418.7h0M333.2 1459.3h0M372.1 1471.3h0M352.2 1483.3h0M345.8 1506.7h0M385.1 1454.6h0M384.5 1425.6h0M302.3 1459.7h0M419.5 1406.4h0M342.9 1498.6h0M390.9 1425.7h0M279.5 1459.8h0M307.7 1428.7h0M407.6 1508.8h0M439.5 1495.4h0M375.8 1406.3h0M359.6 1402.2h0M398.7 1425.4h0M376.9 1404.9h0M277.0 1468.1h0M338.8 1430.8h0M413.2 1492.9h0M384.9 1433.6h0M358.7 1465.2h0M369.9 1490.5h0M356.1 1467.2h0M360.5 1491.8h0M325.8 1431.6h0M402.5 1461.4h0M331.4 1446.8h0M375.0 1431.4h0M362.0 1435.8h0M381.2 1486.3h0M362.7 1506.5h0M310.2 1477.5h0M429.1 1441.7h0M329.7 1401.9h0M430.1 1416.2h0M357.5 1459.4h0M386.2 1408.0h0M340.4 1403.6h0M403.1 1438.3h0M269.4 1438.5h0M409.3 1507.2h0M401.8 1413.0h0M388.3 1431.6h0M284.5 1485.1h0M323.8 1415.7h0M333.2 1448.1h0M307.4 1427.0h0M394.4 1443.7h0M320.3 1451.2h0M403.3 1505.0h0M357.7 1457.9h0M382.8 1504.3h0M365.4 1501.4h0M307.8 1435.8h0M362.9 1432.3h0M350.6 1462.4h0M431.8 1445.7h0M308.1 1425.1h0M385.7 1436.2h0M420.6 1430.6h0M333.0 1473.3h0M369.4 1497.9h0M329.0 1445.4h0M310.0 1426.1h0M348.1 1424.9h0M413.3 1444.3h0M375.3 1481.3h0M389.6 1481.1h0M345.1 1493.2h0M325.3 1407.4h0M284.5 1467.4h0M318.5 1503.6h0M439.5 1514.2h0M398.2 1508.6h0M327.3 1512.8h0M337.3 1477.8h0M340.3 1473.9h0M348.2 1488.9h0M277.7 1449.0h0M357.8 1429.8h0M363.3 1505.8h0M354.6 1422.4h0M319.5 1417.3h0M362.8 1488.0h0M290.1 1435.2h0M369.8 1509.5h0M355.4 1446.2h0M439.3 1471.4h0M399.5 1415.2h0M331.5 1485.7h0M331.4 1516.9h0M335.3 1441.0h0M364.4 1487.9h0M297.5 1480.8h0M404.1 1438.3h0M436.0 1440.1h0M293.4 1511.0h0M243.1 1448.1h0M224.8 1454.4h0M356.0 1497.2h0M474.0 1498.2h0M193.1 1476.0h0M364.0 1509.8h0M347.7 1479.1h0M411.4 1483.9h0M328.0 1447.0h0M459.6 1493.7h0M374.5 1509.5h0M360.3 1512.0h0M403.5 1483.0h0M504.9 1473.9h0M247.0 1454.5h0M322.6 1470.1h0M435.8 1482.0h0M369.0 1509.2h0M295.0 1507.4h0M358.5 1475.7h0M262.2 1485.1h0M483.2 1488.9h0M524.8 1456.6h0M362.6 1489.3h0M427.3 1449.0h0M456.9 1478.3h0M485.2 1496.2h0M457.9 1437.3h0M204.8 1500.2h0M419.0 1460.9h0M238.1 1511.3h0M498.1 1508.1h0M442.3 1478.6h0M315.2 1489.7h0M430.3 1482.3h0M246.9 1510.5h0M207.6 1480.4h0M435.2 1468.6h0M492.2 1471.3h0M364.7 1459.4h0M404.6 1499.5h0M375.3 1477.8h0M357.6 1475.2h0M362.0 1466.2h0M296.3 1501.1h0M526.7 1454.9h0M285.4 1449.0h0M455.3 1487.5h0M286.7 1497.9h0M196.6 1493.8h0M403.7 1437.7h0M208.4 1470.7h0M518.0 1492.6h0M396.0 1440.8h0M218.8 1448.8h0M388.0 1446.1h0M296.8 1510.8h0M404.3 1486.6h0M243.8 1501.0h0M221.9 1466.1h0M452.7 1505.9h0M255.2 1449.4h0M273.4 1467.6h0M254.0 1449.9h0M387.1 1506.1h0M304.6 1461.2h0M270.9 1502.9h0M324.6 1511.3h0M210.5 1504.1h0M291.9 1450.0h0M492.2 1482.5h0M440.3 1449.3h0M519.3 1495.8h0M426.9 1443.7h0M442.4 1509.7h0M471.9 1453.6h0M392.3 1509.8h0M218.1 1512.4h0M377.4 1466.8h0M225.1 1448.5h0M328.6 1502.3h0M388.3 1492.6h0M263.2 1496.7h0M456.4 1505.3h0M270.6 1502.3h0M415.4 1460.7h0M335.2 1501.1h0M393.9 1508.3h0M405.7 1448.6h0M259.6 1440.0h0M247.7 1479.0h0M338.3 1438.6h0M352.7 1456.0h0M434.3 1491.2h0M346.0 1477.4h0M302.6 1497.7h0M246.2 1436.6h0M503.1 1500.6h0M525.8 1486.7h0M446.9 1476.9h0M350.0 1480.1h0M202.1 1472.8h0M276.4 1441.9h0M403.7 1491.2h0M473.0 1468.0h0M405.0 1456.1h0M436.9 1496.3h0M413.6 1520.8h0M409.0 1522.0h0M408.8 1518.4h0M394.0 1505.6h0M407.4 1518.8h0M401.6 1514.1h0M403.1 1514.0h0M415.2 1525.0h0M387.9 1507.2h0M390.5 1506.5h0M381.5 1501.4h0M400.1 1512.5h0M389.1 1504.0h0M398.0 1511.6h0M380.2 1501.9h0M410.7 1520.7h0M391.0 1508.7h0M407.8 1520.6h0M406.3 1516.2h0M416.9 1526.0h0M387.4 1506.1h0M414.0 1521.4h0M392.6 1510.3h0M399.0 1511.9h0M392.5 1508.9h0M418.0 1526.5h0M390.2 1507.6h0M388.8 1507.3h0M405.0 1517.0h0M399.4 1513.8h0M386.0 1506.3h0M418.7 1526.0h0M415.1 1522.8h0M415.6 1523.7h0M382.8 1501.5h0M399.1 1513.2h0M379.8 1501.7h0M407.3 1519.1h0M402.8 1516.4h0M404.1 1517.9h0M415.2 1523.3h0M389.6 1506.8h0M395.8 1510.4h0M396.3 1511.7h0M410.6 1519.9h0M406.1 1516.9h0M402.6 1514.1h0M400.8 1514.9h0M390.9 1508.4h0M390.3 1506.5h0M395.0 1507.9h0M385.9 1505.0h0M379.6 1501.5h0M407.6 1519.2h0M404.5 1515.2h0M409.7 1519.9h0M406.5 1519.3h0M408.3 1517.3h0M397.3 1510.2h0M398.8 1511.7h0M390.6 1507.4h0M386.7 1505.5h0M403.9 1517.0h0M392.5 1510.3h0M385.0 1504.3h0M398.4 1513.3h0M392.0 1507.5h0M401.1 1513.5h0M395.4 1509.9h0M410.8 1519.7h0" stroke="#F6D862" stroke-width="2.0" stroke-linecap="round" fill="none"/>
<path d="M173.5,1454.2 C180.6,1451.8 201.4,1444.9 215.7,1440.0 C230.0,1435.1 246.9,1429.6 259.3,1424.7 C271.7,1419.8 280.6,1415.8 290.0,1410.5 C299.5,1405.2 308.4,1399.6 316.0,1393.0 C323.7,1386.4 330.7,1378.4 335.9,1371.1 C341.0,1363.8 343.9,1357.3 346.8,1349.3 C349.7,1341.3 351.6,1332.1 353.2,1323.0 C354.8,1313.9 355.8,1302.8 356.4,1294.6 C357.1,1286.4 356.3,1277.4 357.2,1273.9 C358.0,1270.5 360.8,1270.5 361.6,1273.9 C362.5,1277.4 361.7,1286.4 362.4,1294.6 C363.0,1302.8 364.0,1313.9 365.6,1323.0 C367.2,1332.1 369.1,1341.3 372.0,1349.3 C374.9,1357.3 377.8,1363.8 382.9,1371.1 C388.1,1378.4 395.1,1386.4 402.8,1393.0 C410.4,1399.6 419.3,1405.2 428.8,1410.5 C438.2,1415.8 447.1,1419.8 459.5,1424.7 C471.9,1429.6 488.8,1435.1 503.1,1440.0 C517.4,1444.9 538.2,1451.8 545.2,1454.2" fill="none" stroke="#DC6357" stroke-width="2.7" stroke-linejoin="round"/>
<rect x="172.9" y="1248.3" width="372.7" height="299.4" fill="none" stroke="#000" stroke-width="1.6"/>
<path d="M235.5,1547.7 v-5.5 M297.4,1547.7 v-5.5 M359.4,1547.7 v-5.5 M421.3,1547.7 v-5.5 M483.3,1547.7 v-5.5 M172.9,1289.9 h5.5 M172.9,1375.7 h5.5 M172.9,1461.5 h5.5" stroke="#000" stroke-width="1.5" fill="none"/>
<text x="166.0" y="1304.4" font-size="35" text-anchor="end" fill="#000">10<tspan font-size="23" dy="-14">-3</tspan></text>
<text x="166.0" y="1390.2" font-size="35" text-anchor="end" fill="#000">10<tspan font-size="23" dy="-14">-5</tspan></text>
<text x="166.0" y="1476.0" font-size="35" text-anchor="end" fill="#000">10<tspan font-size="23" dy="-14">-7</tspan></text>
<text x="166.0" y="1561.8" font-size="35" text-anchor="end" fill="#000">10<tspan font-size="23" dy="-14">-9</tspan></text>
<text x="173.5" y="1581" font-size="35" text-anchor="middle">-75</text>
<text x="235.5" y="1581" font-size="35" text-anchor="middle">-50</text>
<text x="297.4" y="1581" font-size="35" text-anchor="middle">-25</text>
<text x="359.4" y="1581" font-size="35" text-anchor="middle">0</text>
<text x="421.3" y="1581" font-size="35" text-anchor="middle">+25</text>
<text x="483.3" y="1581" font-size="35" text-anchor="middle">+50</text>
<text x="545.2" y="1581" font-size="35" text-anchor="middle">+75</text>
<text x="341.5" y="1620" font-size="48.5" font-style="italic">ν<tspan x="357.4" font-size="29" dy="11">yx</tspan></text>
<text transform="translate(90.1,1417.5) rotate(-90)" font-size="42.5" font-style="italic"><tspan x="0.6">E</tspan><tspan x="25.5" font-size="28" dy="11.9">y</tspan></text>
<circle cx="196.6" cy="1438.9" r="15.6" fill="none" stroke="#000" stroke-width="2.1"/>
<text x="196.6" y="1448.5" font-size="28" font-weight="bold" text-anchor="middle">1</text>
<circle cx="389.8" cy="1279.3" r="15.6" fill="none" stroke="#000" stroke-width="2.1"/>
<text x="389.8" y="1288.9" font-size="28" font-weight="bold" text-anchor="middle">2</text>
<circle cx="593" cy="1341.2" r="15.6" fill="none" stroke="#000" stroke-width="2.1"/>
<text x="593" y="1350.8" font-size="28" font-weight="bold" text-anchor="middle">1</text>
<circle cx="593" cy="1519.2" r="15.6" fill="none" stroke="#000" stroke-width="2.1"/>
<text x="593" y="1528.8" font-size="28" font-weight="bold" text-anchor="middle">2</text>
<g><path d="M675.3,1264.6 L624.9,1281.3 L624.9,1382.1 L675.3,1397.8 M706.6,1264.6 L758.1,1281.3 L758.1,1382.1 L706.6,1397.8 M675.3,1264.6 L640.6,1285.8 M706.6,1264.6 L742.5,1285.8 M675.3,1397.8 L639.5,1372.0 M706.6,1397.8 L742.5,1372.0 M624.9,1281.3 L691.0,1313.8 L758.1,1329.5 L691.0,1347.4 L624.9,1382.1 M758.1,1281.3 L691.0,1313.8 L624.9,1329.5 L691.0,1347.4 L758.1,1382.1" fill="none" stroke="#5FB0D6" stroke-width="5.5" stroke-linecap="round" stroke-linejoin="round"/><path d="M675.3,1264.6 L624.9,1281.3 L624.9,1382.1 L675.3,1397.8 M706.6,1264.6 L758.1,1281.3 L758.1,1382.1 L706.6,1397.8 M675.3,1264.6 L640.6,1285.8 M706.6,1264.6 L742.5,1285.8 M675.3,1397.8 L639.5,1372.0 M706.6,1397.8 L742.5,1372.0 M624.9,1281.3 L691.0,1313.8 L758.1,1329.5 L691.0,1347.4 L624.9,1382.1 M758.1,1281.3 L691.0,1313.8 L624.9,1329.5 L691.0,1347.4 L758.1,1382.1" fill="none" stroke="#7CC8EA" stroke-width="4.0" stroke-linecap="round" stroke-linejoin="round"/></g>
<g><path d="M730.4,1440.1 L662.7,1440.1 L680.2,1508.7 L695.6,1576.0 L730.4,1576.0 M662.7,1576.0 L695.6,1576.0 M695.6,1440.1 L680.2,1508.7 L662.7,1576.0 M662.7,1440.1 L681.2,1464.0 L695.6,1440.1 M681.2,1464.0 L680.2,1508.7 M662.7,1576.0 L680.2,1552.5 L695.6,1576.0 M680.2,1552.5 L680.2,1508.7" fill="none" stroke="#5FB0D6" stroke-width="5.5" stroke-linecap="round" stroke-linejoin="round"/><path d="M730.4,1440.1 L662.7,1440.1 L680.2,1508.7 L695.6,1576.0 L730.4,1576.0 M662.7,1576.0 L695.6,1576.0 M695.6,1440.1 L680.2,1508.7 L662.7,1576.0 M662.7,1440.1 L681.2,1464.0 L695.6,1440.1 M681.2,1464.0 L680.2,1508.7 M662.7,1576.0 L680.2,1552.5 L695.6,1576.0 M680.2,1552.5 L680.2,1508.7" fill="none" stroke="#7CC8EA" stroke-width="4.0" stroke-linecap="round" stroke-linejoin="round"/></g>
<text x="782" y="1313.4" font-size="32" textLength="191" lengthAdjust="spacingAndGlyphs"><tspan font-style="italic">E</tspan><tspan font-style="italic" font-size="22" dy="7">y</tspan><tspan dy="-7"> </tspan>= 8.47×10<tspan font-size="21" dy="-13">-8</tspan></text>
<text x="781" y="1360.8" font-size="32" textLength="175" lengthAdjust="spacingAndGlyphs"><tspan font-style="italic" font-size="34">ν</tspan><tspan font-style="italic" font-size="22" dy="7">yx</tspan><tspan dy="-7"> </tspan>= −65.034</text>
<text x="782" y="1490.7" font-size="32" textLength="191" lengthAdjust="spacingAndGlyphs"><tspan font-style="italic">E</tspan><tspan font-style="italic" font-size="22" dy="7">y</tspan><tspan dy="-7"> </tspan>= 7.27×10<tspan font-size="21" dy="-13">-3</tspan></text>
<text x="781" y="1538.8" font-size="32" textLength="152" lengthAdjust="spacingAndGlyphs"><tspan font-style="italic" font-size="34">ν</tspan><tspan font-style="italic" font-size="22" dy="7">yx</tspan><tspan dy="-7"> </tspan>= +0.034</text>
<path d="M1269.5,1460.0 C1273.7,1457.9 1287.7,1453.8 1294.8,1450.2 C1302.0,1446.6 1307.5,1442.9 1312.2,1438.2 C1317.0,1433.5 1320.8,1427.8 1323.4,1421.8 C1326.0,1415.8 1326.5,1408.3 1327.6,1402.1 C1328.8,1395.9 1329.3,1387.5 1330.2,1384.6 C1331.1,1381.7 1332.1,1381.7 1333.0,1384.6 C1333.9,1387.5 1334.4,1395.9 1335.6,1402.1 C1336.7,1408.3 1337.2,1415.8 1339.8,1421.8 C1342.4,1427.8 1346.2,1433.5 1351.0,1438.2 C1355.7,1442.9 1361.2,1446.6 1368.4,1450.2 C1375.5,1453.8 1389.5,1457.9 1393.7,1460.0 C1397.9,1462.1 1396.6,1461.7 1393.7,1463.0 C1390.8,1464.3 1381.7,1466.2 1376.3,1468.0 C1370.9,1469.8 1366.0,1472.3 1361.4,1474.0 C1356.9,1475.7 1351.7,1474.5 1349.0,1478.0 C1346.3,1481.5 1345.9,1488.8 1345.3,1495.0 C1344.6,1501.2 1346.0,1509.2 1345.3,1515.0 C1344.6,1520.8 1343.3,1526.2 1341.0,1530.0 C1338.8,1533.8 1334.7,1538.0 1331.6,1538.0 C1328.5,1538.0 1324.4,1533.8 1322.2,1530.0 C1319.9,1526.2 1318.6,1520.8 1317.9,1515.0 C1317.2,1509.2 1318.6,1501.2 1317.9,1495.0 C1317.3,1488.8 1316.9,1481.5 1314.2,1478.0 C1311.5,1474.5 1306.3,1475.7 1301.8,1474.0 C1297.2,1472.3 1292.3,1469.8 1286.9,1468.0 C1281.5,1466.2 1272.4,1464.3 1269.5,1463.0 C1266.6,1461.7 1265.3,1462.1 1269.5,1460.0 Z" fill="#52BE80"/>
<path d="M1330.1,1390 L1330.7,1266.7 L1332.5,1266.7 L1333.1,1390 Z" fill="#52BE80"/>
<path d="M1300.7 1503.0h0M1331.1 1491.0h0M1339.5 1517.1h0M1352.3 1504.4h0M1322.5 1470.5h0M1352.8 1492.3h0M1326.6 1491.2h0M1342.9 1493.4h0M1324.1 1493.2h0M1328.0 1480.4h0M1294.3 1509.9h0M1315.4 1508.2h0M1328.6 1483.9h0M1377.9 1497.5h0M1308.9 1468.7h0M1330.2 1530.8h0M1310.1 1480.1h0M1322.3 1469.1h0M1294.0 1519.7h0M1309.4 1467.6h0M1278.7 1531.6h0M1348.2 1511.4h0M1326.2 1532.8h0M1315.7 1511.7h0M1313.7 1520.9h0M1280.2 1493.9h0M1363.2 1491.0h0M1297.7 1500.8h0M1334.7 1495.9h0M1353.3 1513.3h0M1325.5 1491.9h0M1311.9 1519.4h0M1309.5 1474.2h0M1279.3 1505.5h0M1345.0 1507.3h0M1325.0 1514.4h0M1324.5 1509.5h0M1337.5 1493.8h0M1302.0 1488.5h0M1328.6 1509.8h0M1279.5 1482.6h0M1309.2 1488.9h0M1334.1 1486.4h0M1372.8 1469.9h0M1344.6 1531.2h0M1358.7 1471.5h0M1322.0 1507.3h0M1293.3 1513.4h0M1342.7 1517.9h0M1317.9 1531.7h0M1310.9 1514.1h0M1367.0 1524.5h0M1304.5 1499.5h0M1317.9 1478.7h0M1321.7 1468.6h0M1305.3 1506.5h0M1291.3 1516.9h0M1306.8 1484.5h0M1281.7 1523.4h0M1390.9 1487.5h0M1330.7 1519.2h0M1338.0 1481.3h0M1343.6 1496.9h0M1348.5 1509.4h0M1330.4 1514.8h0M1359.1 1485.0h0M1294.1 1500.4h0M1328.3 1525.8h0M1358.9 1486.0h0M1304.7 1475.5h0M1310.8 1524.6h0M1322.6 1516.5h0M1322.2 1490.0h0M1276.3 1518.5h0M1327.3 1509.5h0M1315.1 1488.5h0M1347.5 1511.1h0M1292.8 1528.3h0M1359.7 1489.9h0M1303.5 1504.1h0M1332.4 1522.0h0M1361.5 1511.9h0M1363.2 1516.8h0M1343.1 1487.0h0M1368.4 1493.0h0M1360.7 1505.8h0M1336.1 1521.7h0M1303.9 1500.6h0M1334.7 1529.6h0M1386.5 1510.2h0M1323.0 1491.0h0M1341.6 1513.4h0M1387.8 1530.7h0M1310.4 1520.4h0M1310.2 1518.1h0M1294.6 1511.0h0M1395.3 1509.2h0M1325.9 1486.7h0M1370.8 1505.5h0M1324.2 1471.3h0M1296.0 1473.4h0M1311.3 1529.8h0M1339.4 1515.0h0M1337.9 1468.8h0M1326.2 1493.4h0M1306.2 1504.2h0M1306.5 1471.9h0M1333.7 1483.7h0M1366.6 1471.1h0M1345.0 1507.8h0M1337.7 1497.6h0M1337.9 1508.7h0M1292.0 1504.5h0M1319.2 1493.0h0M1302.4 1499.0h0M1311.4 1519.4h0M1326.0 1471.0h0M1372.2 1526.4h0M1359.9 1470.8h0M1341.2 1474.9h0M1338.3 1528.6h0M1368.7 1479.8h0M1391.1 1509.8h0M1358.8 1512.8h0M1324.2 1509.6h0M1342.9 1519.4h0M1361.7 1478.0h0M1337.9 1483.0h0M1318.2 1503.0h0M1327.9 1516.5h0M1276.9 1520.4h0M1345.1 1498.0h0M1302.7 1528.7h0M1337.4 1472.5h0M1346.6 1475.9h0M1319.8 1503.2h0M1346.4 1529.7h0M1313.4 1467.7h0M1326.4 1518.7h0M1337.7 1511.3h0M1366.8 1515.2h0M1269.6 1525.3h0M1390.8 1501.9h0M1385.4 1524.7h0M1319.7 1491.7h0M1362.1 1497.9h0M1336.1 1477.5h0M1302.2 1487.9h0M1321.8 1512.3h0M1323.9 1514.9h0M1370.4 1486.7h0M1292.1 1488.1h0M1334.8 1528.2h0M1335.4 1503.7h0M1310.9 1527.0h0M1413.3 1492.0h0M1325.3 1479.4h0M1347.8 1478.8h0M1300.5 1525.7h0M1335.9 1493.4h0M1274.6 1479.8h0M1352.8 1527.5h0M1389.5 1517.7h0M1290.2 1490.9h0M1319.5 1492.5h0M1325.4 1530.5h0M1304.6 1514.5h0M1293.3 1506.5h0M1311.0 1496.8h0M1354.3 1501.6h0M1301.3 1506.5h0M1352.6 1468.6h0M1347.6 1499.6h0M1292.7 1518.2h0M1341.0 1503.9h0M1332.8 1499.6h0M1365.0 1480.4h0M1333.1 1467.6h0M1305.7 1495.8h0M1319.2 1532.4h0M1342.1 1509.8h0M1315.1 1524.8h0M1317.5 1501.8h0M1344.9 1500.3h0M1345.5 1485.4h0M1309.4 1512.2h0M1366.9 1524.2h0M1342.6 1489.8h0M1293.7 1483.9h0M1321.5 1523.5h0M1330.8 1497.4h0M1327.5 1484.7h0M1325.4 1472.6h0M1286.2 1500.8h0M1297.6 1483.3h0M1364.9 1483.7h0M1337.0 1480.9h0M1356.2 1530.2h0M1318.4 1483.9h0M1396.6 1475.9h0M1325.8 1531.9h0M1306.2 1513.4h0M1275.3 1492.3h0M1309.2 1472.3h0M1316.8 1527.2h0M1353.0 1482.5h0M1371.6 1501.4h0M1343.8 1516.9h0M1318.5 1530.8h0M1343.6 1492.8h0M1311.8 1501.3h0M1310.6 1525.3h0M1325.8 1480.1h0M1307.9 1497.4h0M1340.2 1530.2h0M1330.9 1511.8h0M1306.8 1515.8h0M1374.2 1489.0h0M1343.6 1480.0h0M1278.1 1506.5h0M1341.0 1497.8h0M1340.8 1502.1h0M1310.2 1509.9h0M1398.4 1477.1h0M1355.8 1481.4h0M1390.9 1524.9h0M1336.2 1473.0h0M1328.2 1483.0h0M1335.2 1531.8h0M1338.2 1478.3h0M1318.5 1530.4h0M1361.0 1492.9h0M1361.1 1485.4h0M1356.4 1476.8h0M1356.6 1479.4h0M1356.5 1479.1h0M1297.5 1499.5h0M1294.9 1478.9h0M1337.7 1521.0h0M1323.8 1517.7h0M1382.6 1525.4h0M1354.3 1524.9h0M1258.7 1530.7h0M1296.0 1490.1h0M1329.6 1492.6h0M1318.9 1509.5h0M1332.8 1501.9h0M1363.5 1490.3h0M1329.2 1489.7h0M1301.8 1526.1h0M1303.8 1518.5h0M1340.2 1513.3h0M1359.2 1474.1h0M1339.6 1484.0h0M1336.9 1529.2h0M1351.8 1507.4h0M1338.1 1500.1h0M1293.0 1471.9h0M1307.4 1516.2h0M1305.9 1521.0h0M1339.6 1496.2h0M1343.0 1522.7h0M1316.0 1527.8h0M1238.0 1491.0h0M1398.3 1525.7h0M1350.2 1503.6h0M1328.0 1493.8h0M1386.2 1510.4h0M1322.0 1469.6h0M1289.6 1512.8h0M1303.6 1491.5h0M1317.9 1477.1h0M1245.8 1493.5h0M1369.9 1525.1h0M1352.7 1471.4h0M1384.0 1526.4h0M1315.5 1493.4h0M1300.1 1476.1h0M1295.9 1524.9h0M1334.0 1501.3h0M1286.3 1520.9h0M1300.3 1511.7h0M1317.1 1484.1h0M1311.2 1506.4h0M1301.7 1508.2h0M1314.5 1468.7h0M1341.6 1496.6h0M1311.7 1493.2h0M1333.4 1505.4h0M1347.6 1494.3h0M1349.4 1500.3h0M1302.0 1502.7h0M1354.6 1482.2h0M1337.4 1490.6h0M1381.0 1475.0h0M1360.4 1476.8h0M1332.4 1515.9h0M1307.2 1508.6h0M1323.8 1520.5h0M1336.1 1487.7h0M1337.4 1521.8h0M1323.2 1517.3h0M1345.9 1513.9h0M1304.1 1492.7h0M1327.4 1494.0h0M1296.1 1480.4h0M1294.5 1505.1h0M1319.4 1475.7h0M1363.4 1492.6h0M1316.9 1474.7h0M1350.4 1511.1h0M1348.5 1494.4h0M1337.9 1496.0h0M1295.7 1481.7h0M1305.9 1482.3h0M1363.0 1502.3h0M1331.8 1492.4h0M1326.5 1485.1h0M1327.2 1499.0h0M1319.4 1491.2h0M1315.5 1525.9h0M1266.8 1519.1h0M1327.6 1504.1h0M1324.7 1530.1h0M1305.6 1526.3h0M1303.0 1523.7h0M1319.0 1500.8h0M1351.5 1494.3h0M1329.0 1529.4h0M1336.6 1476.5h0M1355.5 1505.1h0M1392.3 1522.1h0M1321.7 1517.1h0M1327.0 1494.2h0M1324.0 1490.0h0M1340.0 1516.7h0M1349.0 1522.3h0M1327.3 1514.5h0M1350.8 1479.7h0M1279.1 1518.5h0M1304.2 1498.4h0M1351.7 1471.3h0M1336.8 1524.0h0M1299.6 1467.1h0M1382.2 1483.4h0M1329.0 1483.6h0M1373.9 1494.8h0M1314.6 1497.3h0M1324.7 1492.4h0M1325.8 1526.9h0M1340.5 1514.8h0M1322.1 1483.8h0M1341.6 1500.8h0M1346.3 1471.0h0M1343.0 1532.3h0M1329.9 1521.9h0M1342.8 1477.7h0M1293.7 1499.7h0M1285.4 1508.8h0M1354.2 1478.8h0M1320.2 1531.6h0M1325.5 1501.2h0M1291.9 1530.2h0M1399.3 1501.5h0M1331.2 1488.2h0M1307.8 1507.8h0M1333.6 1494.3h0M1342.2 1488.8h0M1308.3 1526.7h0M1323.1 1521.7h0M1349.7 1493.1h0M1312.0 1522.1h0M1341.8 1515.8h0M1317.0 1504.2h0M1338.4 1468.7h0M1329.7 1506.2h0M1333.3 1492.9h0M1327.5 1488.2h0M1338.1 1504.5h0M1390.3 1492.8h0M1287.8 1482.7h0M1330.9 1493.5h0M1320.8 1482.2h0M1339.4 1483.9h0M1296.2 1480.0h0M1340.5 1467.9h0M1314.0 1474.8h0M1350.8 1527.6h0M1344.4 1498.4h0M1349.6 1509.9h0M1354.9 1494.7h0M1326.4 1533.3h0M1343.8 1473.4h0M1302.6 1528.6h0M1357.9 1528.8h0M1293.6 1471.7h0M1323.1 1515.8h0M1384.0 1508.5h0M1280.5 1495.3h0M1366.2 1480.5h0M1353.0 1478.2h0M1312.5 1524.1h0M1316.3 1505.1h0M1326.2 1511.7h0M1326.2 1476.3h0M1282.6 1525.7h0M1295.1 1499.6h0M1333.7 1469.0h0M1370.5 1491.1h0M1376.3 1519.6h0M1319.4 1478.1h0M1312.9 1472.6h0M1295.7 1524.8h0M1337.5 1533.2h0M1278.2 1494.8h0M1302.0 1511.8h0M1330.1 1527.2h0M1278.2 1481.2h0M1322.0 1532.3h0M1309.4 1474.1h0M1319.3 1479.5h0M1315.3 1531.5h0M1345.5 1504.9h0M1354.7 1499.5h0M1372.6 1499.8h0M1343.7 1520.7h0M1339.3 1522.6h0M1349.7 1497.3h0M1347.9 1499.4h0M1303.5 1529.7h0M1347.8 1506.2h0M1328.5 1489.2h0M1326.8 1472.5h0M1402.4 1512.3h0M1320.4 1513.0h0M1340.1 1489.2h0M1336.4 1501.3h0M1374.1 1477.3h0M1343.2 1491.2h0M1311.6 1530.3h0M1346.1 1516.5h0M1384.7 1522.2h0M1327.6 1476.3h0M1348.9 1508.6h0M1334.0 1521.6h0M1350.7 1482.0h0M1287.4 1492.8h0M1292.6 1479.8h0M1283.5 1488.9h0M1334.9 1504.6h0M1331.6 1499.2h0M1331.6 1503.2h0M1316.9 1497.9h0M1296.8 1502.3h0M1298.6 1469.5h0M1353.8 1494.8h0M1381.2 1481.9h0M1374.9 1475.8h0M1302.6 1505.8h0M1340.7 1501.0h0M1359.2 1497.4h0M1307.1 1530.4h0M1272.0 1524.5h0M1332.9 1510.0h0M1357.8 1532.4h0M1338.8 1496.9h0M1348.8 1513.5h0M1333.5 1486.4h0M1328.8 1509.3h0M1337.0 1471.6h0M1312.8 1520.2h0M1365.2 1488.1h0M1379.2 1482.3h0M1274.5 1473.2h0M1353.6 1478.9h0M1352.7 1523.3h0M1271.8 1478.2h0M1354.0 1515.4h0M1365.1 1507.2h0M1329.7 1498.3h0M1345.5 1475.3h0M1320.9 1479.7h0M1345.2 1516.1h0M1338.5 1486.9h0M1336.8 1469.6h0M1318.2 1486.3h0M1298.5 1483.4h0M1370.4 1523.3h0M1329.5 1466.9h0M1320.8 1473.7h0M1306.3 1474.0h0M1309.3 1523.0h0M1349.3 1470.3h0M1320.4 1519.0h0M1293.3 1483.8h0M1383.3 1502.8h0M1313.5 1527.7h0M1326.1 1504.9h0M1324.5 1505.7h0M1373.0 1525.3h0M1313.1 1497.2h0M1319.5 1494.6h0M1315.1 1530.0h0M1327.7 1472.3h0M1295.3 1473.0h0M1328.9 1489.5h0M1340.3 1488.1h0M1330.1 1506.3h0M1307.7 1479.8h0M1313.9 1525.8h0M1318.5 1486.1h0M1312.7 1477.6h0M1392.4 1504.0h0M1333.0 1497.7h0M1337.5 1485.6h0M1355.8 1508.6h0M1347.1 1502.0h0M1306.7 1487.2h0M1314.9 1518.4h0M1328.6 1494.4h0M1300.4 1492.3h0M1391.9 1532.5h0M1288.9 1486.2h0M1293.4 1517.8h0M1323.4 1504.1h0M1307.3 1472.5h0M1345.6 1513.3h0M1323.7 1511.4h0M1334.3 1516.8h0M1319.2 1514.0h0M1341.7 1510.9h0M1301.7 1491.0h0M1338.7 1490.8h0M1303.4 1499.1h0M1336.3 1490.0h0M1282.0 1479.7h0M1394.4 1477.2h0M1343.6 1492.3h0M1346.6 1475.7h0M1284.0 1493.4h0M1347.0 1533.2h0M1391.0 1508.2h0M1321.4 1479.4h0M1342.7 1490.8h0M1369.3 1507.4h0M1340.2 1521.5h0M1320.2 1495.6h0M1330.7 1488.4h0M1325.8 1518.6h0M1299.7 1484.6h0M1327.1 1506.6h0M1335.8 1470.3h0M1308.6 1509.9h0M1343.7 1470.8h0M1352.4 1487.4h0M1325.8 1487.6h0M1343.2 1485.7h0M1348.7 1479.2h0M1351.3 1492.5h0M1368.2 1522.0h0M1323.1 1499.3h0M1311.7 1512.8h0M1230.9 1523.7h0M1353.2 1524.8h0M1294.3 1501.8h0M1360.0 1497.4h0M1323.3 1527.0h0M1357.8 1497.3h0M1328.8 1513.4h0M1358.1 1490.2h0M1321.6 1479.6h0M1344.2 1477.8h0M1301.9 1486.7h0M1313.8 1496.6h0M1357.9 1496.1h0M1318.6 1478.3h0M1306.4 1475.7h0M1354.0 1522.4h0M1372.2 1509.1h0M1324.9 1519.0h0M1353.2 1497.8h0M1303.4 1471.3h0M1292.0 1484.2h0M1387.5 1500.6h0M1282.5 1530.0h0M1339.2 1518.2h0M1306.2 1471.8h0M1365.6 1488.8h0M1362.6 1468.3h0M1375.8 1480.7h0M1317.5 1525.3h0M1377.4 1495.0h0M1324.0 1511.8h0M1298.5 1496.3h0M1309.2 1514.2h0M1311.9 1520.7h0M1393.6 1524.7h0M1313.7 1521.1h0M1283.5 1494.4h0M1315.6 1467.7h0M1316.6 1522.1h0M1355.2 1482.0h0M1333.6 1472.3h0M1351.8 1522.2h0M1304.6 1516.3h0M1378.6 1518.8h0M1377.1 1509.9h0M1293.3 1488.1h0M1296.6 1489.5h0M1300.3 1524.3h0M1325.7 1478.5h0M1316.6 1528.2h0M1343.7 1478.8h0M1361.5 1509.8h0M1319.5 1487.4h0M1341.6 1513.1h0M1329.4 1516.7h0M1336.6 1522.6h0M1346.0 1477.7h0M1343.8 1499.7h0M1361.9 1500.7h0M1314.3 1495.6h0M1325.6 1516.2h0M1313.6 1490.9h0M1313.6 1504.5h0M1304.7 1477.7h0M1339.9 1489.3h0M1341.8 1481.1h0M1297.9 1513.8h0M1392.7 1516.6h0M1311.2 1531.5h0M1302.7 1527.9h0M1351.0 1531.7h0M1347.9 1483.4h0M1309.4 1515.8h0M1304.3 1523.0h0M1359.2 1513.7h0M1319.7 1503.0h0M1275.9 1498.4h0M1316.0 1515.7h0M1379.6 1479.5h0M1358.0 1486.7h0M1343.7 1500.7h0M1387.3 1486.8h0M1363.6 1481.1h0M1338.3 1479.7h0M1340.0 1516.9h0M1303.8 1476.0h0M1384.2 1498.5h0M1297.2 1472.7h0M1389.4 1520.8h0M1336.2 1520.4h0M1295.8 1515.8h0M1348.8 1520.3h0M1350.8 1504.2h0M1301.5 1482.3h0M1297.1 1507.2h0M1281.7 1523.3h0M1368.1 1512.0h0M1348.7 1530.3h0M1295.1 1472.6h0M1324.3 1514.1h0M1296.3 1488.5h0M1381.0 1523.6h0M1319.5 1486.2h0M1344.0 1488.5h0M1323.5 1499.6h0M1333.1 1516.9h0M1312.3 1528.6h0M1330.0 1474.4h0M1295.2 1491.7h0M1296.3 1531.2h0M1352.1 1531.4h0M1330.2 1513.8h0M1355.3 1487.5h0M1345.9 1499.6h0M1253.5 1502.0h0M1340.9 1470.1h0M1321.0 1476.5h0M1305.4 1519.5h0M1349.6 1509.6h0M1388.3 1502.7h0M1299.4 1496.6h0M1278.6 1469.6h0M1320.8 1492.2h0M1294.6 1516.6h0M1345.6 1472.6h0M1318.0 1484.9h0M1322.6 1481.0h0M1344.4 1488.5h0M1341.1 1522.2h0M1317.0 1520.8h0M1285.8 1508.9h0M1328.8 1526.4h0M1302.2 1478.8h0M1334.5 1467.5h0M1309.7 1520.4h0M1329.4 1533.0h0M1348.5 1517.2h0M1334.3 1506.8h0M1357.8 1476.9h0M1282.9 1490.7h0M1397.9 1515.2h0M1324.3 1508.0h0M1414.0 1510.4h0M1321.6 1516.7h0M1335.0 1468.5h0M1321.5 1519.6h0M1340.3 1502.4h0M1295.0 1475.6h0M1332.9 1518.0h0M1374.5 1482.3h0M1302.4 1480.6h0M1303.7 1502.7h0M1303.6 1473.0h0M1289.7 1491.7h0M1360.6 1473.8h0M1342.4 1487.0h0M1355.0 1483.7h0M1371.9 1525.7h0M1353.7 1518.4h0M1359.3 1532.2h0M1368.3 1469.5h0M1281.6 1517.0h0M1342.0 1482.6h0M1329.0 1510.2h0M1255.6 1484.9h0M1327.2 1509.9h0M1330.3 1497.9h0M1303.7 1529.6h0M1340.3 1533.1h0M1330.9 1517.0h0M1317.2 1525.9h0M1288.9 1513.7h0M1269.5 1518.8h0M1327.1 1522.9h0M1323.2 1470.4h0M1346.1 1472.1h0M1371.5 1509.7h0M1338.7 1525.7h0M1343.4 1532.6h0M1312.5 1516.9h0M1337.5 1467.2h0M1316.2 1495.1h0M1352.6 1482.9h0M1286.7 1488.1h0M1364.9 1528.0h0M1375.8 1509.6h0M1374.7 1515.7h0M1314.1 1468.9h0M1326.0 1496.9h0M1322.6 1511.8h0M1341.2 1498.3h0M1325.2 1518.7h0M1321.1 1521.7h0M1319.9 1478.6h0M1305.2 1530.1h0M1318.8 1528.9h0M1313.5 1476.0h0M1317.4 1517.7h0M1379.8 1532.0h0M1290.5 1502.1h0M1294.4 1470.0h0M1344.3 1531.1h0M1352.7 1508.8h0M1311.5 1487.6h0M1326.4 1531.3h0M1343.3 1530.2h0M1347.7 1486.2h0M1330.0 1504.2h0M1347.5 1523.4h0M1321.5 1519.7h0M1325.6 1505.9h0M1333.5 1502.8h0M1304.8 1477.3h0M1293.4 1518.2h0M1373.0 1471.2h0M1268.1 1514.4h0M1327.5 1476.7h0M1313.8 1497.3h0M1327.1 1468.9h0M1347.6 1524.0h0M1372.6 1475.2h0M1372.5 1531.8h0M1272.1 1525.6h0M1342.7 1523.3h0M1322.9 1506.4h0M1348.4 1475.4h0M1306.1 1532.7h0M1369.5 1471.4h0M1310.0 1522.5h0M1352.9 1520.1h0M1355.1 1489.4h0M1294.6 1516.6h0M1274.3 1496.8h0M1371.6 1517.0h0M1324.9 1475.5h0M1290.6 1512.3h0M1344.4 1485.5h0M1385.5 1495.2h0M1328.8 1511.5h0M1350.4 1516.4h0M1361.3 1475.7h0M1335.6 1507.7h0M1356.6 1475.5h0M1318.5 1532.3h0M1326.6 1519.9h0M1297.9 1497.2h0M1315.1 1489.4h0M1321.7 1469.3h0M1361.0 1472.7h0M1341.7 1468.5h0M1312.5 1470.2h0M1341.3 1516.1h0M1296.4 1516.8h0M1336.9 1524.4h0M1293.3 1487.9h0M1293.8 1482.8h0M1356.3 1469.8h0M1335.2 1472.9h0M1300.1 1477.6h0M1326.0 1522.0h0M1377.5 1490.1h0M1329.5 1504.2h0M1290.6 1503.3h0M1284.1 1498.7h0M1301.8 1503.3h0M1377.6 1504.9h0M1339.8 1468.5h0M1401.0 1482.8h0M1316.4 1529.8h0M1340.9 1523.1h0M1304.0 1473.2h0M1304.2 1518.3h0M1384.9 1480.1h0M1300.9 1489.6h0M1329.2 1478.6h0M1362.6 1504.6h0M1355.5 1485.7h0M1284.1 1520.1h0M1326.1 1522.8h0M1326.4 1527.9h0M1342.1 1519.2h0M1356.8 1509.3h0M1315.0 1521.0h0M1337.7 1468.0h0M1365.2 1505.8h0M1399.2 1495.7h0M1338.1 1473.2h0M1320.6 1503.1h0M1350.9 1480.3h0M1343.9 1509.3h0M1366.4 1476.5h0M1288.9 1491.8h0M1329.7 1475.2h0M1284.4 1470.1h0M1400.4 1467.6h0M1350.7 1506.3h0M1297.4 1480.3h0M1290.2 1526.2h0M1342.7 1486.0h0M1313.8 1512.6h0M1344.3 1526.8h0M1313.0 1504.1h0M1322.5 1468.6h0M1343.5 1469.5h0M1308.2 1491.5h0M1287.7 1508.5h0M1314.3 1532.0h0M1334.3 1478.9h0M1299.0 1503.9h0M1317.0 1482.9h0M1341.7 1483.2h0M1291.1 1480.7h0M1360.3 1499.6h0M1279.9 1514.8h0M1334.6 1527.5h0M1304.8 1527.9h0M1338.0 1471.6h0M1328.4 1502.1h0M1356.6 1500.7h0M1322.6 1506.4h0M1331.7 1509.9h0M1369.9 1501.4h0M1366.8 1532.1h0M1362.4 1485.4h0M1331.7 1500.6h0M1338.6 1474.1h0M1321.4 1508.4h0M1333.6 1485.2h0M1343.3 1496.1h0M1331.5 1527.8h0M1312.2 1497.2h0M1376.0 1506.0h0M1297.0 1503.0h0M1367.6 1509.1h0M1476.9 1510.0h0M1274.2 1520.2h0M1294.6 1494.3h0M1304.3 1529.6h0M1474.1 1500.6h0M1451.2 1502.8h0M1467.0 1525.3h0M1449.8 1529.9h0M1487.3 1522.0h0M1211.1 1511.4h0M1382.0 1497.4h0M1334.0 1495.4h0M1247.1 1529.7h0M1262.3 1522.3h0M1354.2 1494.8h0M1441.9 1508.3h0M1188.2 1507.3h0M1400.7 1502.6h0M1175.1 1522.6h0M1353.0 1507.7h0M1481.2 1494.4h0M1411.7 1513.2h0M1412.7 1512.7h0M1221.1 1506.5h0M1357.0 1522.1h0M1209.8 1514.7h0M1389.7 1500.1h0M1179.0 1530.6h0M1209.4 1518.3h0M1297.5 1519.2h0M1232.1 1502.4h0M1377.1 1516.1h0M1315.1 1510.7h0M1292.1 1506.2h0M1276.0 1530.0h0M1184.4 1530.1h0M1438.0 1507.0h0M1369.2 1517.7h0M1344.8 1507.9h0M1253.7 1527.2h0M1194.0 1514.6h0M1399.8 1507.1h0M1211.1 1513.7h0M1190.4 1509.1h0M1494.1 1513.9h0M1353.8 1508.7h0M1252.1 1513.1h0M1314.3 1521.5h0M1312.8 1507.0h0M1280.0 1503.6h0M1467.6 1510.1h0M1424.6 1493.9h0M1444.5 1504.4h0M1478.9 1514.5h0M1195.4 1527.0h0M1497.9 1521.5h0M1242.8 1526.0h0M1228.6 1527.2h0M1356.6 1510.5h0M1422.3 1496.5h0M1293.0 1517.3h0M1301.2 1510.0h0M1302.5 1494.8h0M1355.3 1518.0h0M1461.4 1508.4h0M1335.1 1523.8h0M1288.2 1511.6h0M1451.6 1499.6h0M1166.2 1525.8h0M1260.8 1517.5h0M1250.3 1496.7h0M1455.2 1524.8h0M1217.6 1521.5h0M1239.3 1527.1h0M1181.9 1495.4h0M1292.4 1506.2h0M1461.6 1493.3h0M1414.6 1512.3h0M1327.2 1523.6h0M1278.3 1492.4h0M1179.1 1492.7h0M1232.8 1500.9h0M1287.7 1493.5h0M1292.4 1508.6h0M1220.0 1510.8h0M1215.9 1503.4h0M1365.9 1529.6h0M1197.6 1495.4h0M1362.5 1526.1h0M1181.1 1520.2h0M1479.5 1522.5h0M1455.2 1497.9h0M1180.5 1510.6h0M1228.1 1530.7h0M1455.8 1510.6h0M1172.5 1524.8h0M1276.6 1500.1h0M1432.1 1516.5h0M1289.8 1515.4h0M1289.1 1519.2h0M1346.6 1525.8h0M1421.5 1528.1h0M1499.4 1511.4h0M1335.1 1513.4h0M1230.4 1525.1h0M1185.6 1521.4h0M1353.6 1509.2h0M1352.8 1506.8h0M1389.6 1533.2h0M1352.9 1506.8h0M1374.3 1521.2h0M1356.1 1509.9h0M1363.6 1514.2h0M1354.6 1507.8h0M1382.0 1526.8h0M1389.4 1530.4h0M1365.5 1518.4h0M1366.8 1515.8h0M1369.2 1519.8h0M1382.6 1528.0h0M1367.7 1516.8h0M1372.9 1521.3h0M1381.8 1527.4h0M1353.9 1510.2h0M1377.9 1522.0h0M1364.3 1513.6h0M1384.2 1527.5h0M1385.3 1528.8h0M1388.7 1531.5h0M1350.7 1508.4h0M1367.4 1517.3h0M1375.7 1523.8h0M1374.1 1522.8h0M1357.3 1512.1h0M1357.6 1509.4h0M1354.6 1509.4h0M1376.6 1524.9h0M1366.4 1517.5h0M1356.0 1510.8h0M1389.4 1531.8h0M1379.2 1524.2h0M1376.6 1522.2h0M1362.1 1513.5h0M1368.5 1518.4h0M1376.9 1522.8h0M1358.1 1510.4h0M1374.6 1522.2h0M1369.9 1518.3h0M1388.0 1531.8h0M1357.6 1512.3h0M1381.8 1525.5h0M1388.1 1530.4h0M1357.7 1510.5h0M1357.0 1510.9h0M1375.6 1522.9h0M1364.3 1513.7h0M1388.2 1529.4h0M1370.4 1520.0h0M1388.9 1530.8h0M1382.6 1527.3h0M1358.0 1511.0h0M1356.4 1509.3h0M1381.2 1526.1h0M1387.2 1531.0h0M1367.8 1517.7h0M1382.7 1526.6h0M1385.4 1530.6h0M1378.3 1525.2h0M1385.5 1528.8h0M1390.7 1532.7h0M1359.0 1510.0h0M1365.1 1516.9h0M1362.8 1514.8h0M1358.1 1510.7h0M1372.4 1521.1h0M1359.4 1514.1h0" stroke="#52BE80" stroke-width="2.0" stroke-linecap="round" fill="none"/>
<path d="M1145.3,1483.5 C1155.6,1481.8 1186.7,1477.3 1207.4,1473.2 C1228.1,1469.1 1254.9,1463.0 1269.5,1459.0 C1284.1,1455.0 1287.7,1452.8 1294.8,1449.2 C1302.0,1445.6 1307.5,1441.9 1312.2,1437.2 C1317.0,1432.5 1320.8,1426.8 1323.4,1420.8 C1326.0,1414.8 1326.5,1407.3 1327.6,1401.1 C1328.8,1394.9 1329.3,1386.5 1330.2,1383.6 C1331.1,1380.7 1332.1,1380.7 1333.0,1383.6 C1333.9,1386.5 1334.4,1394.9 1335.6,1401.1 C1336.7,1407.3 1337.2,1414.8 1339.8,1420.8 C1342.4,1426.8 1346.2,1432.5 1351.0,1437.2 C1355.7,1441.9 1361.2,1445.6 1368.4,1449.2 C1375.5,1452.8 1379.1,1455.0 1393.7,1459.0 C1408.3,1463.0 1435.1,1469.1 1455.8,1473.2 C1476.5,1477.3 1507.5,1481.8 1517.9,1483.5" fill="none" stroke="#DC6357" stroke-width="2.8" stroke-linejoin="round"/>
<rect x="1144.5" y="1244.8" width="373.7" height="309.9" fill="none" stroke="#000" stroke-width="1.6"/>
<path d="M1207.4,1554.7 v-5.5 M1269.5,1554.7 v-5.5 M1331.6,1554.7 v-5.5 M1393.7,1554.7 v-5.5 M1455.8,1554.7 v-5.5 M1144.5,1267.4 h5.5 M1144.5,1333.9 h5.5 M1144.5,1400.4 h5.5 M1144.5,1466.9 h5.5 M1144.5,1533.4 h5.5" stroke="#000" stroke-width="1.5" fill="none"/>
<text x="1136.0" y="1281.9" font-size="35" text-anchor="end" fill="#000">10<tspan font-size="23" dy="-14">6</tspan></text>
<text x="1136.0" y="1348.4" font-size="35" text-anchor="end" fill="#000">10<tspan font-size="23" dy="-14">3</tspan></text>
<text x="1136.0" y="1414.9" font-size="35" text-anchor="end" fill="#000">10<tspan font-size="23" dy="-14">0</tspan></text>
<text x="1136.0" y="1481.4" font-size="35" text-anchor="end" fill="#000">10<tspan font-size="23" dy="-14">-3</tspan></text>
<text x="1136.0" y="1547.9" font-size="35" text-anchor="end" fill="#000">10<tspan font-size="23" dy="-14">-6</tspan></text>
<text x="1145.3" y="1588.7" font-size="35" text-anchor="middle">-75</text>
<text x="1207.4" y="1588.7" font-size="35" text-anchor="middle">-50</text>
<text x="1269.5" y="1588.7" font-size="35" text-anchor="middle">-25</text>
<text x="1331.6" y="1588.7" font-size="35" text-anchor="middle">0</text>
<text x="1393.7" y="1588.7" font-size="35" text-anchor="middle">+25</text>
<text x="1455.8" y="1588.7" font-size="35" text-anchor="middle">+50</text>
<text x="1517.9" y="1588.7" font-size="35" text-anchor="middle">+75</text>
<text x="1314.2" y="1617" font-size="48.5" font-style="italic">ν<tspan x="1329.3" font-size="29" dy="11">yx</tspan></text>
<text transform="translate(1061.1,1447.6) rotate(-90)" font-size="44" font-style="italic"><tspan x="0.6">E</tspan><tspan x="28.9" font-size="28" dy="11.8">y</tspan><tspan x="40" dy="-11.8" font-style="normal">/</tspan><tspan x="53.2">E</tspan><tspan x="79.2" font-size="28" dy="12.1">x</tspan></text>
<circle cx="1352.1" cy="1276.5" r="15.6" fill="none" stroke="#000" stroke-width="2.1"/>
<text x="1352.1" y="1286.1" font-size="28" font-weight="bold" text-anchor="middle">3</text>
<circle cx="1497.4" cy="1471" r="15.6" fill="none" stroke="#000" stroke-width="2.1"/>
<text x="1497.4" y="1480.6" font-size="28" font-weight="bold" text-anchor="middle">4</text>
<circle cx="1556.3" cy="1340.5" r="15.6" fill="none" stroke="#000" stroke-width="2.1"/>
<text x="1556.3" y="1350.1" font-size="28" font-weight="bold" text-anchor="middle">3</text>
<circle cx="1556.3" cy="1517.8" r="15.6" fill="none" stroke="#000" stroke-width="2.1"/>
<text x="1556.3" y="1527.4" font-size="28" font-weight="bold" text-anchor="middle">4</text>
<g><path d="M1617.3,1270.0 L1651.1,1335.0 M1651.1,1270.0 L1651.1,1408.8 M1651.1,1270.0 L1686.7,1270.0 L1651.1,1335.0 M1651.1,1270.0 L1660.7,1290.8 L1656.4,1324.6 L1651.1,1335.0 M1686.7,1270.0 L1660.7,1290.8 M1617.3,1339.4 L1651.1,1339.4 M1617.3,1339.4 L1651.1,1408.8 M1617.3,1339.4 L1642.5,1363.7 L1648.5,1388.8 L1651.1,1408.8 M1642.5,1363.7 L1651.1,1342.0 M1686.2,1339.4 L1651.1,1408.8" fill="none" stroke="#5FB0D6" stroke-width="5.5" stroke-linecap="round" stroke-linejoin="round"/><path d="M1617.3,1270.0 L1651.1,1335.0 M1651.1,1270.0 L1651.1,1408.8 M1651.1,1270.0 L1686.7,1270.0 L1651.1,1335.0 M1651.1,1270.0 L1660.7,1290.8 L1656.4,1324.6 L1651.1,1335.0 M1686.7,1270.0 L1660.7,1290.8 M1617.3,1339.4 L1651.1,1339.4 M1617.3,1339.4 L1651.1,1408.8 M1617.3,1339.4 L1642.5,1363.7 L1648.5,1388.8 L1651.1,1408.8 M1642.5,1363.7 L1651.1,1342.0 M1686.2,1339.4 L1651.1,1408.8" fill="none" stroke="#7CC8EA" stroke-width="4.0" stroke-linecap="round" stroke-linejoin="round"/></g>
<g><path d="M1586.1,1475.6 L1586.1,1538.9 M1718.0,1475.6 L1718.0,1538.9 M1586.1,1475.6 L1651.1,1492.1 L1718.0,1475.6 M1586.1,1508.6 L1651.1,1492.1 L1718.0,1508.6 M1586.1,1508.6 L1651.1,1523.3 L1718.0,1508.6 M1586.1,1538.9 L1651.1,1523.3 L1718.0,1538.9 M1602.6,1443.5 L1651.1,1492.1 M1602.6,1443.5 L1623.4,1481.7 M1700.6,1443.5 L1651.1,1492.1 M1700.6,1443.5 L1680.7,1481.7 M1602.6,1575.4 L1651.1,1523.3 M1602.6,1575.4 L1623.4,1532.9 M1700.6,1575.4 L1651.1,1523.3 M1700.6,1575.4 L1680.7,1532.9" fill="none" stroke="#5FB0D6" stroke-width="5.5" stroke-linecap="round" stroke-linejoin="round"/><path d="M1586.1,1475.6 L1586.1,1538.9 M1718.0,1475.6 L1718.0,1538.9 M1586.1,1475.6 L1651.1,1492.1 L1718.0,1475.6 M1586.1,1508.6 L1651.1,1492.1 L1718.0,1508.6 M1586.1,1508.6 L1651.1,1523.3 L1718.0,1508.6 M1586.1,1538.9 L1651.1,1523.3 L1718.0,1538.9 M1602.6,1443.5 L1651.1,1492.1 M1602.6,1443.5 L1623.4,1481.7 M1700.6,1443.5 L1651.1,1492.1 M1700.6,1443.5 L1680.7,1481.7 M1602.6,1575.4 L1651.1,1523.3 M1602.6,1575.4 L1623.4,1532.9 M1700.6,1575.4 L1651.1,1523.3 M1700.6,1575.4 L1680.7,1532.9" fill="none" stroke="#7CC8EA" stroke-width="4.0" stroke-linecap="round" stroke-linejoin="round"/></g>
<text x="1740.3" y="1311" font-size="32" textLength="231" lengthAdjust="spacingAndGlyphs"><tspan font-style="italic">E</tspan><tspan font-style="italic" font-size="22" dy="7">y</tspan><tspan dy="-7"> </tspan><tspan font-style="italic">/E</tspan><tspan font-style="italic" font-size="22" dy="7">x</tspan><tspan dy="-7"> </tspan>= 1.02×10<tspan font-size="21" dy="-13">6</tspan></text>
<text x="1740.3" y="1362" font-size="32" textLength="226" lengthAdjust="spacingAndGlyphs"><tspan font-style="italic" font-size="34">ν</tspan><tspan font-style="italic" font-size="22" dy="7">yx</tspan><tspan dy="-7"> </tspan>= +9.88×10<tspan font-size="21" dy="-13">-8</tspan></text>
<text x="1740.3" y="1491" font-size="32" textLength="237" lengthAdjust="spacingAndGlyphs"><tspan font-style="italic">E</tspan><tspan font-style="italic" font-size="22" dy="7">y</tspan><tspan dy="-7"> </tspan><tspan font-style="italic">/E</tspan><tspan font-style="italic" font-size="22" dy="7">x</tspan><tspan dy="-7"> </tspan>= 1.82×10<tspan font-size="21" dy="-13">-4</tspan></text>
<text x="1740.3" y="1536.6" font-size="32" textLength="175" lengthAdjust="spacingAndGlyphs"><tspan font-style="italic" font-size="34">ν</tspan><tspan font-style="italic" font-size="22" dy="7">xy</tspan><tspan dy="-7"> </tspan>= +69.602</text>
<polygon points="204.8,1739.2 291.1,1742.5 366.5,1747.9 422.3,1754.5 466.0,1763.0 494.4,1774.0 511.9,1787.0 522.8,1804.5 527.2,1821.1 528.3,1840.8 528.3,1943.5 522.0,1945.0 500.0,1946.0 480.0,1944.0 455.0,1948.0 430.0,1946.5 405.0,1949.0 380.0,1947.5 355.0,1950.0 330.0,1948.5 305.0,1952.0 280.0,1951.0 255.0,1954.0 230.0,1953.0 215.0,1958.0 204.8,1969.7" fill="#5DAAE0"/>
<path d="M295.4 1836.8h0M270.8 1823.8h0M432.0 1824.9h0M398.5 1824.9h0M320.6 1814.5h0M457.0 1828.1h0M293.9 1831.4h0M292.0 1815.0h0M424.5 1828.6h0M436.0 1821.4h0M304.6 1828.4h0M350.3 1828.7h0M405.9 1837.6h0M365.0 1836.4h0M331.0 1838.5h0M473.4 1824.8h0M367.3 1816.8h0M309.0 1817.6h0M312.7 1840.4h0M372.5 1834.4h0M400.3 1836.7h0M446.9 1832.1h0M257.1 1830.9h0M335.1 1807.2h0M339.6 1824.4h0M354.1 1817.6h0M389.1 1828.0h0M280.6 1832.8h0M412.3 1823.1h0M461.5 1822.5h0M319.2 1832.2h0M381.0 1824.5h0M373.6 1825.9h0M402.9 1818.1h0M394.3 1811.0h0M272.3 1817.8h0M298.6 1822.4h0M371.8 1818.2h0M309.7 1829.2h0M258.3 1820.0h0M348.5 1824.5h0M427.7 1829.9h0M332.3 1824.8h0M377.7 1828.0h0M349.1 1831.7h0M335.7 1815.5h0M399.7 1830.5h0M273.9 1826.6h0M308.7 1829.6h0M383.9 1826.5h0M331.9 1811.3h0M354.0 1816.2h0M365.3 1821.7h0M365.9 1823.3h0M304.0 1820.6h0M283.0 1833.3h0M368.9 1815.5h0M342.4 1824.5h0M366.7 1826.6h0M319.9 1829.8h0M377.0 1831.7h0M385.7 1827.6h0M225.5 1825.4h0M311.8 1814.5h0M430.8 1827.7h0M479.6 1822.4h0M409.2 1827.9h0M358.0 1831.1h0M383.2 1831.0h0M399.8 1831.0h0M477.8 1821.6h0M380.1 1809.8h0M361.1 1836.2h0M351.4 1833.0h0M451.4 1829.3h0M329.4 1829.5h0M303.1 1825.2h0M408.3 1847.5h0M336.2 1822.3h0M430.1 1838.1h0M396.4 1825.7h0M308.4 1823.9h0M401.6 1836.0h0M335.6 1836.9h0M300.6 1819.0h0M339.2 1827.5h0M376.9 1825.4h0M396.1 1832.6h0M427.9 1821.8h0M347.7 1828.9h0M367.8 1837.2h0M492.1 1816.2h0M356.3 1828.9h0M354.8 1824.9h0M249.3 1824.9h0M355.0 1831.7h0M368.8 1836.1h0M323.0 1821.9h0M384.5 1817.2h0M348.3 1826.6h0M306.9 1828.0h0M423.2 1839.7h0M385.6 1821.0h0M391.7 1839.0h0M227.7 1825.7h0M439.4 1821.2h0M322.9 1834.4h0M263.1 1817.4h0M342.7 1834.0h0M293.0 1836.7h0M342.5 1833.6h0M476.8 1828.4h0M442.4 1843.7h0M369.6 1826.5h0M330.8 1832.7h0M482.5 1815.1h0M403.5 1832.2h0M360.4 1836.8h0M372.6 1832.2h0M249.3 1827.0h0M440.8 1823.1h0M355.8 1820.4h0M298.4 1830.4h0M363.7 1830.6h0M440.2 1826.8h0M302.2 1822.7h0M304.2 1814.8h0M355.1 1837.4h0M370.9 1820.3h0M373.9 1821.9h0M360.6 1832.3h0M310.7 1822.3h0M248.6 1828.4h0M414.6 1835.4h0M379.2 1826.9h0M396.4 1822.5h0M376.2 1805.2h0M285.0 1814.5h0M456.4 1824.1h0M411.0 1814.8h0M393.4 1820.5h0M341.1 1813.7h0M372.8 1822.9h0M272.2 1839.5h0M374.7 1813.3h0M243.6 1829.4h0M335.9 1829.5h0M418.7 1833.4h0M386.9 1829.0h0M356.3 1824.5h0M330.1 1818.4h0M290.7 1814.9h0M300.1 1837.2h0M238.2 1825.5h0M393.8 1834.5h0M439.7 1823.7h0M319.2 1825.7h0M347.1 1830.3h0M297.6 1831.3h0M364.6 1827.3h0M298.8 1820.1h0M337.7 1828.2h0M399.3 1829.6h0M379.2 1823.3h0M379.0 1827.9h0M432.0 1829.4h0M252.7 1821.9h0M384.1 1820.8h0M259.7 1830.5h0M287.0 1829.0h0M374.1 1826.3h0M336.6 1829.9h0M317.4 1828.0h0M322.7 1823.7h0M426.6 1839.7h0M410.9 1818.8h0M318.2 1833.1h0M402.0 1819.4h0M288.6 1850.1h0M350.0 1829.1h0M429.9 1826.1h0M343.1 1819.9h0M394.5 1825.9h0M287.0 1848.3h0M405.9 1830.4h0M268.4 1827.2h0M339.7 1824.8h0M319.1 1821.0h0M380.4 1817.4h0M309.2 1819.5h0M319.2 1830.0h0M367.3 1815.8h0M351.9 1819.2h0M258.3 1828.2h0M318.4 1827.8h0M279.5 1827.3h0M338.0 1822.1h0M403.1 1833.0h0M394.0 1822.2h0M388.7 1820.7h0M341.5 1820.5h0M403.6 1819.8h0M374.3 1823.9h0M291.9 1820.7h0M363.9 1826.8h0M295.1 1831.3h0M299.2 1830.8h0M399.9 1829.7h0M310.0 1817.8h0M321.0 1838.1h0M371.9 1826.4h0M357.2 1826.7h0M360.0 1823.5h0M250.7 1822.7h0M369.5 1810.8h0M392.1 1836.0h0M331.3 1825.1h0M373.2 1822.3h0M298.9 1826.9h0M351.5 1829.5h0M343.5 1826.2h0M398.3 1825.0h0M393.6 1834.6h0M235.9 1823.6h0M375.1 1843.1h0M352.4 1819.2h0M303.2 1807.2h0M462.0 1821.9h0M346.5 1826.3h0M346.6 1831.6h0M385.0 1820.8h0M349.8 1812.9h0M279.9 1830.9h0M402.1 1816.7h0M246.6 1824.6h0M337.4 1816.3h0M429.6 1813.4h0M272.8 1842.2h0M271.5 1829.0h0M469.3 1831.3h0M447.6 1842.4h0M361.6 1825.6h0M356.6 1828.4h0M306.9 1816.2h0M420.5 1831.7h0M324.1 1827.3h0M364.7 1829.6h0M330.0 1820.0h0M349.8 1825.2h0M343.0 1813.9h0M225.2 1824.8h0M470.9 1817.0h0M489.7 1825.8h0M452.9 1830.9h0M347.1 1844.0h0M437.2 1821.6h0M311.3 1820.2h0M326.3 1831.8h0M384.6 1814.9h0M302.9 1835.3h0M356.7 1820.8h0M416.6 1839.7h0M386.6 1829.9h0M366.3 1820.5h0M316.7 1808.7h0M292.5 1824.2h0M390.9 1844.2h0M369.3 1818.8h0M242.1 1821.7h0M310.4 1829.0h0M249.9 1824.0h0M359.5 1821.6h0M242.1 1827.2h0M280.0 1807.2h0M335.2 1817.8h0M379.4 1833.9h0M344.0 1818.8h0M353.4 1826.0h0M371.6 1823.1h0M313.4 1825.7h0M342.5 1823.8h0M413.1 1833.5h0M338.5 1824.4h0M297.1 1815.2h0M339.9 1817.1h0M420.7 1831.3h0M303.9 1830.1h0M379.5 1826.9h0M290.4 1823.1h0M324.6 1824.0h0M360.8 1828.7h0M371.7 1819.9h0M364.4 1840.6h0M407.1 1832.3h0M454.9 1816.1h0M411.2 1828.8h0M346.1 1837.1h0M411.6 1818.6h0M367.7 1821.5h0M392.5 1834.8h0M301.8 1819.7h0M397.2 1847.9h0M386.8 1816.2h0M375.4 1813.3h0M314.2 1823.0h0M304.3 1815.9h0M356.0 1828.2h0M309.7 1824.6h0M431.8 1811.3h0M252.8 1837.3h0M432.2 1830.6h0M374.1 1824.9h0M304.8 1834.9h0M336.2 1820.7h0M406.0 1827.5h0M391.1 1823.0h0M369.7 1843.7h0M278.5 1824.6h0M351.2 1830.7h0M256.4 1821.0h0M386.4 1835.7h0M278.4 1823.9h0M327.3 1838.1h0M409.8 1840.1h0M386.6 1819.2h0M356.9 1835.1h0M318.9 1815.1h0M289.6 1816.4h0M295.9 1824.8h0M399.8 1826.1h0M254.3 1821.8h0M426.3 1820.8h0M312.2 1823.1h0M379.8 1819.6h0M344.9 1818.3h0M413.0 1832.6h0M360.7 1826.6h0M293.4 1820.4h0M289.8 1841.6h0M437.8 1810.3h0M320.3 1841.9h0M317.0 1830.3h0M355.5 1842.1h0M364.8 1833.8h0M363.1 1823.6h0M432.3 1820.1h0M300.3 1823.7h0M401.5 1844.9h0M368.4 1835.7h0M350.8 1830.8h0M265.9 1824.4h0M384.8 1828.7h0M325.3 1824.7h0M313.8 1821.4h0M449.5 1833.9h0M343.3 1844.2h0M397.6 1816.6h0M407.4 1823.3h0M351.6 1818.0h0M323.0 1832.0h0M378.9 1821.9h0M324.5 1809.6h0M317.6 1810.9h0M278.7 1818.6h0M334.8 1841.5h0M302.9 1838.6h0M299.1 1814.1h0M425.8 1822.3h0M353.3 1831.5h0M286.8 1814.4h0M364.5 1833.2h0M333.1 1816.8h0M437.5 1830.2h0M439.2 1831.7h0M425.1 1827.2h0M321.5 1824.3h0M333.8 1829.3h0M490.3 1809.7h0M471.6 1822.1h0M259.6 1815.2h0M404.4 1825.8h0M442.8 1830.2h0M291.7 1832.2h0M322.0 1833.5h0M346.5 1826.1h0M380.0 1822.9h0M387.1 1839.3h0M405.3 1833.1h0M436.6 1824.5h0M331.7 1826.9h0M351.8 1809.1h0M349.5 1819.8h0M263.1 1813.2h0M367.2 1841.0h0M465.2 1823.5h0M376.8 1838.4h0M385.8 1816.5h0M472.1 1830.9h0M384.3 1818.1h0M358.1 1835.1h0M468.5 1814.6h0M459.0 1823.6h0M328.9 1824.3h0M329.8 1828.2h0M254.4 1814.4h0M437.4 1806.3h0M390.5 1827.3h0M350.3 1819.2h0M392.5 1828.5h0M308.6 1830.4h0M418.6 1816.3h0M415.9 1823.2h0M413.5 1807.4h0M435.4 1821.8h0M443.1 1831.8h0M269.5 1819.1h0M403.6 1817.8h0M281.2 1821.8h0M318.2 1827.0h0M478.5 1828.5h0M374.0 1825.1h0M278.8 1820.9h0M311.9 1812.5h0M309.7 1826.6h0M379.2 1832.0h0M410.6 1828.3h0M382.1 1824.1h0M372.1 1832.8h0M334.9 1821.0h0M338.7 1821.5h0M383.1 1840.2h0M472.9 1813.3h0M395.1 1831.2h0M381.4 1830.5h0M384.9 1818.5h0M315.4 1840.8h0M234.6 1834.9h0M355.9 1833.7h0M272.9 1822.3h0M425.8 1815.3h0M391.8 1832.3h0M361.2 1806.2h0M294.5 1835.2h0M377.2 1845.1h0M264.3 1839.8h0M238.2 1822.4h0M434.3 1850.2h0M333.9 1826.6h0M310.4 1831.3h0M433.1 1814.6h0M328.0 1836.6h0M409.5 1827.7h0M354.2 1818.9h0M353.0 1826.3h0M317.5 1839.2h0M330.2 1823.3h0M317.1 1826.9h0M376.1 1824.8h0M353.3 1832.1h0M441.6 1820.7h0M409.6 1810.4h0M406.3 1831.7h0M432.6 1835.0h0M246.4 1829.5h0M277.6 1810.0h0M354.0 1821.4h0M369.3 1831.4h0M357.6 1836.6h0M290.2 1819.5h0M359.5 1838.3h0M402.9 1814.6h0M429.5 1824.8h0M453.0 1833.3h0M457.6 1829.4h0M319.5 1813.4h0M308.8 1823.7h0M282.8 1825.4h0M319.3 1837.2h0M365.7 1826.3h0M357.4 1814.9h0M315.7 1832.2h0M331.4 1831.2h0M284.8 1837.4h0M231.7 1818.5h0M347.1 1819.2h0M270.0 1820.1h0M412.8 1833.3h0M377.1 1823.6h0M251.3 1827.0h0M251.4 1819.4h0M322.5 1823.7h0M461.8 1820.9h0M430.3 1807.4h0M252.7 1817.3h0M408.8 1825.1h0M267.9 1806.4h0M362.9 1820.1h0M317.8 1827.6h0M328.0 1835.2h0M262.3 1830.3h0M275.7 1815.9h0M323.2 1824.3h0M366.1 1828.8h0M411.6 1829.6h0M417.1 1835.2h0M392.8 1819.0h0M332.9 1806.8h0M440.5 1820.3h0M349.5 1842.5h0M331.2 1812.6h0M354.5 1830.7h0M342.8 1830.1h0M393.8 1823.0h0M252.8 1825.1h0M338.3 1825.1h0M345.4 1825.6h0M346.3 1817.4h0M321.3 1807.8h0M302.1 1826.5h0M385.7 1840.4h0M392.4 1809.7h0M374.4 1820.0h0M368.8 1834.8h0M374.0 1818.4h0M359.1 1820.7h0M305.3 1827.6h0M367.6 1818.9h0M384.7 1822.4h0M388.2 1832.6h0M307.1 1831.0h0M403.1 1816.2h0M317.1 1820.6h0M399.7 1832.8h0M366.9 1816.4h0M341.3 1823.4h0M423.4 1812.5h0M355.8 1827.2h0M385.0 1829.1h0M472.5 1836.4h0M411.5 1822.0h0M444.5 1818.6h0M332.2 1834.1h0M452.7 1831.5h0M370.6 1834.6h0M431.8 1837.3h0M276.0 1832.4h0M409.9 1836.6h0M398.8 1832.4h0M298.4 1844.8h0M308.6 1831.3h0M321.4 1840.3h0M438.4 1839.6h0M400.6 1824.8h0M339.1 1822.9h0M329.3 1822.9h0M385.3 1824.2h0M323.6 1821.5h0M367.8 1826.3h0M406.0 1813.1h0M418.5 1830.1h0M387.8 1828.4h0M314.7 1827.4h0M371.8 1839.7h0M318.6 1825.2h0M291.1 1825.2h0M371.8 1812.4h0M436.9 1821.7h0M399.9 1825.4h0M383.3 1831.6h0M280.4 1824.8h0M310.8 1830.4h0M395.6 1814.5h0M356.2 1826.8h0M396.4 1834.8h0M385.0 1825.1h0M343.9 1837.7h0M394.6 1842.5h0M363.5 1819.0h0M348.9 1827.0h0M377.8 1838.0h0M337.6 1831.9h0M317.7 1822.7h0M460.9 1828.4h0M420.7 1826.8h0M328.6 1828.9h0M371.8 1828.2h0M312.5 1829.2h0M411.6 1818.6h0M332.3 1832.2h0M342.2 1834.5h0M438.7 1812.8h0M480.2 1834.0h0M420.1 1845.7h0M352.1 1828.8h0M316.8 1829.5h0M414.8 1821.5h0M308.9 1830.2h0M387.6 1818.4h0M463.2 1824.5h0M381.5 1828.9h0M356.1 1830.4h0M384.0 1821.5h0M358.5 1807.6h0M306.5 1827.8h0M326.1 1832.8h0M310.6 1810.3h0M366.7 1820.5h0M438.1 1838.9h0M426.0 1834.5h0M398.3 1842.0h0M451.7 1845.2h0M311.5 1827.7h0M415.2 1826.6h0M342.5 1822.8h0M430.6 1834.3h0M363.4 1836.7h0M419.2 1828.2h0M359.4 1838.7h0M404.8 1828.9h0M388.6 1817.2h0M322.5 1829.7h0M329.2 1825.1h0M355.7 1827.0h0M371.6 1814.5h0M401.9 1826.2h0M354.6 1819.2h0M298.7 1837.1h0M399.8 1835.3h0M383.7 1826.7h0M383.4 1845.8h0M445.5 1823.3h0M435.3 1822.7h0M386.5 1826.7h0M364.6 1833.9h0M345.3 1828.3h0M329.1 1811.3h0M275.3 1827.7h0M420.0 1830.1h0M372.9 1818.5h0M341.8 1837.6h0M381.4 1818.5h0M329.3 1825.9h0M371.6 1819.8h0M376.9 1831.0h0M263.2 1833.3h0M335.1 1829.1h0M322.9 1827.3h0M385.5 1844.3h0M365.7 1824.2h0M424.1 1832.2h0M311.2 1825.5h0M416.6 1833.2h0M431.9 1821.5h0M326.9 1832.3h0M382.5 1829.7h0M263.1 1828.9h0M483.7 1826.8h0M365.1 1832.5h0M396.6 1820.8h0M344.0 1826.8h0M344.4 1833.1h0M454.5 1842.2h0M378.7 1819.9h0M366.1 1826.2h0M398.3 1822.4h0M423.2 1829.6h0M346.8 1825.4h0M340.3 1822.1h0M407.2 1812.9h0M342.1 1819.3h0M402.6 1825.6h0M389.2 1839.5h0M420.7 1828.5h0M303.4 1823.9h0M291.0 1827.4h0M341.7 1829.4h0M475.8 1817.2h0M317.5 1822.3h0M413.0 1832.6h0M423.7 1827.3h0M490.9 1836.9h0M242.8 1821.6h0M320.3 1842.4h0" stroke="#fff" stroke-width="1.4" stroke-linecap="round" fill="none" opacity="0.85"/>
<path d="M288.6 1958.4h0M408.8 1953.2h0M389.1 1957.3h0M508.3 1949.5h0M393.0 1947.6h0M273.8 1946.9h0M489.5 1959.9h0M230.9 1952.1h0M300.0 1957.3h0M525.4 1950.3h0M244.1 1949.5h0M321.1 1946.8h0M402.3 1959.0h0M226.9 1960.7h0M495.1 1954.9h0M301.0 1951.2h0M287.2 1953.1h0M450.6 1953.3h0M317.6 1949.5h0M468.9 1958.3h0M446.0 1955.8h0M349.7 1960.6h0M371.2 1949.0h0M292.8 1950.0h0M376.0 1956.4h0M287.3 1956.6h0M475.1 1961.7h0M479.3 1946.1h0M380.9 1959.1h0M227.8 1959.9h0M382.1 1961.7h0M462.7 1959.8h0M421.7 1958.5h0M252.3 1959.0h0M497.2 1953.4h0M254.4 1958.5h0M369.4 1951.8h0M409.2 1946.5h0M415.0 1956.1h0M226.2 1950.0h0M506.8 1956.7h0M512.0 1952.9h0M320.6 1950.3h0M522.2 1958.5h0M243.2 1952.6h0M327.6 1951.1h0M495.6 1954.9h0M358.2 1960.2h0M478.6 1960.6h0M285.7 1958.9h0M329.2 1960.9h0M341.3 1950.0h0M376.8 1951.0h0M412.2 1948.8h0M471.8 1949.1h0M398.1 1959.5h0M288.2 1952.8h0M422.5 1956.5h0M278.7 1946.8h0M515.8 1958.9h0M471.4 1952.5h0M335.2 1946.5h0M411.5 1959.1h0M527.5 1957.8h0M372.0 1953.3h0M335.4 1954.6h0M265.0 1957.6h0M398.2 1947.7h0M383.1 1946.2h0M241.8 1947.4h0M355.7 1954.0h0M225.6 1952.4h0M372.3 1956.2h0M217.4 1959.8h0M441.4 1947.4h0M302.1 1951.6h0M440.1 1950.3h0M395.2 1954.5h0M471.9 1955.5h0M295.4 1960.8h0M485.7 1951.0h0M387.1 1958.2h0M325.3 1955.4h0M248.5 1959.3h0M333.6 1960.8h0M297.6 1949.6h0M310.5 1952.1h0M312.7 1956.8h0M457.8 1956.9h0M492.8 1949.9h0M319.5 1961.5h0M502.5 1959.3h0M310.3 1946.8h0M431.0 1957.4h0M214.6 1958.8h0M292.6 1953.0h0M212.8 1947.2h0M208.1 1955.1h0M331.1 1951.5h0M388.6 1960.2h0M267.8 1952.7h0M275.2 1956.1h0M264.6 1951.3h0M325.0 1949.0h0M297.8 1957.3h0M238.8 1956.1h0M252.1 1946.4h0M381.7 1956.5h0M332.1 1949.4h0M210.5 1959.5h0M245.8 1948.1h0M324.6 1951.2h0M267.8 1958.3h0M298.4 1947.1h0M376.4 1949.6h0M248.3 1956.6h0M280.0 1962.0h0M369.4 1949.7h0M315.7 1957.0h0M278.8 1951.5h0M444.1 1961.3h0M411.9 1948.6h0M286.3 1949.5h0M236.9 1958.8h0M486.7 1955.5h0M307.2 1959.4h0M376.4 1957.4h0M327.9 1956.2h0M242.3 1958.3h0M216.3 1952.6h0M271.4 1954.8h0M450.3 1960.6h0M469.8 1957.4h0M465.1 1958.7h0M272.2 1952.8h0M360.2 1960.3h0M475.5 1961.7h0M372.9 1961.9h0M367.8 1948.8h0M330.2 1961.1h0M334.3 1953.3h0M271.0 1951.6h0M451.0 1960.0h0M247.8 1947.7h0M338.0 1946.5h0M246.2 1946.2h0M443.8 1955.8h0M522.4 1952.6h0M443.7 1948.1h0M218.6 1955.8h0M235.9 1951.2h0M445.9 1950.6h0M419.6 1961.8h0M434.8 1950.2h0M251.3 1948.3h0M382.9 1950.8h0M492.5 1956.4h0M337.1 1956.4h0M506.9 1952.9h0M390.4 1959.9h0M483.9 1953.2h0M261.3 1961.7h0M355.7 1960.7h0M501.3 1962.0h0M368.0 1955.6h0M295.3 1954.8h0M503.8 1957.2h0M228.7 1949.2h0M509.8 1950.8h0M395.5 1950.6h0M494.0 1959.6h0M306.8 1957.7h0M412.2 1947.6h0M295.3 1956.2h0M441.3 1954.7h0M400.1 1950.6h0M280.2 1955.8h0M339.1 1946.5h0M452.8 1960.9h0M516.2 1956.0h0M330.5 1955.4h0M354.1 1957.0h0M349.7 1947.7h0M483.9 1951.2h0M424.4 1951.0h0M259.5 1947.3h0M460.3 1950.9h0M335.1 1949.5h0M386.9 1951.4h0M250.2 1957.4h0M311.7 1956.7h0M346.2 1953.3h0M257.4 1961.1h0M304.1 1950.7h0M469.0 1953.4h0M275.0 1951.6h0M301.0 1955.2h0M505.5 1954.6h0M501.6 1949.4h0M458.8 1956.4h0M402.0 1946.0h0M503.0 1946.8h0M425.1 1946.7h0M205.9 1948.1h0M317.7 1948.5h0M354.5 1950.6h0M327.8 1949.0h0M476.8 1957.5h0M490.2 1953.1h0M321.1 1947.1h0M401.2 1956.4h0M389.1 1959.8h0M413.0 1957.0h0M333.0 1948.0h0M388.8 1960.3h0M299.4 1961.8h0M439.3 1956.6h0M321.7 1958.9h0M527.3 1948.3h0M221.6 1950.0h0M385.6 1952.3h0M446.0 1958.8h0M207.1 1957.7h0M411.1 1949.6h0M439.7 1947.4h0M308.5 1955.3h0M236.1 1956.1h0M313.2 1957.2h0M244.8 1955.9h0M241.4 1952.8h0M258.4 1953.0h0M458.9 1948.8h0M309.7 1957.4h0M299.7 1950.4h0M394.8 1949.3h0M208.4 1958.2h0M317.0 1950.0h0M474.1 1960.7h0M331.4 1953.7h0M395.6 1959.2h0M256.2 1949.0h0M482.7 1956.0h0M432.5 1951.1h0M260.1 1959.2h0M458.4 1958.7h0M244.6 1959.9h0M327.6 1957.5h0M428.0 1957.6h0M368.5 1949.5h0M451.4 1947.1h0M455.3 1950.7h0M365.2 1953.1h0M453.0 1957.0h0M265.9 1960.9h0M450.9 1950.8h0M511.8 1947.8h0M369.6 1960.3h0M269.9 1959.6h0M508.4 1954.4h0M465.4 1956.3h0M465.2 1956.3h0M309.7 1960.5h0M231.5 1960.9h0M495.2 1952.7h0M298.7 1952.2h0M279.2 1949.8h0M371.1 1955.4h0M452.8 1955.1h0M377.7 1956.3h0M339.8 1959.4h0M526.7 1956.4h0M267.5 1953.0h0M332.2 1961.4h0M312.2 1951.7h0M270.4 1956.0h0M493.7 1956.2h0M263.0 1957.7h0M521.6 1961.1h0M400.3 1950.7h0M276.2 1956.2h0M369.1 1955.8h0M445.1 1948.3h0M339.8 1956.0h0M523.0 1961.3h0M407.2 1954.2h0M398.3 1958.5h0M413.0 1958.6h0M348.1 1955.3h0M408.7 1955.0h0M319.4 1955.6h0M515.9 1959.1h0M297.6 1949.3h0M421.2 1950.8h0M517.7 1946.2h0M485.7 1949.0h0M443.2 1956.8h0M280.3 1953.4h0M525.0 1948.6h0M379.1 1951.9h0M388.2 1946.9h0M440.3 1949.5h0M430.1 1949.3h0M359.5 1958.8h0M319.5 1960.5h0M420.9 1951.7h0M276.2 1951.6h0M450.0 1949.0h0M415.3 1952.2h0M334.7 1959.5h0M413.2 1949.3h0M503.8 1956.1h0M357.4 1957.3h0M453.0 1960.9h0M322.6 1947.4h0M255.3 1954.7h0M309.6 1949.1h0M280.3 1957.4h0M438.6 1948.1h0M361.1 1954.5h0M281.0 1956.4h0M452.9 1958.8h0M414.1 1953.0h0M309.8 1960.6h0M388.3 1960.8h0M492.7 1954.6h0M215.8 1948.2h0M278.2 1954.0h0M390.8 1947.0h0M222.1 1947.9h0M524.7 1961.9h0M520.6 1953.8h0M371.0 1948.2h0M259.3 1958.4h0M437.3 1948.9h0M239.7 1957.9h0M330.8 1961.0h0M455.4 1949.7h0M370.7 1946.2h0M287.5 1952.2h0M434.8 1960.8h0M478.1 1955.1h0M253.7 1951.4h0M315.3 1956.8h0M425.2 1946.6h0M322.0 1954.7h0M337.5 1957.8h0M517.3 1950.0h0M443.2 1946.9h0M312.4 1958.3h0M396.7 1954.1h0M404.4 1956.2h0M437.1 1955.5h0M332.4 1950.8h0M484.3 1960.2h0M292.6 1953.4h0M435.7 1959.2h0M460.8 1955.5h0M345.2 1946.6h0M257.0 1958.2h0M455.5 1956.1h0M513.2 1948.5h0M232.3 1959.3h0M349.5 1955.4h0M360.3 1959.4h0M293.8 1956.0h0M505.7 1955.5h0M465.6 1946.7h0M404.4 1952.2h0M250.1 1961.6h0M445.3 1953.0h0M302.9 1955.4h0M348.1 1947.6h0M497.6 1951.6h0M213.0 1957.2h0M336.0 1949.7h0M430.5 1948.0h0M212.4 1958.0h0M249.4 1951.5h0M446.6 1960.2h0M482.6 1951.5h0M494.8 1954.6h0M409.6 1946.0h0M364.3 1956.2h0M219.6 1947.2h0M373.9 1955.5h0M346.0 1952.6h0M519.3 1949.6h0M468.9 1946.2h0M390.4 1951.0h0M224.0 1954.1h0M377.4 1953.3h0M414.8 1960.0h0M307.3 1955.8h0M302.5 1956.1h0M503.7 1956.7h0M445.3 1946.7h0M295.2 1959.5h0M372.7 1948.3h0M356.0 1961.5h0M436.1 1947.0h0" stroke="#5DAAE0" stroke-width="1.6" stroke-linecap="round" fill="none"/>
<line x1="528.6" y1="1943" x2="528.6" y2="1980" stroke="#5DAAE0" stroke-width="1"/>
<path d="M204.8,1736.6 C219.2,1737.4 264.2,1739.7 291.1,1741.4 C318.1,1743.1 344.6,1744.8 366.5,1746.8 C388.4,1748.8 405.7,1750.9 422.3,1753.4 C438.9,1756.0 454.0,1758.8 466.0,1762.1 C478.0,1765.4 486.8,1769.0 494.4,1773.0 C502.0,1777.0 507.2,1781.1 511.9,1786.2 C516.6,1791.3 520.2,1797.8 522.8,1803.6 C525.3,1809.4 526.3,1814.9 527.2,1821.1 C528.1,1827.3 528.1,1837.5 528.3,1840.8" fill="none" stroke="#DC6357" stroke-width="2.7" stroke-linejoin="round"/>
<rect x="172.7" y="1698.3" width="387.7" height="283.5" fill="none" stroke="#000" stroke-width="1.6"/>
<path d="M204.8,1981.8 v-5.5 M366.6,1981.8 v-5.5 M528.3,1981.8 v-5.5 M172.7,1768.8 h5.5 M172.7,1839.8 h5.5 M172.7,1910.8 h5.5" stroke="#000" stroke-width="1.5" fill="none"/>
<text x="166.2" y="1712.3" font-size="35" text-anchor="end" fill="#000">10<tspan font-size="23" dy="-14">-1</tspan></text>
<text x="166.2" y="1783.3" font-size="35" text-anchor="end" fill="#000">10<tspan font-size="23" dy="-14">-3</tspan></text>
<text x="166.2" y="1854.3" font-size="35" text-anchor="end" fill="#000">10<tspan font-size="23" dy="-14">-5</tspan></text>
<text x="166.2" y="1925.3" font-size="35" text-anchor="end" fill="#000">10<tspan font-size="23" dy="-14">-7</tspan></text>
<text x="166.2" y="1996.3" font-size="35" text-anchor="end" fill="#000">10<tspan font-size="23" dy="-14">-9</tspan></text>
<text x="204.8" y="2014.5" font-size="35" text-anchor="middle">0.0</text>
<text x="366.6" y="2014.5" font-size="35" text-anchor="middle">0.5</text>
<text x="528.3" y="2014.5" font-size="35" text-anchor="middle">1.0</text>
<text x="315.4" y="2044" font-size="44" font-style="italic">ν<tspan x="333" font-size="29" dy="11.5">xy</tspan><tspan x="380.4" dy="-11.5">ν</tspan><tspan x="397.1" font-size="29" dy="11.5">yx</tspan></text><circle cx="366.2" cy="2030.5" r="2.1"/>
<text transform="translate(86.8,1859.5) rotate(-90)" font-size="40.5" font-style="italic"><tspan x="0.6">E</tspan><tspan x="25.6" font-size="27" dy="11.5">y</tspan></text>
<circle cx="204.8" cy="1722.8" r="15.6" fill="none" stroke="#000" stroke-width="2.1"/>
<text x="204.8" y="1732.4" font-size="28" font-weight="bold" text-anchor="middle">5</text>
<circle cx="544.6" cy="1969.7" r="15.6" fill="none" stroke="#000" stroke-width="2.1"/>
<text x="544.6" y="1979.3" font-size="28" font-weight="bold" text-anchor="middle">6</text>
<circle cx="593" cy="1760.9" r="15.6" fill="none" stroke="#000" stroke-width="2.1"/>
<text x="593" y="1770.5" font-size="28" font-weight="bold" text-anchor="middle">5</text>
<circle cx="593" cy="1950.3" r="15.6" fill="none" stroke="#000" stroke-width="2.1"/>
<text x="593" y="1959.9" font-size="28" font-weight="bold" text-anchor="middle">6</text>
<g><path d="M730.8,1699.3 L730.8,1716.9 L661.3,1716.9 L661.3,1786.8 L730.8,1786.8 L730.8,1839.1" fill="none" stroke="#5FB0D6" stroke-width="5.5" stroke-linecap="round" stroke-linejoin="round"/><path d="M730.8,1699.3 L730.8,1716.9 L661.3,1716.9 L661.3,1786.8 L730.8,1786.8 L730.8,1839.1" fill="none" stroke="#7CC8EA" stroke-width="4.0" stroke-linecap="round" stroke-linejoin="round"/></g>
<g><path d="M635.2,1876.1 L768.2,1876.1 M635.2,1892.1 L701.7,1876.9 L768.2,1892.1 M701.7,1876.9 L701.7,1940.9 M635.2,1892.1 L701.7,1940.9 L768.2,1892.1 M653.7,1891.3 L701.7,1940.9 L749.7,1891.3 M635.2,1941.8 L768.2,1941.8 M635.2,1941.8 L701.7,1957.8 L768.2,1941.8 M635.2,1941.8 L635.2,2006.6 M768.2,1941.8 L768.2,2006.6 M635.2,2006.6 L701.7,1957.8 L768.2,2006.6 M635.2,2006.6 L684.0,1957.8 M768.2,2006.6 L719.4,1957.8" fill="none" stroke="#5FB0D6" stroke-width="5.5" stroke-linecap="round" stroke-linejoin="round"/><path d="M635.2,1876.1 L768.2,1876.1 M635.2,1892.1 L701.7,1876.9 L768.2,1892.1 M701.7,1876.9 L701.7,1940.9 M635.2,1892.1 L701.7,1940.9 L768.2,1892.1 M653.7,1891.3 L701.7,1940.9 L749.7,1891.3 M635.2,1941.8 L768.2,1941.8 M635.2,1941.8 L701.7,1957.8 L768.2,1941.8 M635.2,1941.8 L635.2,2006.6 M768.2,1941.8 L768.2,2006.6 M635.2,2006.6 L701.7,1957.8 L768.2,2006.6 M635.2,2006.6 L684.0,1957.8 M768.2,2006.6 L719.4,1957.8" fill="none" stroke="#7CC8EA" stroke-width="4.0" stroke-linecap="round" stroke-linejoin="round"/></g>
<text x="782" y="1731.3" font-size="32" textLength="137" lengthAdjust="spacingAndGlyphs"><tspan font-style="italic">E</tspan><tspan font-style="italic" font-size="22" dy="7">y</tspan><tspan dy="-7"> </tspan>= 0.005</text>
<text x="781" y="1779.3" font-size="32" textLength="137" lengthAdjust="spacingAndGlyphs"><tspan font-style="italic" font-size="34">ν</tspan><tspan font-style="italic" font-size="22" dy="7">xy</tspan><tspan dy="-7"> </tspan>· <tspan font-style="italic" font-size="34">ν</tspan><tspan font-style="italic" font-size="22" dy="7">xy</tspan><tspan dy="-7"> </tspan>= 0</text>
<text x="782" y="1921.8" font-size="32" textLength="191" lengthAdjust="spacingAndGlyphs"><tspan font-style="italic">E</tspan><tspan font-style="italic" font-size="22" dy="7">y</tspan><tspan dy="-7"> </tspan>= 5.64×10<tspan font-size="21" dy="-13">-9</tspan></text>
<text x="781" y="1970.4" font-size="32" textLength="192" lengthAdjust="spacingAndGlyphs"><tspan font-style="italic" font-size="34">ν</tspan><tspan font-style="italic" font-size="22" dy="7">xy</tspan><tspan dy="-7"> </tspan>· <tspan font-style="italic" font-size="34">ν</tspan><tspan font-style="italic" font-size="22" dy="7">xy</tspan><tspan dy="-7"> </tspan>= 0.999</text>
<rect x="1137.9" y="1679.8" width="387.5" height="291.8" fill="none" stroke="#000" stroke-width="2"/>
<path d="M1267.5,1971.6 v-17 M1396.5,1971.6 v-17 M1138.5,1971.6 v-19" stroke="#777" stroke-width="1.4" fill="none"/>
<path d="M1340.7,1956 v15 M1354.5,1956 q3,14 5,14 q3,0 5,-14" stroke="#8a8a8a" stroke-width="3.6" fill="none"/>
<path d="M1137.9,1699.8 h5 M1137.9,1762.5 h5 M1137.9,1825.2 h5 M1137.9,1887.9 h5 M1137.9,1950.6 h5" stroke="#000" stroke-width="1.5"/>
<line x1="1165.9" y1="1700.6" x2="1501.4" y2="1951.9" stroke="#F3A93A" stroke-width="2.3"/>
<text x="1130.5" y="1714.3" font-size="35" text-anchor="end" fill="#000">10<tspan font-size="23" dy="-14">6</tspan></text>
<text x="1130.5" y="1777.0" font-size="35" text-anchor="end" fill="#000">10<tspan font-size="23" dy="-14">3</tspan></text>
<text x="1130.5" y="1839.7" font-size="35" text-anchor="end" fill="#000">10<tspan font-size="23" dy="-14">0</tspan></text>
<text x="1130.5" y="1902.4" font-size="35" text-anchor="end" fill="#000">10<tspan font-size="23" dy="-14">-3</tspan></text>
<text x="1130.5" y="1965.1" font-size="35" text-anchor="end" fill="#000">10<tspan font-size="23" dy="-14">-6</tspan></text>
<text x="1167.0" y="2009.8" font-size="33" text-anchor="middle" fill="#000">10<tspan font-size="22" dy="-13.5">-6</tspan></text>
<text x="1250.0" y="2009.8" font-size="33" text-anchor="middle" fill="#000">10<tspan font-size="22" dy="-13.5">-3</tspan></text>
<text x="1333.0" y="2009.8" font-size="33" text-anchor="middle" fill="#000">10<tspan font-size="22" dy="-13.5">0</tspan></text>
<text x="1415.0" y="2009.8" font-size="33" text-anchor="middle" fill="#000">10<tspan font-size="22" dy="-13.5">3</tspan></text>
<text x="1498.0" y="2009.8" font-size="33" text-anchor="middle" fill="#000">10<tspan font-size="22" dy="-13.5">6</tspan></text>
<text x="1279.5" y="2044" font-size="44" font-style="italic">ν<tspan x="1296" font-size="29" dy="11.5">yx</tspan><tspan x="1341.5" dy="-11.5">ν</tspan><tspan x="1357.4" font-size="29" dy="11.5">xy</tspan></text><line x1="1324.2" y1="2043" x2="1333.8" y2="2015.5" stroke="#000" stroke-width="2"/>
<text transform="translate(1052.1,1869.9) rotate(-90)" font-size="41" font-style="italic"><tspan x="0.6">E</tspan><tspan x="27" font-size="27" dy="11">y</tspan><tspan x="37.5" dy="-11" font-style="normal">/</tspan><tspan x="49.8">E</tspan><tspan x="75.3" font-size="27" dy="12">x</tspan></text>
<circle cx="1163.3" cy="1734" r="15.6" fill="none" stroke="#000" stroke-width="2.1"/>
<text x="1163.3" y="1743.6" font-size="28" font-weight="bold" text-anchor="middle">7</text>
<circle cx="1501.4" cy="1937.7" r="15.6" fill="none" stroke="#000" stroke-width="2.1"/>
<text x="1501.4" y="1947.3" font-size="28" font-weight="bold" text-anchor="middle">8</text>
<circle cx="1556.3" cy="1761.6" r="15.6" fill="none" stroke="#000" stroke-width="2.1"/>
<text x="1556.3" y="1771.2" font-size="28" font-weight="bold" text-anchor="middle">7</text>
<circle cx="1556.3" cy="1950.8" r="15.6" fill="none" stroke="#000" stroke-width="2.1"/>
<text x="1556.3" y="1960.4" font-size="28" font-weight="bold" text-anchor="middle">8</text>
<g><path d="M1617.3,1690.3 L1651.1,1755.3 M1651.1,1690.3 L1651.1,1829.1 M1651.1,1690.3 L1686.7,1690.3 L1651.1,1755.3 M1651.1,1690.3 L1660.7,1711.1 L1656.4,1744.9 L1651.1,1755.3 M1686.7,1690.3 L1660.7,1711.1 M1617.3,1759.7 L1651.1,1759.7 M1617.3,1759.7 L1651.1,1829.1 M1617.3,1759.7 L1642.5,1784.0 L1648.5,1809.1 L1651.1,1829.1 M1642.5,1784.0 L1651.1,1762.3 M1686.2,1759.7 L1651.1,1829.1" fill="none" stroke="#5FB0D6" stroke-width="5.5" stroke-linecap="round" stroke-linejoin="round"/><path d="M1617.3,1690.3 L1651.1,1755.3 M1651.1,1690.3 L1651.1,1829.1 M1651.1,1690.3 L1686.7,1690.3 L1651.1,1755.3 M1651.1,1690.3 L1660.7,1711.1 L1656.4,1744.9 L1651.1,1755.3 M1686.7,1690.3 L1660.7,1711.1 M1617.3,1759.7 L1651.1,1759.7 M1617.3,1759.7 L1651.1,1829.1 M1617.3,1759.7 L1642.5,1784.0 L1648.5,1809.1 L1651.1,1829.1 M1642.5,1784.0 L1651.1,1762.3 M1686.2,1759.7 L1651.1,1829.1" fill="none" stroke="#7CC8EA" stroke-width="4.0" stroke-linecap="round" stroke-linejoin="round"/></g>
<g><path d="M1585.9,1891.3 L1585.9,2007.3 M1718.2,1891.3 L1718.2,2007.3 M1651.6,1875.4 L1602.6,1928.9 L1587.2,1941.1 M1651.6,1875.4 L1700.5,1928.9 L1716.3,1941.1 M1651.6,1875.4 L1651.6,1943.4 M1602.6,1928.9 L1651.6,1943.4 L1700.5,1928.9 M1587.2,1941.1 L1651.6,2008.6 L1716.3,1941.1 M1585.9,2007.3 L1635.2,1995.9 M1718.2,2007.3 L1667.9,1995.9 M1651.6,1957.9 L1651.6,2008.6" fill="none" stroke="#5FB0D6" stroke-width="5.5" stroke-linecap="round" stroke-linejoin="round"/><path d="M1585.9,1891.3 L1585.9,2007.3 M1718.2,1891.3 L1718.2,2007.3 M1651.6,1875.4 L1602.6,1928.9 L1587.2,1941.1 M1651.6,1875.4 L1700.5,1928.9 L1716.3,1941.1 M1651.6,1875.4 L1651.6,1943.4 M1602.6,1928.9 L1651.6,1943.4 L1700.5,1928.9 M1587.2,1941.1 L1651.6,2008.6 L1716.3,1941.1 M1585.9,2007.3 L1635.2,1995.9 M1718.2,2007.3 L1667.9,1995.9 M1651.6,1957.9 L1651.6,2008.6" fill="none" stroke="#7CC8EA" stroke-width="4.0" stroke-linecap="round" stroke-linejoin="round"/></g>
<text x="1740.3" y="1732" font-size="32" textLength="231" lengthAdjust="spacingAndGlyphs"><tspan font-style="italic">E</tspan><tspan font-style="italic" font-size="22" dy="7">y</tspan><tspan dy="-7"> </tspan><tspan font-style="italic">/E</tspan><tspan font-style="italic" font-size="22" dy="7">x</tspan><tspan dy="-7"> </tspan>= 1.02×10<tspan font-size="21" dy="-13">6</tspan></text>
<text x="1737.6" y="1783.1" font-size="32" textLength="251" lengthAdjust="spacingAndGlyphs"><tspan font-style="italic" font-size="34">ν</tspan><tspan font-style="italic" font-size="22" dy="7">xy</tspan><tspan dy="-7"> </tspan><tspan font-style="italic">/</tspan><tspan font-style="italic" font-size="34">ν</tspan><tspan font-style="italic" font-size="22" dy="7">yx</tspan><tspan dy="-7"> </tspan>= 9.81×10<tspan font-size="21" dy="-13">-7</tspan></text>
<text x="1740.3" y="1920.2" font-size="32" textLength="240" lengthAdjust="spacingAndGlyphs"><tspan font-style="italic">E</tspan><tspan font-style="italic" font-size="22" dy="7">y</tspan><tspan dy="-7"> </tspan><tspan font-style="italic">/E</tspan><tspan font-style="italic" font-size="22" dy="7">x</tspan><tspan dy="-7"> </tspan>= 7.73×10<tspan font-size="21" dy="-13">-7</tspan></text>
<text x="1737.6" y="1971.2" font-size="32" textLength="241" lengthAdjust="spacingAndGlyphs"><tspan font-style="italic" font-size="34">ν</tspan><tspan font-style="italic" font-size="22" dy="7">xy</tspan><tspan dy="-7"> </tspan><tspan font-style="italic">/</tspan><tspan font-style="italic" font-size="34">ν</tspan><tspan font-style="italic" font-size="22" dy="7">yx</tspan><tspan dy="-7"> </tspan>= 1.29×10<tspan font-size="21" dy="-13">6</tspan></text>
</svg></body></html>
